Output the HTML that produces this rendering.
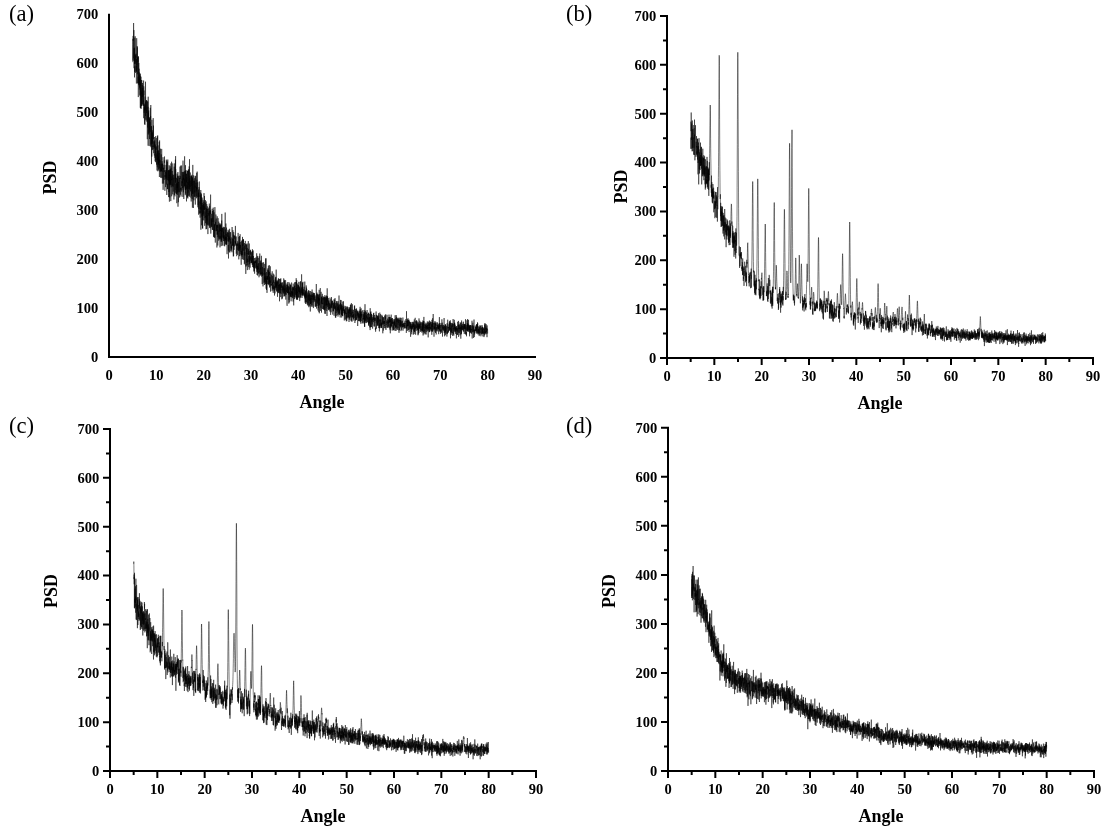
<!DOCTYPE html>
<html><head><meta charset="utf-8"><title>PSD</title>
<style>
html,body{margin:0;padding:0;background:#fff;width:1111px;height:833px;overflow:hidden}
svg{display:block;will-change:transform}
text{font-family:"Liberation Serif",serif;fill:#000}
.tl text{font-size:14.5px;font-weight:bold}
.at{font-size:18px;font-weight:bold}
.pl{font-size:22.6px}
</style></head><body>
<svg width="1111" height="833" viewBox="0 0 1111 833">
<path d="M108 357H536M109 358V13.8" stroke="#000" stroke-width="2" fill="none"/>
<g class="tl"><text x="98.2" y="361.5" text-anchor="end">0</text><text x="98.2" y="312.6" text-anchor="end">100</text><text x="98.2" y="263.7" text-anchor="end">200</text><text x="98.2" y="214.8" text-anchor="end">300</text><text x="98.2" y="166.0" text-anchor="end">400</text><text x="98.2" y="117.1" text-anchor="end">500</text><text x="98.2" y="68.2" text-anchor="end">600</text><text x="98.2" y="19.3" text-anchor="end">700</text><text x="109.0" y="380.0" text-anchor="middle">0</text><text x="156.3" y="380.0" text-anchor="middle">10</text><text x="203.7" y="380.0" text-anchor="middle">20</text><text x="251.0" y="380.0" text-anchor="middle">30</text><text x="298.3" y="380.0" text-anchor="middle">40</text><text x="345.7" y="380.0" text-anchor="middle">50</text><text x="393.0" y="380.0" text-anchor="middle">60</text><text x="440.3" y="380.0" text-anchor="middle">70</text><text x="487.7" y="380.0" text-anchor="middle">80</text><text x="535.0" y="380.0" text-anchor="middle">90</text></g>
<text class="at" x="322.0" y="408.0" text-anchor="middle">Angle</text>
<text class="at" transform="translate(56.0 177.4) rotate(-90)" text-anchor="middle">PSD</text>
<text class="pl" x="9" y="20.6">(a)</text>
<path d="M132.7 62.2L132.8 44.6L132.9 38.8L133.0 41.9L133.0 60.6L133.1 35.9L133.2 40.7L133.3 40.9L133.4 40.7L133.5 36.6L133.6 23.0L133.7 58.3L133.8 50.6L133.9 30.1L134.0 68.2L134.1 48.3L134.2 61.1L134.3 53.3L134.4 47.7L134.5 77.4L134.6 66.4L134.7 71.9L134.7 58.0L134.8 64.0L134.9 37.7L135.0 63.9L135.1 36.2L135.2 62.4L135.3 54.6L135.4 57.9L135.5 58.7L135.6 72.9L135.7 55.7L135.8 55.6L135.9 57.8L136.0 53.7L136.1 71.5L136.2 65.7L136.3 70.6L136.4 83.5L136.5 59.2L136.5 71.7L136.6 65.5L136.7 38.2L136.8 62.9L136.9 64.8L137.0 53.8L137.1 52.3L137.2 46.1L137.3 74.3L137.4 47.3L137.5 70.7L137.6 83.4L137.7 81.1L137.8 57.6L137.9 62.2L138.0 56.6L138.1 83.1L138.2 76.8L138.3 87.4L138.3 97.1L138.4 74.6L138.5 56.4L138.6 62.4L138.7 85.2L138.8 62.9L138.9 83.9L139.0 74.1L139.1 68.7L139.2 83.7L139.3 89.8L139.4 72.5L139.5 82.7L139.6 87.7L139.7 74.5L139.8 85.0L139.9 78.7L140.0 94.9L140.1 76.0L140.1 95.9L140.2 90.1L140.3 107.8L140.4 73.6L140.5 86.4L140.6 82.8L140.7 108.2L140.8 87.5L140.9 94.4L141.0 76.7L141.1 108.9L141.2 87.5L141.3 80.0L141.4 106.1L141.5 91.8L141.6 105.9L141.7 93.6L141.8 90.8L141.8 80.1L141.9 93.6L142.0 103.7L142.1 89.9L142.2 96.8L142.3 85.1L142.4 104.5L142.5 83.0L142.6 96.6L142.7 96.1L142.8 88.0L142.9 105.5L143.0 105.7L143.1 94.6L143.2 101.6L143.3 100.5L143.4 105.9L143.5 105.1L143.6 92.4L143.6 80.5L143.7 118.2L143.8 86.3L143.9 95.3L144.0 90.5L144.1 102.3L144.2 112.8L144.3 107.2L144.4 115.7L144.5 124.3L144.6 107.0L144.7 103.7L144.8 110.1L144.9 105.2L145.0 124.8L145.1 96.5L145.2 110.3L145.3 108.5L145.4 101.5L145.4 116.0L145.5 81.7L145.6 96.9L145.7 97.5L145.8 109.8L145.9 119.6L146.0 106.8L146.1 120.6L146.2 110.5L146.3 110.9L146.4 100.4L146.5 109.5L146.6 113.1L146.7 100.0L146.8 116.8L146.9 121.7L147.0 121.9L147.1 101.0L147.2 116.8L147.2 123.8L147.3 139.2L147.4 129.7L147.5 115.4L147.6 112.9L147.7 101.7L147.8 127.5L147.9 115.0L148.0 106.8L148.1 145.7L148.2 96.7L148.3 134.1L148.4 134.5L148.5 112.7L148.6 118.6L148.7 110.5L148.8 116.9L148.9 121.0L148.9 125.9L149.0 133.2L149.1 119.0L149.2 146.1L149.3 128.0L149.4 118.1L149.5 139.0L149.6 118.2L149.7 117.1L149.8 127.0L149.9 129.8L150.0 122.6L150.1 122.1L150.2 131.8L150.3 107.8L150.4 113.9L150.5 119.7L150.6 115.9L150.7 117.2L150.7 145.8L150.8 105.0L150.9 147.2L151.0 130.2L151.1 144.3L151.2 126.4L151.3 128.8L151.4 131.2L151.5 164.1L151.6 126.1L151.7 132.2L151.8 156.6L151.9 119.8L152.0 137.5L152.1 144.1L152.2 132.1L152.3 142.5L152.4 133.2L152.5 141.4L152.5 147.3L152.6 150.1L152.7 130.3L152.8 137.9L152.9 147.1L153.0 145.7L153.1 149.1L153.2 118.1L153.3 136.7L153.4 139.1L153.5 125.6L153.6 148.3L153.7 153.2L153.8 147.5L153.9 140.9L154.0 145.0L154.1 146.8L154.2 142.0L154.3 148.5L154.3 155.5L154.4 137.0L154.5 147.7L154.6 148.4L154.7 140.4L154.8 141.7L154.9 157.8L155.0 154.2L155.1 161.3L155.2 159.6L155.3 144.6L155.4 153.0L155.5 157.9L155.6 162.2L155.7 136.2L155.8 153.6L155.9 147.3L156.0 150.8L156.0 160.0L156.1 146.3L156.2 149.7L156.3 138.1L156.4 145.7L156.5 164.6L156.6 153.6L156.7 153.8L156.8 153.8L156.9 165.8L157.0 170.5L157.1 155.3L157.2 150.8L157.3 166.6L157.4 136.4L157.5 148.7L157.6 160.4L157.7 135.4L157.8 171.3L157.8 166.5L157.9 167.4L158.0 145.4L158.1 164.7L158.2 150.3L158.3 155.4L158.4 164.0L158.5 157.1L158.6 170.4L158.7 150.7L158.8 169.0L158.9 168.2L159.0 153.0L159.1 164.7L159.2 141.8L159.3 146.9L159.4 177.0L159.5 159.5L159.6 162.6L159.6 140.4L159.7 167.1L159.8 168.1L159.9 164.1L160.0 164.5L160.1 171.5L160.2 160.3L160.3 168.3L160.4 171.6L160.5 148.7L160.6 162.3L160.7 174.2L160.8 177.7L160.9 167.7L161.0 176.8L161.1 177.5L161.2 154.4L161.3 166.8L161.4 171.0L161.4 164.0L161.5 171.5L161.6 165.5L161.7 148.9L161.8 167.0L161.9 172.8L162.0 178.1L162.1 161.2L162.2 169.2L162.3 163.9L162.4 183.6L162.5 172.0L162.6 167.5L162.7 163.6L162.8 166.5L162.9 171.8L163.0 157.2L163.1 169.9L163.1 189.8L163.2 182.3L163.3 170.8L163.4 168.4L163.5 183.5L163.6 182.6L163.7 167.7L163.8 168.9L163.9 168.1L164.0 165.1L164.1 171.5L164.2 179.8L164.3 160.4L164.4 162.8L164.5 156.5L164.6 168.6L164.7 171.8L164.8 171.0L164.9 170.3L164.9 190.8L165.0 175.0L165.1 177.0L165.2 170.3L165.3 171.0L165.4 177.1L165.5 178.5L165.6 187.1L165.7 172.0L165.8 179.2L165.9 178.3L166.0 164.9L166.1 165.4L166.2 178.4L166.3 159.6L166.4 168.9L166.5 175.4L166.6 184.5L166.7 184.6L166.7 167.6L166.8 195.0L166.9 160.6L167.0 170.4L167.1 180.3L167.2 161.9L167.3 175.0L167.4 189.1L167.5 183.8L167.6 187.9L167.7 189.1L167.8 159.5L167.9 177.0L168.0 179.8L168.1 170.7L168.2 172.9L168.3 184.9L168.4 187.9L168.5 197.1L168.5 170.0L168.6 181.2L168.7 170.5L168.8 178.8L168.9 192.0L169.0 185.0L169.1 165.2L169.2 185.1L169.3 174.7L169.4 201.7L169.5 187.0L169.6 170.5L169.7 197.4L169.8 169.6L169.9 184.3L170.0 185.4L170.1 166.2L170.2 184.5L170.2 169.4L170.3 183.3L170.4 176.1L170.5 169.8L170.6 169.4L170.7 181.9L170.8 201.1L170.9 163.4L171.0 185.0L171.1 167.8L171.2 187.3L171.3 183.9L171.4 178.9L171.5 180.2L171.6 161.7L171.7 196.3L171.8 185.3L171.9 177.7L172.0 176.2L172.0 180.0L172.1 178.6L172.2 171.0L172.3 185.8L172.4 185.9L172.5 181.8L172.6 174.4L172.7 194.4L172.8 163.4L172.9 184.5L173.0 187.1L173.1 184.5L173.2 191.6L173.3 190.1L173.4 184.5L173.5 177.2L173.6 174.8L173.7 185.4L173.8 184.5L173.8 177.6L173.9 199.5L174.0 183.6L174.1 172.2L174.2 166.7L174.3 184.0L174.4 195.0L174.5 187.9L174.6 170.7L174.7 163.4L174.8 183.9L174.9 196.4L175.0 181.0L175.1 175.2L175.2 174.1L175.3 179.1L175.4 159.7L175.5 182.6L175.6 156.1L175.6 192.7L175.7 169.1L175.8 172.3L175.9 175.1L176.0 190.0L176.1 184.1L176.2 194.0L176.3 182.5L176.4 180.4L176.5 177.8L176.6 194.3L176.7 189.9L176.8 203.2L176.9 182.7L177.0 193.0L177.1 173.6L177.2 188.5L177.3 178.8L177.3 187.1L177.4 183.9L177.5 185.6L177.6 194.8L177.7 175.8L177.8 191.9L177.9 172.0L178.0 206.7L178.1 188.6L178.2 176.4L178.3 176.2L178.4 202.2L178.5 182.4L178.6 182.7L178.7 181.9L178.8 187.9L178.9 191.8L179.0 182.8L179.1 179.4L179.1 175.5L179.2 185.5L179.3 192.3L179.4 178.0L179.5 197.5L179.6 191.4L179.7 190.8L179.8 185.0L179.9 183.3L180.0 166.6L180.1 179.0L180.2 176.0L180.3 188.5L180.4 194.7L180.5 188.2L180.6 189.5L180.7 165.6L180.8 171.1L180.9 176.7L180.9 185.4L181.0 196.6L181.1 187.5L181.2 190.3L181.3 191.6L181.4 180.6L181.5 168.3L181.6 165.5L181.7 186.1L181.8 183.4L181.9 181.3L182.0 190.3L182.1 171.9L182.2 179.2L182.3 183.1L182.4 178.8L182.5 188.2L182.6 185.9L182.7 172.1L182.7 174.6L182.8 182.2L182.9 196.9L183.0 160.6L183.1 179.2L183.2 174.6L183.3 192.3L183.4 177.9L183.5 177.7L183.6 180.1L183.7 172.1L183.8 199.0L183.9 171.7L184.0 186.4L184.1 187.4L184.2 183.0L184.3 178.8L184.4 180.9L184.4 186.2L184.5 177.2L184.6 156.3L184.7 176.4L184.8 186.0L184.9 171.3L185.0 174.3L185.1 189.7L185.2 170.9L185.3 195.2L185.4 177.9L185.5 165.2L185.6 193.6L185.7 186.7L185.8 190.0L185.9 170.1L186.0 189.1L186.1 183.4L186.2 178.8L186.2 173.5L186.3 176.1L186.4 191.5L186.5 201.4L186.6 174.0L186.7 182.5L186.8 177.2L186.9 188.7L187.0 183.3L187.1 170.4L187.2 196.9L187.3 185.1L187.4 197.6L187.5 171.0L187.6 181.7L187.7 192.1L187.8 198.5L187.9 182.5L188.0 182.0L188.0 184.9L188.1 171.0L188.2 192.6L188.3 176.3L188.4 169.5L188.5 188.9L188.6 175.5L188.7 169.5L188.8 196.1L188.9 189.4L189.0 195.3L189.1 179.0L189.2 166.4L189.3 196.8L189.4 183.7L189.5 159.2L189.6 189.7L189.7 178.2L189.8 178.6L189.8 188.7L189.9 175.8L190.0 180.8L190.1 185.2L190.2 186.8L190.3 172.5L190.4 183.0L190.5 191.4L190.6 189.2L190.7 181.8L190.8 180.6L190.9 197.6L191.0 176.5L191.1 195.9L191.2 201.5L191.3 188.0L191.4 181.9L191.5 176.2L191.5 195.7L191.6 188.5L191.7 175.7L191.8 185.7L191.9 174.8L192.0 179.3L192.1 199.1L192.2 192.8L192.3 177.3L192.4 207.7L192.5 177.8L192.6 187.1L192.7 193.7L192.8 164.9L192.9 193.9L193.0 191.7L193.1 188.7L193.2 188.8L193.3 181.0L193.3 182.3L193.4 208.0L193.5 175.4L193.6 176.2L193.7 177.7L193.8 181.8L193.9 200.4L194.0 179.5L194.1 190.7L194.2 196.5L194.3 186.4L194.4 180.8L194.5 196.1L194.6 196.9L194.7 181.8L194.8 177.9L194.9 192.5L195.0 185.7L195.1 187.7L195.1 175.7L195.2 185.4L195.3 204.6L195.4 195.9L195.5 177.2L195.6 176.2L195.7 176.8L195.8 190.9L195.9 197.1L196.0 182.8L196.1 190.6L196.2 191.9L196.3 196.1L196.4 186.9L196.5 198.3L196.6 194.1L196.7 172.8L196.8 191.5L196.9 179.7L196.9 189.2L197.0 187.6L197.1 189.9L197.2 171.6L197.3 188.7L197.4 189.8L197.5 191.0L197.6 197.2L197.7 182.3L197.8 200.6L197.9 207.3L198.0 191.6L198.1 190.1L198.2 205.1L198.3 192.3L198.4 195.2L198.5 209.8L198.6 214.7L198.6 193.0L198.7 196.4L198.8 189.4L198.9 209.1L199.0 187.1L199.1 196.9L199.2 194.3L199.3 181.5L199.4 199.3L199.5 201.0L199.6 203.6L199.7 213.0L199.8 201.5L199.9 214.0L200.0 210.9L200.1 217.7L200.2 195.5L200.3 203.7L200.4 192.5L200.4 208.5L200.5 207.3L200.6 210.5L200.7 212.9L200.8 190.0L200.9 229.7L201.0 194.7L201.1 195.9L201.2 210.3L201.3 205.5L201.4 193.5L201.5 207.2L201.6 225.3L201.7 213.9L201.8 197.1L201.9 216.7L202.0 198.2L202.1 212.6L202.2 202.9L202.2 213.8L202.3 215.4L202.4 212.5L202.5 228.1L202.6 205.2L202.7 228.7L202.8 211.0L202.9 220.1L203.0 207.8L203.1 200.1L203.2 210.9L203.3 213.8L203.4 208.9L203.5 207.4L203.6 204.0L203.7 215.7L203.8 201.7L203.9 220.5L204.0 213.3L204.0 193.1L204.1 210.4L204.2 205.9L204.3 208.8L204.4 209.9L204.5 196.0L204.6 212.2L204.7 225.8L204.8 214.6L204.9 211.3L205.0 217.9L205.1 218.2L205.2 202.8L205.3 208.7L205.4 200.1L205.5 211.5L205.6 223.1L205.7 215.9L205.7 216.5L205.8 217.0L205.9 207.9L206.0 229.3L206.1 215.8L206.2 201.4L206.3 224.3L206.4 208.7L206.5 214.8L206.6 229.0L206.7 223.0L206.8 204.1L206.9 221.2L207.0 215.0L207.1 216.4L207.2 225.3L207.3 206.3L207.4 208.3L207.5 212.7L207.5 217.6L207.6 223.3L207.7 224.5L207.8 208.9L207.9 234.1L208.0 208.7L208.1 214.2L208.2 213.2L208.3 217.3L208.4 225.6L208.5 224.6L208.6 218.9L208.7 214.1L208.8 207.6L208.9 215.7L209.0 213.6L209.1 224.7L209.2 211.1L209.3 214.2L209.3 203.6L209.4 210.5L209.5 218.3L209.6 227.9L209.7 205.9L209.8 226.5L209.9 216.4L210.0 210.8L210.1 212.6L210.2 228.2L210.3 227.6L210.4 210.2L210.5 214.1L210.6 194.6L210.7 226.5L210.8 233.6L210.9 230.0L211.0 227.6L211.1 223.9L211.1 218.2L211.2 218.3L211.3 223.2L211.4 227.2L211.5 218.7L211.6 225.4L211.7 213.8L211.8 224.3L211.9 226.6L212.0 211.9L212.1 212.1L212.2 208.8L212.3 229.7L212.4 214.1L212.5 211.0L212.6 220.5L212.7 230.0L212.8 223.7L212.8 217.7L212.9 221.9L213.0 222.1L213.1 215.2L213.2 207.6L213.3 210.9L213.4 230.7L213.5 236.7L213.6 210.2L213.7 212.5L213.8 224.6L213.9 237.2L214.0 212.3L214.1 228.3L214.2 230.9L214.3 226.3L214.4 223.9L214.5 237.6L214.6 235.1L214.6 225.4L214.7 224.9L214.8 237.6L214.9 207.1L215.0 216.3L215.1 221.4L215.2 220.8L215.3 242.6L215.4 225.5L215.5 222.0L215.6 225.5L215.7 223.8L215.8 221.9L215.9 214.5L216.0 218.2L216.1 231.2L216.2 218.5L216.3 230.8L216.4 225.7L216.4 224.8L216.5 227.7L216.6 229.2L216.7 225.7L216.8 225.3L216.9 247.5L217.0 229.0L217.1 234.7L217.2 216.3L217.3 227.2L217.4 234.6L217.5 225.1L217.6 227.8L217.7 224.7L217.8 245.5L217.9 232.1L218.0 237.2L218.1 218.2L218.2 223.7L218.2 231.7L218.3 230.7L218.4 230.9L218.5 234.2L218.6 237.9L218.7 240.7L218.8 221.6L218.9 238.7L219.0 227.5L219.1 224.4L219.2 226.7L219.3 231.7L219.4 226.8L219.5 236.1L219.6 239.4L219.7 224.6L219.8 226.9L219.9 223.0L219.9 232.0L220.0 247.4L220.1 236.0L220.2 237.8L220.3 224.6L220.4 239.2L220.5 225.4L220.6 231.0L220.7 230.7L220.8 231.0L220.9 228.3L221.0 241.6L221.1 224.0L221.2 246.1L221.3 239.2L221.4 239.5L221.5 228.1L221.6 240.4L221.7 220.5L221.7 241.7L221.8 213.9L221.9 229.3L222.0 227.7L222.1 231.7L222.2 227.7L222.3 240.4L222.4 245.6L222.5 228.2L222.6 230.0L222.7 236.6L222.8 237.4L222.9 236.7L223.0 234.3L223.1 228.8L223.2 238.4L223.3 233.5L223.4 226.8L223.5 237.6L223.5 231.6L223.6 241.0L223.7 236.1L223.8 238.6L223.9 227.7L224.0 239.6L224.1 245.8L224.2 235.3L224.3 241.3L224.4 227.1L224.5 234.4L224.6 241.0L224.7 246.3L224.8 237.7L224.9 239.7L225.0 239.2L225.1 237.5L225.2 212.5L225.3 244.4L225.3 236.9L225.4 232.3L225.5 229.5L225.6 239.8L225.7 236.7L225.8 240.9L225.9 223.5L226.0 243.8L226.1 237.0L226.2 244.9L226.3 233.8L226.4 244.7L226.5 227.6L226.6 243.8L226.7 240.5L226.8 240.3L226.9 237.5L227.0 244.7L227.0 253.5L227.1 254.2L227.2 242.0L227.3 232.0L227.4 232.0L227.5 236.8L227.6 232.8L227.7 240.3L227.8 241.4L227.9 236.4L228.0 230.0L228.1 229.7L228.2 237.1L228.3 250.6L228.4 245.0L228.5 258.5L228.6 232.6L228.7 241.0L228.8 230.6L228.8 230.6L228.9 242.0L229.0 235.8L229.1 241.2L229.2 251.9L229.3 237.6L229.4 239.5L229.5 239.4L229.6 228.8L229.7 248.1L229.8 252.6L229.9 234.1L230.0 232.1L230.1 236.5L230.2 240.4L230.3 239.0L230.4 239.4L230.5 240.3L230.6 243.6L230.6 232.2L230.7 245.5L230.8 251.3L230.9 241.4L231.0 246.9L231.1 248.4L231.2 237.4L231.3 250.5L231.4 249.2L231.5 246.5L231.6 248.6L231.7 245.2L231.8 244.7L231.9 251.6L232.0 252.3L232.1 227.0L232.2 240.8L232.3 245.4L232.4 238.5L232.4 240.9L232.5 241.5L232.6 245.3L232.7 244.6L232.8 245.9L232.9 230.2L233.0 244.9L233.1 239.4L233.2 239.0L233.3 256.5L233.4 234.6L233.5 241.2L233.6 256.1L233.7 232.1L233.8 235.9L233.9 240.9L234.0 247.9L234.1 249.8L234.1 244.4L234.2 246.6L234.3 236.0L234.4 238.7L234.5 235.4L234.6 242.0L234.7 244.6L234.8 245.3L234.9 245.7L235.0 244.8L235.1 241.1L235.2 242.1L235.3 243.8L235.4 225.9L235.5 242.9L235.6 241.4L235.7 245.4L235.8 236.6L235.9 237.6L235.9 243.3L236.0 236.4L236.1 239.4L236.2 253.7L236.3 253.4L236.4 251.3L236.5 243.4L236.6 249.9L236.7 256.2L236.8 249.1L236.9 244.9L237.0 245.3L237.1 243.7L237.2 246.0L237.3 243.5L237.4 246.4L237.5 250.8L237.6 254.9L237.7 245.6L237.7 241.3L237.8 249.8L237.9 249.5L238.0 239.5L238.1 232.9L238.2 235.0L238.3 249.6L238.4 251.0L238.5 247.8L238.6 244.6L238.7 243.6L238.8 259.4L238.9 236.9L239.0 239.9L239.1 249.5L239.2 242.5L239.3 251.2L239.4 247.0L239.5 236.0L239.5 256.2L239.6 250.7L239.7 250.4L239.8 249.4L239.9 245.0L240.0 248.0L240.1 234.2L240.2 253.9L240.3 241.9L240.4 250.3L240.5 244.8L240.6 248.8L240.7 250.2L240.8 252.3L240.9 250.1L241.0 255.7L241.1 252.7L241.2 264.8L241.2 250.7L241.3 255.1L241.4 250.9L241.5 255.0L241.6 241.3L241.7 250.4L241.8 250.1L241.9 240.3L242.0 256.6L242.1 248.3L242.2 259.1L242.3 255.6L242.4 255.2L242.5 236.9L242.6 254.9L242.7 244.5L242.8 246.0L242.9 239.7L243.0 251.6L243.0 259.5L243.1 258.5L243.2 239.7L243.3 245.7L243.4 239.6L243.5 239.0L243.6 248.0L243.7 250.7L243.8 246.4L243.9 260.0L244.0 253.2L244.1 251.1L244.2 245.6L244.3 263.5L244.4 264.3L244.5 243.1L244.6 247.4L244.7 254.8L244.8 255.5L244.8 252.1L244.9 263.5L245.0 258.1L245.1 245.3L245.2 245.3L245.3 240.9L245.4 249.2L245.5 244.1L245.6 263.0L245.7 262.9L245.8 273.9L245.9 263.5L246.0 266.7L246.1 248.9L246.2 248.5L246.3 263.7L246.4 265.5L246.5 247.1L246.6 244.8L246.6 262.8L246.7 252.4L246.8 244.2L246.9 252.3L247.0 243.4L247.1 254.0L247.2 253.0L247.3 257.4L247.4 270.1L247.5 258.8L247.6 262.2L247.7 247.8L247.8 265.3L247.9 256.4L248.0 255.2L248.1 251.5L248.2 255.2L248.3 241.1L248.3 252.2L248.4 254.3L248.5 254.6L248.6 249.2L248.7 267.1L248.8 261.7L248.9 256.2L249.0 262.0L249.1 255.8L249.2 269.7L249.3 243.5L249.4 254.9L249.5 256.4L249.6 264.3L249.7 251.6L249.8 250.9L249.9 261.0L250.0 258.1L250.1 267.7L250.1 256.2L250.2 257.4L250.3 250.7L250.4 254.6L250.5 249.8L250.6 259.3L250.7 257.0L250.8 259.7L250.9 258.6L251.0 263.2L251.1 259.6L251.2 263.0L251.3 251.6L251.4 256.5L251.5 258.2L251.6 262.2L251.7 252.4L251.8 258.9L251.9 256.1L251.9 263.1L252.0 257.9L252.1 264.8L252.2 264.7L252.3 264.2L252.4 249.2L252.5 259.8L252.6 250.9L252.7 267.1L252.8 258.6L252.9 264.8L253.0 259.0L253.1 250.4L253.2 251.3L253.3 267.1L253.4 256.6L253.5 256.0L253.6 263.0L253.7 264.7L253.7 268.1L253.8 261.1L253.9 271.6L254.0 264.2L254.1 262.0L254.2 267.7L254.3 270.9L254.4 258.0L254.5 264.4L254.6 273.7L254.7 265.0L254.8 261.4L254.9 267.8L255.0 261.1L255.1 262.7L255.2 261.7L255.3 266.6L255.4 267.7L255.4 257.6L255.5 262.8L255.6 261.8L255.7 260.6L255.8 262.4L255.9 262.3L256.0 262.8L256.1 264.7L256.2 269.0L256.3 260.1L256.4 263.5L256.5 267.5L256.6 260.0L256.7 253.3L256.8 271.8L256.9 264.4L257.0 257.4L257.1 275.0L257.2 266.0L257.2 266.6L257.3 270.1L257.4 255.9L257.5 261.1L257.6 267.1L257.7 275.6L257.8 265.9L257.9 272.5L258.0 263.8L258.1 269.2L258.2 265.4L258.3 257.9L258.4 262.5L258.5 269.2L258.6 268.4L258.7 273.3L258.8 263.0L258.9 273.7L259.0 271.7L259.0 277.3L259.1 267.8L259.2 256.2L259.3 271.4L259.4 271.4L259.5 272.1L259.6 268.2L259.7 266.5L259.8 253.5L259.9 261.3L260.0 267.8L260.1 275.9L260.2 261.0L260.3 266.5L260.4 274.2L260.5 267.8L260.6 269.4L260.7 262.6L260.8 267.2L260.8 274.9L260.9 268.0L261.0 260.2L261.1 267.9L261.2 273.0L261.3 274.1L261.4 255.8L261.5 262.9L261.6 276.6L261.7 267.5L261.8 263.1L261.9 266.0L262.0 274.4L262.1 272.3L262.2 284.1L262.3 273.4L262.4 273.1L262.5 266.9L262.5 273.9L262.6 275.9L262.7 262.5L262.8 266.5L262.9 276.5L263.0 286.4L263.1 284.2L263.2 274.2L263.3 273.5L263.4 274.3L263.5 268.2L263.6 262.3L263.7 268.8L263.8 272.1L263.9 272.4L264.0 283.1L264.1 268.1L264.2 275.5L264.3 268.2L264.3 281.8L264.4 276.3L264.5 285.0L264.6 276.7L264.7 263.9L264.8 279.6L264.9 277.9L265.0 278.2L265.1 273.2L265.2 281.8L265.3 278.7L265.4 284.2L265.5 258.5L265.6 279.8L265.7 277.3L265.8 283.8L265.9 275.9L266.0 278.2L266.1 288.7L266.1 258.3L266.2 279.3L266.3 279.3L266.4 272.0L266.5 290.0L266.6 278.2L266.7 285.2L266.8 281.7L266.9 280.4L267.0 292.9L267.1 281.0L267.2 276.1L267.3 284.0L267.4 276.8L267.5 279.7L267.6 269.6L267.7 279.1L267.8 276.3L267.9 277.8L267.9 280.0L268.0 268.2L268.1 275.8L268.2 276.4L268.3 274.0L268.4 265.6L268.5 284.0L268.6 270.3L268.7 285.2L268.8 279.7L268.9 274.6L269.0 271.6L269.1 284.3L269.2 272.0L269.3 275.3L269.4 265.2L269.5 287.5L269.6 276.4L269.6 282.5L269.7 282.1L269.8 280.0L269.9 283.3L270.0 277.2L270.1 279.6L270.2 286.5L270.3 266.3L270.4 280.3L270.5 291.6L270.6 282.3L270.7 280.6L270.8 282.7L270.9 282.8L271.0 273.5L271.1 284.7L271.2 284.2L271.3 284.7L271.4 284.0L271.4 285.8L271.5 281.1L271.6 275.2L271.7 281.1L271.8 281.1L271.9 285.0L272.0 285.4L272.1 291.2L272.2 271.3L272.3 284.1L272.4 288.4L272.5 282.5L272.6 284.2L272.7 276.1L272.8 280.8L272.9 289.8L273.0 286.5L273.1 288.8L273.2 284.6L273.2 292.9L273.3 273.6L273.4 281.5L273.5 282.8L273.6 282.3L273.7 280.3L273.8 289.1L273.9 283.4L274.0 274.6L274.1 275.7L274.2 290.9L274.3 287.3L274.4 286.3L274.5 295.5L274.6 288.3L274.7 284.9L274.8 281.8L274.9 285.9L275.0 293.4L275.0 286.4L275.1 289.7L275.2 279.5L275.3 280.0L275.4 288.1L275.5 277.5L275.6 287.2L275.7 283.4L275.8 276.8L275.9 281.3L276.0 286.6L276.1 284.4L276.2 269.6L276.3 286.6L276.4 283.1L276.5 291.5L276.6 282.2L276.7 288.1L276.7 280.5L276.8 290.5L276.9 281.7L277.0 285.3L277.1 283.7L277.2 282.7L277.3 281.1L277.4 290.8L277.5 296.8L277.6 286.6L277.7 281.8L277.8 292.6L277.9 279.8L278.0 291.3L278.1 285.3L278.2 286.0L278.3 285.8L278.4 278.2L278.5 293.1L278.5 291.9L278.6 289.3L278.7 285.1L278.8 291.6L278.9 279.0L279.0 286.5L279.1 287.1L279.2 289.4L279.3 281.5L279.4 278.9L279.5 301.3L279.6 284.0L279.7 293.4L279.8 284.8L279.9 286.2L280.0 285.6L280.1 288.0L280.2 290.0L280.3 282.8L280.3 292.9L280.4 279.2L280.5 283.3L280.6 295.1L280.7 297.1L280.8 278.3L280.9 288.5L281.0 293.9L281.1 282.5L281.2 287.3L281.3 285.2L281.4 287.9L281.5 287.5L281.6 284.6L281.7 283.3L281.8 299.3L281.9 288.8L282.0 284.3L282.1 282.4L282.1 290.4L282.2 289.0L282.3 293.1L282.4 298.5L282.5 291.9L282.6 285.7L282.7 289.3L282.8 282.4L282.9 292.3L283.0 286.4L283.1 290.1L283.2 286.8L283.3 293.5L283.4 290.0L283.5 289.7L283.6 288.0L283.7 278.4L283.8 296.5L283.8 284.6L283.9 293.4L284.0 288.9L284.1 291.1L284.2 289.7L284.3 281.0L284.4 291.4L284.5 279.8L284.6 296.0L284.7 289.4L284.8 292.1L284.9 296.4L285.0 288.0L285.1 293.7L285.2 285.5L285.3 294.6L285.4 288.8L285.5 288.8L285.6 280.1L285.6 287.8L285.7 293.7L285.8 299.6L285.9 291.1L286.0 283.5L286.1 287.2L286.2 294.8L286.3 289.7L286.4 287.3L286.5 292.0L286.6 290.2L286.7 291.1L286.8 290.0L286.9 284.9L287.0 304.5L287.1 305.8L287.2 284.6L287.3 293.1L287.4 284.2L287.4 282.2L287.5 293.1L287.6 291.7L287.7 284.6L287.8 284.5L287.9 288.6L288.0 286.1L288.1 292.5L288.2 288.3L288.3 293.1L288.4 286.4L288.5 294.7L288.6 290.8L288.7 289.4L288.8 303.6L288.9 282.0L289.0 299.9L289.1 292.6L289.2 293.1L289.2 291.7L289.3 302.4L289.4 287.2L289.5 288.7L289.6 289.5L289.7 288.3L289.8 283.4L289.9 292.4L290.0 294.4L290.1 285.6L290.2 297.2L290.3 293.1L290.4 296.1L290.5 284.5L290.6 291.2L290.7 285.2L290.8 287.6L290.9 296.8L290.9 291.4L291.0 296.7L291.1 301.3L291.2 290.9L291.3 296.9L291.4 291.7L291.5 292.3L291.6 282.5L291.7 293.2L291.8 294.4L291.9 291.9L292.0 297.3L292.1 290.4L292.2 288.3L292.3 294.2L292.4 298.2L292.5 295.7L292.6 286.7L292.7 295.4L292.7 291.6L292.8 295.7L292.9 296.0L293.0 287.4L293.1 301.5L293.2 283.6L293.3 290.0L293.4 287.1L293.5 294.7L293.6 298.0L293.7 305.4L293.8 295.0L293.9 287.9L294.0 290.2L294.1 289.5L294.2 297.0L294.3 295.1L294.4 285.6L294.5 299.1L294.5 298.2L294.6 282.4L294.7 287.8L294.8 286.2L294.9 293.4L295.0 297.3L295.1 292.4L295.2 289.8L295.3 284.4L295.4 282.0L295.5 293.6L295.6 288.0L295.7 295.2L295.8 294.1L295.9 293.5L296.0 298.3L296.1 297.6L296.2 278.2L296.3 296.9L296.3 282.0L296.4 294.7L296.5 289.0L296.6 299.8L296.7 280.1L296.8 288.2L296.9 299.2L297.0 291.3L297.1 287.1L297.2 299.1L297.3 283.5L297.4 292.9L297.5 291.6L297.6 299.9L297.7 293.2L297.8 284.8L297.9 291.3L298.0 294.7L298.0 297.4L298.1 295.4L298.2 285.6L298.3 292.6L298.4 297.5L298.5 285.2L298.6 291.6L298.7 282.2L298.8 281.8L298.9 290.0L299.0 297.4L299.1 295.0L299.2 286.4L299.3 287.2L299.4 292.2L299.5 287.3L299.6 291.2L299.7 301.1L299.8 288.5L299.8 292.5L299.9 291.5L300.0 294.3L300.1 281.9L300.2 290.8L300.3 298.1L300.4 292.6L300.5 281.2L300.6 293.8L300.7 296.9L300.8 290.9L300.9 289.5L301.0 289.6L301.1 295.0L301.2 293.1L301.3 293.5L301.4 287.7L301.5 292.9L301.6 288.9L301.6 274.3L301.7 290.6L301.8 290.9L301.9 291.3L302.0 298.0L302.1 286.8L302.2 295.9L302.3 282.3L302.4 295.2L302.5 283.2L302.6 294.8L302.7 287.6L302.8 293.6L302.9 284.1L303.0 281.8L303.1 292.6L303.2 293.2L303.3 294.2L303.4 293.2L303.4 292.2L303.5 290.5L303.6 289.3L303.7 295.0L303.8 292.5L303.9 294.2L304.0 296.2L304.1 286.7L304.2 295.9L304.3 294.3L304.4 294.4L304.5 294.7L304.6 297.3L304.7 294.3L304.8 281.6L304.9 298.1L305.0 298.6L305.1 290.0L305.1 302.7L305.2 292.5L305.3 299.3L305.4 300.6L305.5 303.9L305.6 291.3L305.7 301.8L305.8 294.4L305.9 297.5L306.0 290.9L306.1 297.9L306.2 285.4L306.3 290.8L306.4 287.5L306.5 302.3L306.6 293.2L306.7 288.8L306.8 291.7L306.9 303.0L306.9 303.8L307.0 300.3L307.1 300.2L307.2 291.5L307.3 294.3L307.4 305.2L307.5 294.3L307.6 294.0L307.7 293.3L307.8 298.5L307.9 302.0L308.0 303.3L308.1 295.2L308.2 305.7L308.3 302.5L308.4 291.4L308.5 291.2L308.6 293.6L308.7 300.3L308.7 290.0L308.8 307.2L308.9 303.5L309.0 298.9L309.1 294.6L309.2 305.4L309.3 293.3L309.4 299.1L309.5 298.9L309.6 300.9L309.7 291.1L309.8 302.4L309.9 306.4L310.0 296.0L310.1 294.5L310.2 296.9L310.3 311.5L310.4 295.4L310.5 300.8L310.5 304.0L310.6 294.7L310.7 291.0L310.8 304.1L310.9 298.7L311.0 303.0L311.1 297.9L311.2 299.2L311.3 294.9L311.4 301.1L311.5 306.6L311.6 296.3L311.7 297.2L311.8 292.1L311.9 305.1L312.0 298.5L312.1 289.5L312.2 299.9L312.2 294.2L312.3 296.8L312.4 295.7L312.5 302.7L312.6 305.0L312.7 306.7L312.8 303.5L312.9 296.5L313.0 292.6L313.1 302.5L313.2 297.9L313.3 294.9L313.4 308.1L313.5 300.8L313.6 292.9L313.7 297.2L313.8 299.2L313.9 298.0L314.0 300.0L314.0 293.0L314.1 297.1L314.2 300.6L314.3 293.7L314.4 293.2L314.5 297.8L314.6 296.6L314.7 301.6L314.8 301.9L314.9 296.5L315.0 294.9L315.1 306.6L315.2 298.9L315.3 302.4L315.4 303.8L315.5 306.2L315.6 306.7L315.7 305.8L315.8 299.5L315.8 298.4L315.9 296.3L316.0 303.6L316.1 306.3L316.2 301.8L316.3 284.0L316.4 302.7L316.5 306.4L316.6 308.6L316.7 299.7L316.8 293.7L316.9 302.6L317.0 292.6L317.1 304.2L317.2 305.8L317.3 302.6L317.4 294.6L317.5 303.0L317.6 303.7L317.6 301.3L317.7 294.2L317.8 298.7L317.9 299.5L318.0 310.5L318.1 302.7L318.2 299.3L318.3 297.5L318.4 297.2L318.5 308.2L318.6 295.3L318.7 305.5L318.8 294.3L318.9 312.1L319.0 297.7L319.1 300.8L319.2 289.8L319.3 301.8L319.3 313.3L319.4 298.7L319.5 303.8L319.6 305.3L319.7 294.2L319.8 297.4L319.9 300.3L320.0 301.0L320.1 299.2L320.2 291.7L320.3 288.1L320.4 303.6L320.5 307.6L320.6 310.9L320.7 307.4L320.8 301.2L320.9 308.1L321.0 302.7L321.1 303.5L321.1 291.8L321.2 302.3L321.3 299.6L321.4 297.2L321.5 312.6L321.6 297.2L321.7 301.3L321.8 299.2L321.9 303.8L322.0 295.9L322.1 303.7L322.2 300.9L322.3 293.8L322.4 295.2L322.5 309.1L322.6 305.7L322.7 302.8L322.8 304.3L322.9 302.7L322.9 298.0L323.0 299.2L323.1 299.6L323.2 297.9L323.3 308.9L323.4 305.5L323.5 296.5L323.6 308.1L323.7 309.7L323.8 305.6L323.9 309.3L324.0 305.4L324.1 297.1L324.2 302.8L324.3 303.3L324.4 308.6L324.5 310.4L324.6 297.4L324.7 313.7L324.7 309.3L324.8 295.2L324.9 303.8L325.0 309.9L325.1 297.1L325.2 305.7L325.3 303.5L325.4 298.1L325.5 306.7L325.6 313.8L325.7 303.7L325.8 296.5L325.9 301.9L326.0 301.7L326.1 308.3L326.2 302.6L326.3 295.4L326.4 297.5L326.4 304.7L326.5 298.2L326.6 305.5L326.7 296.5L326.8 311.0L326.9 303.5L327.0 316.0L327.1 306.0L327.2 288.3L327.3 305.5L327.4 296.6L327.5 301.7L327.6 296.5L327.7 307.0L327.8 307.0L327.9 305.0L328.0 304.2L328.1 304.5L328.2 302.1L328.2 308.9L328.3 301.6L328.4 298.1L328.5 309.2L328.6 310.0L328.7 300.7L328.8 304.0L328.9 300.4L329.0 310.3L329.1 307.1L329.2 302.7L329.3 308.3L329.4 303.7L329.5 304.8L329.6 309.3L329.7 306.8L329.8 310.1L329.9 311.6L330.0 308.8L330.0 297.6L330.1 305.8L330.2 303.8L330.3 308.4L330.4 307.7L330.5 305.5L330.6 314.9L330.7 313.3L330.8 311.3L330.9 299.3L331.0 302.4L331.1 312.3L331.2 309.5L331.3 302.7L331.4 307.6L331.5 297.1L331.6 303.8L331.7 307.5L331.8 304.3L331.8 301.3L331.9 304.3L332.0 308.3L332.1 300.8L332.2 300.7L332.3 304.9L332.4 300.9L332.5 300.8L332.6 302.4L332.7 312.8L332.8 314.6L332.9 305.5L333.0 302.7L333.1 306.6L333.2 311.0L333.3 304.7L333.4 311.4L333.5 310.4L333.5 306.6L333.6 303.2L333.7 303.2L333.8 308.1L333.9 306.9L334.0 299.3L334.1 315.8L334.2 305.6L334.3 303.8L334.4 302.0L334.5 306.5L334.6 308.9L334.7 299.7L334.8 308.4L334.9 306.9L335.0 298.1L335.1 305.3L335.2 308.3L335.3 309.8L335.3 303.1L335.4 317.6L335.5 310.0L335.6 307.4L335.7 306.4L335.8 317.6L335.9 309.8L336.0 305.5L336.1 312.8L336.2 311.9L336.3 315.8L336.4 301.7L336.5 301.2L336.6 301.2L336.7 311.3L336.8 307.6L336.9 305.2L337.0 301.3L337.1 312.3L337.1 303.3L337.2 306.0L337.3 303.4L337.4 303.9L337.5 310.5L337.6 306.3L337.7 310.5L337.8 315.1L337.9 307.2L338.0 316.6L338.1 301.2L338.2 304.8L338.3 310.4L338.4 305.6L338.5 310.2L338.6 307.6L338.7 313.6L338.8 303.7L338.9 314.4L338.9 312.7L339.0 295.5L339.1 305.2L339.2 312.6L339.3 305.0L339.4 315.1L339.5 309.5L339.6 313.3L339.7 312.3L339.8 309.1L339.9 306.3L340.0 304.1L340.1 310.2L340.2 317.5L340.3 307.9L340.4 308.6L340.5 302.9L340.6 307.6L340.6 299.9L340.7 304.1L340.8 310.4L340.9 307.0L341.0 309.4L341.1 300.2L341.2 314.3L341.3 310.4L341.4 306.4L341.5 314.9L341.6 305.1L341.7 317.5L341.8 304.1L341.9 308.0L342.0 310.7L342.1 310.0L342.2 315.7L342.3 305.7L342.4 306.2L342.4 315.6L342.5 308.3L342.6 310.5L342.7 310.2L342.8 316.2L342.9 301.7L343.0 305.2L343.1 312.8L343.2 310.0L343.3 301.2L343.4 310.3L343.5 310.9L343.6 308.1L343.7 307.0L343.8 310.9L343.9 310.1L344.0 305.7L344.1 313.0L344.2 313.7L344.2 310.7L344.3 320.5L344.4 316.2L344.5 309.3L344.6 315.2L344.7 309.9L344.8 312.8L344.9 311.5L345.0 318.8L345.1 319.1L345.2 319.4L345.3 305.9L345.4 313.5L345.5 310.8L345.6 308.1L345.7 307.6L345.8 314.7L345.9 319.6L346.0 315.3L346.0 313.0L346.1 314.1L346.2 312.7L346.3 321.3L346.4 315.4L346.5 317.9L346.6 307.3L346.7 317.0L346.8 321.1L346.9 310.6L347.0 306.1L347.1 308.2L347.2 308.6L347.3 309.6L347.4 312.1L347.5 313.0L347.6 317.4L347.7 311.0L347.7 307.2L347.8 308.0L347.9 318.4L348.0 307.3L348.1 313.5L348.2 310.5L348.3 309.1L348.4 317.0L348.5 313.7L348.6 309.8L348.7 317.5L348.8 315.3L348.9 311.4L349.0 322.0L349.1 320.5L349.2 315.7L349.3 319.7L349.4 316.6L349.5 307.3L349.5 311.4L349.6 309.1L349.7 318.1L349.8 309.6L349.9 313.9L350.0 307.6L350.1 315.9L350.2 311.9L350.3 311.1L350.4 304.8L350.5 311.0L350.6 317.3L350.7 312.3L350.8 304.6L350.9 316.8L351.0 320.5L351.1 316.3L351.2 309.5L351.3 321.4L351.3 318.5L351.4 303.1L351.5 315.1L351.6 314.8L351.7 312.7L351.8 313.0L351.9 316.9L352.0 315.2L352.1 321.6L352.2 311.7L352.3 313.2L352.4 304.3L352.5 317.3L352.6 316.4L352.7 317.3L352.8 315.6L352.9 311.3L353.0 309.5L353.1 316.1L353.1 314.8L353.2 317.5L353.3 310.0L353.4 319.2L353.5 318.0L353.6 314.9L353.7 314.1L353.8 320.6L353.9 317.2L354.0 315.9L354.1 312.2L354.2 317.9L354.3 317.7L354.4 306.2L354.5 310.4L354.6 305.4L354.7 307.0L354.8 311.9L354.8 310.4L354.9 323.0L355.0 320.6L355.1 316.5L355.2 311.1L355.3 314.5L355.4 317.9L355.5 320.7L355.6 309.1L355.7 320.2L355.8 314.5L355.9 314.9L356.0 316.7L356.1 314.7L356.2 314.4L356.3 308.3L356.4 319.6L356.5 316.8L356.6 320.1L356.6 309.4L356.7 312.1L356.8 314.3L356.9 314.9L357.0 316.5L357.1 313.7L357.2 311.5L357.3 312.2L357.4 315.4L357.5 311.5L357.6 315.8L357.7 326.0L357.8 310.5L357.9 317.6L358.0 318.2L358.1 313.3L358.2 315.9L358.3 317.2L358.4 316.3L358.4 312.8L358.5 315.5L358.6 316.4L358.7 321.0L358.8 311.5L358.9 321.1L359.0 319.2L359.1 314.0L359.2 317.8L359.3 314.4L359.4 321.3L359.5 316.8L359.6 313.0L359.7 310.7L359.8 317.6L359.9 315.2L360.0 314.3L360.1 306.8L360.2 320.7L360.2 309.2L360.3 320.3L360.4 315.0L360.5 311.5L360.6 322.0L360.7 313.9L360.8 323.7L360.9 313.7L361.0 315.8L361.1 308.3L361.2 315.1L361.3 314.2L361.4 317.6L361.5 311.5L361.6 319.3L361.7 320.9L361.8 316.9L361.9 314.1L361.9 314.2L362.0 317.1L362.1 318.6L362.2 323.5L362.3 323.1L362.4 317.4L362.5 314.1L362.6 310.3L362.7 312.2L362.8 313.7L362.9 318.4L363.0 322.8L363.1 318.0L363.2 319.7L363.3 319.4L363.4 314.2L363.5 319.2L363.6 318.9L363.7 316.6L363.7 315.8L363.8 316.3L363.9 312.2L364.0 323.6L364.1 309.9L364.2 319.0L364.3 321.8L364.4 312.5L364.5 326.7L364.6 316.5L364.7 326.9L364.8 312.8L364.9 320.4L365.0 304.2L365.1 322.7L365.2 310.6L365.3 318.7L365.4 318.3L365.5 320.5L365.5 320.8L365.6 319.5L365.7 311.6L365.8 314.7L365.9 315.1L366.0 322.6L366.1 317.5L366.2 314.9L366.3 323.1L366.4 314.7L366.5 312.5L366.6 316.9L366.7 317.8L366.8 315.9L366.9 321.5L367.0 313.6L367.1 310.0L367.2 318.8L367.3 317.2L367.3 320.1L367.4 320.2L367.5 320.6L367.6 322.0L367.7 313.9L367.8 319.8L367.9 319.1L368.0 318.1L368.1 322.9L368.2 314.2L368.3 314.8L368.4 312.7L368.5 324.9L368.6 317.7L368.7 312.9L368.8 326.0L368.9 321.1L369.0 323.9L369.0 318.5L369.1 317.3L369.2 318.0L369.3 320.7L369.4 316.9L369.5 323.0L369.6 314.1L369.7 319.2L369.8 327.4L369.9 319.7L370.0 317.3L370.1 330.1L370.2 308.2L370.3 321.9L370.4 327.3L370.5 314.4L370.6 312.3L370.7 314.6L370.8 318.0L370.8 320.0L370.9 311.4L371.0 316.0L371.1 327.0L371.2 314.6L371.3 314.1L371.4 327.1L371.5 326.5L371.6 313.9L371.7 319.8L371.8 322.1L371.9 321.8L372.0 314.9L372.1 320.9L372.2 324.5L372.3 317.2L372.4 320.4L372.5 319.3L372.6 319.3L372.6 328.6L372.7 319.8L372.8 320.2L372.9 318.6L373.0 318.6L373.1 318.9L373.2 319.7L373.3 316.7L373.4 319.6L373.5 313.3L373.6 322.0L373.7 322.2L373.8 312.8L373.9 318.8L374.0 320.7L374.1 326.2L374.2 318.6L374.3 326.6L374.4 323.3L374.4 321.4L374.5 315.0L374.6 316.4L374.7 319.2L374.8 317.9L374.9 321.1L375.0 317.4L375.1 320.6L375.2 318.2L375.3 318.2L375.4 329.8L375.5 327.8L375.6 331.7L375.7 331.0L375.8 322.8L375.9 321.6L376.0 316.1L376.1 311.5L376.1 322.8L376.2 315.4L376.3 314.8L376.4 318.1L376.5 328.7L376.6 325.8L376.7 325.3L376.8 319.3L376.9 315.0L377.0 326.0L377.1 323.7L377.2 321.4L377.3 319.3L377.4 324.4L377.5 316.0L377.6 319.1L377.7 315.8L377.8 325.1L377.9 317.4L377.9 325.8L378.0 317.8L378.1 318.8L378.2 317.7L378.3 317.6L378.4 318.2L378.5 322.7L378.6 313.2L378.7 328.1L378.8 315.5L378.9 320.4L379.0 322.6L379.1 325.8L379.2 323.4L379.3 323.5L379.4 331.4L379.5 319.7L379.6 328.2L379.7 325.0L379.7 328.2L379.8 312.6L379.9 321.3L380.0 319.2L380.1 320.8L380.2 320.7L380.3 321.7L380.4 325.2L380.5 314.2L380.6 318.6L380.7 326.4L380.8 319.8L380.9 324.4L381.0 327.0L381.1 328.1L381.2 323.4L381.3 328.0L381.4 325.3L381.5 322.2L381.5 327.5L381.6 323.4L381.7 325.5L381.8 314.8L381.9 322.3L382.0 315.8L382.1 317.1L382.2 317.8L382.3 324.2L382.4 322.8L382.5 316.6L382.6 317.6L382.7 325.7L382.8 333.3L382.9 321.4L383.0 324.7L383.1 320.5L383.2 317.7L383.2 318.8L383.3 323.5L383.4 330.6L383.5 317.1L383.6 319.4L383.7 323.8L383.8 321.4L383.9 321.7L384.0 322.4L384.1 322.5L384.2 320.8L384.3 324.0L384.4 322.4L384.5 321.2L384.6 325.8L384.7 324.7L384.8 328.0L384.9 316.0L385.0 323.8L385.0 314.9L385.1 328.4L385.2 318.1L385.3 317.1L385.4 319.3L385.5 319.0L385.6 315.0L385.7 314.3L385.8 326.6L385.9 329.9L386.0 330.0L386.1 324.2L386.2 324.8L386.3 324.3L386.4 324.5L386.5 322.1L386.6 322.5L386.7 320.3L386.8 327.5L386.8 323.0L386.9 320.4L387.0 314.8L387.1 320.0L387.2 323.6L387.3 320.3L387.4 318.6L387.5 321.6L387.6 323.0L387.7 324.5L387.8 327.8L387.9 320.7L388.0 327.7L388.1 321.6L388.2 326.3L388.3 325.3L388.4 321.3L388.5 319.7L388.6 321.8L388.6 323.3L388.7 321.9L388.8 317.0L388.9 327.2L389.0 314.6L389.1 317.7L389.2 322.9L389.3 317.5L389.4 322.0L389.5 322.1L389.6 317.0L389.7 319.0L389.8 328.4L389.9 323.1L390.0 319.1L390.1 330.2L390.2 323.7L390.3 333.3L390.3 316.9L390.4 322.2L390.5 320.7L390.6 320.5L390.7 319.8L390.8 327.9L390.9 318.7L391.0 326.1L391.1 324.0L391.2 314.6L391.3 326.4L391.4 320.7L391.5 318.6L391.6 326.5L391.7 322.4L391.8 323.0L391.9 321.3L392.0 318.3L392.1 320.3L392.1 320.6L392.2 330.6L392.3 323.3L392.4 318.0L392.5 323.9L392.6 323.6L392.7 320.3L392.8 323.6L392.9 323.5L393.0 322.1L393.1 328.4L393.2 322.2L393.3 330.0L393.4 325.4L393.5 330.3L393.6 327.4L393.7 326.8L393.8 319.0L393.9 319.4L393.9 324.2L394.0 324.8L394.1 320.5L394.2 329.5L394.3 321.3L394.4 325.8L394.5 319.3L394.6 320.4L394.7 324.8L394.8 322.4L394.9 325.7L395.0 330.9L395.1 315.3L395.2 320.1L395.3 320.9L395.4 325.4L395.5 325.1L395.6 327.3L395.7 318.3L395.7 327.8L395.8 325.2L395.9 326.0L396.0 331.0L396.1 328.9L396.2 315.0L396.3 320.6L396.4 327.4L396.5 326.3L396.6 316.8L396.7 323.4L396.8 329.2L396.9 329.4L397.0 318.5L397.1 321.8L397.2 317.8L397.3 324.8L397.4 329.8L397.4 325.3L397.5 320.9L397.6 318.9L397.7 319.1L397.8 320.0L397.9 328.0L398.0 319.7L398.1 323.8L398.2 324.8L398.3 324.7L398.4 318.2L398.5 317.8L398.6 323.4L398.7 319.5L398.8 330.3L398.9 324.3L399.0 332.8L399.1 322.3L399.2 319.6L399.2 319.6L399.3 320.4L399.4 320.1L399.5 330.2L399.6 325.8L399.7 317.7L399.8 325.5L399.9 326.2L400.0 320.0L400.1 320.1L400.2 324.6L400.3 325.7L400.4 322.7L400.5 320.5L400.6 327.4L400.7 317.7L400.8 325.1L400.9 326.6L401.0 321.9L401.0 331.1L401.1 320.4L401.2 317.9L401.3 321.9L401.4 325.6L401.5 324.8L401.6 329.8L401.7 325.7L401.8 322.3L401.9 320.6L402.0 325.1L402.1 321.7L402.2 320.9L402.3 321.0L402.4 327.5L402.5 323.9L402.6 326.9L402.7 325.1L402.8 325.1L402.8 323.5L402.9 317.5L403.0 330.7L403.1 323.9L403.2 324.0L403.3 327.1L403.4 326.4L403.5 325.6L403.6 323.2L403.7 325.5L403.8 326.1L403.9 322.9L404.0 327.3L404.1 328.8L404.2 325.2L404.3 327.1L404.4 326.1L404.5 325.1L404.5 328.1L404.6 322.7L404.7 325.9L404.8 322.2L404.9 320.6L405.0 322.6L405.1 323.8L405.2 323.4L405.3 322.9L405.4 323.0L405.5 325.9L405.6 328.1L405.7 324.8L405.8 319.9L405.9 319.0L406.0 321.7L406.1 321.2L406.2 328.8L406.3 324.6L406.3 332.9L406.4 331.1L406.5 311.2L406.6 323.0L406.7 324.3L406.8 328.3L406.9 321.0L407.0 323.0L407.1 323.6L407.2 331.0L407.3 327.5L407.4 320.6L407.5 326.1L407.6 319.2L407.7 326.4L407.8 324.7L407.9 325.9L408.0 318.2L408.1 330.2L408.1 320.3L408.2 320.4L408.3 325.7L408.4 320.2L408.5 323.7L408.6 329.1L408.7 329.0L408.8 329.9L408.9 328.2L409.0 319.7L409.1 332.1L409.2 330.4L409.3 330.0L409.4 325.3L409.5 321.4L409.6 323.8L409.7 321.9L409.8 328.7L409.9 326.2L409.9 324.1L410.0 327.2L410.1 327.1L410.2 322.1L410.3 328.7L410.4 325.7L410.5 331.4L410.6 336.8L410.7 323.2L410.8 327.6L410.9 321.9L411.0 325.0L411.1 324.5L411.2 324.5L411.3 329.0L411.4 324.5L411.5 331.9L411.6 326.4L411.6 333.6L411.7 334.3L411.8 327.6L411.9 325.8L412.0 329.6L412.1 328.2L412.2 322.1L412.3 328.0L412.4 324.5L412.5 325.0L412.6 329.2L412.7 329.1L412.8 321.8L412.9 327.1L413.0 325.8L413.1 324.1L413.2 326.0L413.3 334.7L413.4 322.6L413.4 324.4L413.5 327.0L413.6 325.1L413.7 323.5L413.8 321.7L413.9 326.9L414.0 330.9L414.1 324.1L414.2 334.1L414.3 319.4L414.4 327.7L414.5 332.1L414.6 327.3L414.7 331.6L414.8 325.2L414.9 329.3L415.0 326.6L415.1 319.9L415.2 317.8L415.2 325.1L415.3 328.7L415.4 324.8L415.5 324.4L415.6 334.7L415.7 330.4L415.8 327.4L415.9 321.1L416.0 323.6L416.1 321.5L416.2 330.9L416.3 326.4L416.4 327.9L416.5 325.2L416.6 320.1L416.7 323.0L416.8 328.4L416.9 324.8L417.0 321.1L417.0 323.2L417.1 326.7L417.2 322.1L417.3 329.8L417.4 329.1L417.5 323.5L417.6 325.4L417.7 330.4L417.8 326.1L417.9 325.5L418.0 335.3L418.1 323.8L418.2 329.2L418.3 334.4L418.4 329.0L418.5 327.1L418.6 322.4L418.7 331.1L418.7 331.4L418.8 325.4L418.9 333.1L419.0 318.4L419.1 329.1L419.2 324.4L419.3 327.5L419.4 323.9L419.5 327.9L419.6 328.7L419.7 328.7L419.8 320.7L419.9 324.9L420.0 327.9L420.1 326.7L420.2 322.8L420.3 322.7L420.4 329.1L420.5 331.8L420.5 324.0L420.6 324.3L420.7 324.5L420.8 321.8L420.9 330.1L421.0 326.6L421.1 325.8L421.2 326.4L421.3 330.7L421.4 322.4L421.5 323.1L421.6 325.1L421.7 325.3L421.8 326.7L421.9 332.6L422.0 328.8L422.1 331.5L422.2 323.7L422.3 330.9L422.3 330.6L422.4 322.1L422.5 329.4L422.6 323.4L422.7 330.8L422.8 320.5L422.9 323.3L423.0 330.2L423.1 335.5L423.2 323.1L423.3 326.5L423.4 332.1L423.5 321.0L423.6 327.5L423.7 325.4L423.8 321.4L423.9 316.9L424.0 334.4L424.1 321.3L424.1 329.7L424.2 323.8L424.3 333.1L424.4 333.2L424.5 329.6L424.6 329.8L424.7 331.4L424.8 327.2L424.9 328.0L425.0 327.7L425.1 324.8L425.2 325.5L425.3 329.3L425.4 328.8L425.5 325.9L425.6 324.3L425.7 331.8L425.8 333.9L425.8 322.7L425.9 331.5L426.0 334.7L426.1 325.1L426.2 326.7L426.3 331.9L426.4 328.5L426.5 323.6L426.6 328.2L426.7 326.0L426.8 329.5L426.9 326.1L427.0 328.8L427.1 326.5L427.2 329.6L427.3 321.4L427.4 326.0L427.5 325.1L427.6 331.3L427.6 326.9L427.7 328.5L427.8 322.7L427.9 326.6L428.0 325.4L428.1 326.9L428.2 337.4L428.3 326.7L428.4 321.7L428.5 330.3L428.6 327.2L428.7 326.7L428.8 328.9L428.9 323.8L429.0 325.9L429.1 322.8L429.2 331.9L429.3 327.3L429.4 320.5L429.4 332.2L429.5 327.5L429.6 327.0L429.7 327.8L429.8 323.0L429.9 330.3L430.0 331.5L430.1 321.2L430.2 325.7L430.3 330.4L430.4 327.1L430.5 329.1L430.6 327.3L430.7 327.3L430.8 322.0L430.9 324.6L431.0 322.2L431.1 325.2L431.2 328.6L431.2 325.0L431.3 327.6L431.4 323.8L431.5 326.7L431.6 331.2L431.7 328.0L431.8 334.8L431.9 319.8L432.0 321.5L432.1 330.0L432.2 331.9L432.3 321.8L432.4 331.3L432.5 325.1L432.6 318.2L432.7 326.9L432.8 325.1L432.9 322.8L432.9 325.7L433.0 330.7L433.1 327.0L433.2 314.0L433.3 325.8L433.4 325.9L433.5 326.8L433.6 326.6L433.7 329.5L433.8 326.7L433.9 323.0L434.0 336.7L434.1 327.1L434.2 326.8L434.3 328.1L434.4 329.0L434.5 328.6L434.6 321.4L434.7 328.6L434.7 326.5L434.8 327.2L434.9 330.3L435.0 323.0L435.1 331.8L435.2 323.4L435.3 323.2L435.4 326.4L435.5 333.0L435.6 321.5L435.7 325.4L435.8 324.0L435.9 323.8L436.0 329.0L436.1 328.3L436.2 334.5L436.3 329.9L436.4 327.0L436.5 328.1L436.5 330.6L436.6 330.2L436.7 326.3L436.8 325.2L436.9 325.6L437.0 322.5L437.1 331.5L437.2 322.4L437.3 328.6L437.4 325.2L437.5 325.0L437.6 325.7L437.7 330.5L437.8 329.6L437.9 328.1L438.0 325.4L438.1 329.1L438.2 328.3L438.3 323.6L438.3 327.8L438.4 327.0L438.5 329.1L438.6 326.4L438.7 334.2L438.8 324.5L438.9 328.6L439.0 328.6L439.1 325.6L439.2 331.7L439.3 322.3L439.4 317.1L439.5 330.4L439.6 323.0L439.7 327.2L439.8 324.7L439.9 327.5L440.0 326.8L440.0 329.2L440.1 331.2L440.2 328.2L440.3 328.0L440.4 325.0L440.5 331.1L440.6 333.8L440.7 330.2L440.8 331.7L440.9 326.6L441.0 322.9L441.1 331.4L441.2 329.3L441.3 329.0L441.4 332.8L441.5 330.2L441.6 328.7L441.7 327.8L441.8 324.9L441.8 328.9L441.9 319.3L442.0 323.5L442.1 326.5L442.2 323.6L442.3 323.4L442.4 322.7L442.5 336.6L442.6 325.6L442.7 329.6L442.8 329.1L442.9 327.0L443.0 327.6L443.1 326.8L443.2 330.4L443.3 326.5L443.4 325.0L443.5 325.0L443.6 329.6L443.6 327.6L443.7 326.6L443.8 330.2L443.9 331.2L444.0 325.0L444.1 318.0L444.2 333.1L444.3 325.8L444.4 327.2L444.5 326.5L444.6 336.3L444.7 328.7L444.8 327.2L444.9 327.6L445.0 332.5L445.1 326.2L445.2 325.1L445.3 332.4L445.4 324.1L445.4 335.2L445.5 327.5L445.6 328.5L445.7 324.7L445.8 328.1L445.9 331.2L446.0 327.4L446.1 331.1L446.2 333.8L446.3 331.2L446.4 330.4L446.5 328.6L446.6 326.0L446.7 325.9L446.8 331.4L446.9 336.6L447.0 328.0L447.1 327.1L447.1 323.2L447.2 328.3L447.3 333.0L447.4 331.4L447.5 334.1L447.6 331.0L447.7 319.7L447.8 323.8L447.9 328.6L448.0 326.9L448.1 328.1L448.2 331.3L448.3 331.8L448.4 329.3L448.5 332.6L448.6 326.8L448.7 327.9L448.8 327.5L448.9 328.8L448.9 324.4L449.0 325.7L449.1 326.2L449.2 330.3L449.3 322.5L449.4 330.7L449.5 325.2L449.6 321.1L449.7 327.4L449.8 328.6L449.9 330.3L450.0 322.5L450.1 326.3L450.2 328.9L450.3 320.3L450.4 331.4L450.5 338.3L450.6 328.0L450.7 332.1L450.7 330.7L450.8 329.7L450.9 322.8L451.0 325.8L451.1 334.9L451.2 334.0L451.3 323.2L451.4 333.2L451.5 329.2L451.6 325.4L451.7 330.9L451.8 331.9L451.9 329.3L452.0 331.1L452.1 327.5L452.2 323.4L452.3 327.4L452.4 330.0L452.5 332.8L452.5 331.7L452.6 335.9L452.7 323.4L452.8 327.0L452.9 323.9L453.0 329.4L453.1 319.0L453.2 323.6L453.3 329.6L453.4 331.3L453.5 334.4L453.6 332.0L453.7 327.6L453.8 335.7L453.9 325.3L454.0 323.9L454.1 327.2L454.2 328.6L454.2 331.3L454.3 319.8L454.4 329.5L454.5 322.9L454.6 326.4L454.7 322.7L454.8 323.9L454.9 331.7L455.0 326.6L455.1 329.0L455.2 324.7L455.3 332.3L455.4 328.8L455.5 330.4L455.6 327.4L455.7 334.0L455.8 327.4L455.9 330.6L456.0 326.3L456.0 330.3L456.1 330.0L456.2 328.7L456.3 329.1L456.4 338.4L456.5 326.1L456.6 328.6L456.7 329.6L456.8 328.0L456.9 331.3L457.0 327.8L457.1 334.9L457.2 332.7L457.3 328.5L457.4 334.9L457.5 328.3L457.6 321.8L457.7 323.4L457.8 325.1L457.8 331.0L457.9 331.7L458.0 328.4L458.1 325.1L458.2 327.2L458.3 329.0L458.4 329.0L458.5 320.9L458.6 336.9L458.7 333.8L458.8 325.1L458.9 327.1L459.0 333.2L459.1 324.0L459.2 332.7L459.3 328.8L459.4 328.9L459.5 327.7L459.6 329.2L459.6 325.4L459.7 329.5L459.8 331.1L459.9 331.4L460.0 335.3L460.1 330.0L460.2 322.2L460.3 329.0L460.4 323.2L460.5 331.4L460.6 327.3L460.7 327.4L460.8 338.7L460.9 332.9L461.0 333.7L461.1 327.2L461.2 334.4L461.3 325.1L461.3 328.6L461.4 332.0L461.5 333.4L461.6 320.5L461.7 325.9L461.8 328.8L461.9 322.4L462.0 329.6L462.1 326.2L462.2 329.8L462.3 326.1L462.4 326.6L462.5 324.1L462.6 324.3L462.7 328.3L462.8 330.1L462.9 327.9L463.0 325.7L463.1 326.2L463.1 331.3L463.2 327.8L463.3 328.6L463.4 323.1L463.5 321.7L463.6 331.6L463.7 330.8L463.8 323.9L463.9 328.3L464.0 327.3L464.1 326.6L464.2 333.9L464.3 333.2L464.4 324.4L464.5 327.3L464.6 324.3L464.7 328.8L464.8 325.8L464.9 326.6L464.9 329.4L465.0 323.9L465.1 328.9L465.2 324.5L465.3 334.1L465.4 327.7L465.5 319.2L465.6 324.1L465.7 334.4L465.8 333.6L465.9 329.1L466.0 327.1L466.1 331.3L466.2 332.3L466.3 334.7L466.4 332.1L466.5 336.3L466.6 330.9L466.7 325.2L466.7 327.4L466.8 330.5L466.9 320.3L467.0 329.3L467.1 330.8L467.2 328.1L467.3 323.2L467.4 331.4L467.5 319.1L467.6 330.9L467.7 330.1L467.8 324.3L467.9 329.5L468.0 323.6L468.1 326.1L468.2 331.7L468.3 328.6L468.4 327.5L468.4 325.2L468.5 319.8L468.6 326.0L468.7 330.4L468.8 325.5L468.9 324.7L469.0 331.9L469.1 325.1L469.2 328.8L469.3 330.2L469.4 326.1L469.5 336.3L469.6 335.5L469.7 326.9L469.8 326.4L469.9 332.9L470.0 333.3L470.1 325.0L470.2 332.4L470.2 325.3L470.3 329.6L470.4 328.6L470.5 332.3L470.6 325.5L470.7 325.1L470.8 326.5L470.9 330.8L471.0 328.8L471.1 332.8L471.2 328.2L471.3 325.5L471.4 331.0L471.5 331.8L471.6 333.8L471.7 328.9L471.8 329.8L471.9 329.9L472.0 320.7L472.0 322.0L472.1 333.8L472.2 338.5L472.3 331.6L472.4 331.9L472.5 325.4L472.6 326.5L472.7 332.3L472.8 323.7L472.9 322.7L473.0 330.0L473.1 331.4L473.2 330.2L473.3 329.9L473.4 326.6L473.5 333.3L473.6 338.0L473.7 332.5L473.8 325.6L473.8 331.2L473.9 329.8L474.0 319.5L474.1 332.3L474.2 330.1L474.3 337.0L474.4 331.5L474.5 329.5L474.6 331.7L474.7 334.4L474.8 331.6L474.9 332.7L475.0 330.2L475.1 329.5L475.2 330.8L475.3 330.1L475.4 328.0L475.5 326.9L475.5 331.0L475.6 331.0L475.7 328.6L475.8 325.6L475.9 331.2L476.0 330.4L476.1 327.4L476.2 332.3L476.3 327.1L476.4 325.1L476.5 330.6L476.6 324.0L476.7 331.0L476.8 333.4L476.9 324.8L477.0 329.8L477.1 333.8L477.2 328.5L477.3 325.6L477.3 324.5L477.4 331.6L477.5 322.3L477.6 327.6L477.7 323.3L477.8 333.0L477.9 330.8L478.0 329.8L478.1 334.6L478.2 332.8L478.3 326.3L478.4 332.7L478.5 332.7L478.6 333.7L478.7 329.0L478.8 332.6L478.9 328.9L479.0 330.5L479.1 327.6L479.1 330.6L479.2 336.1L479.3 326.9L479.4 332.9L479.5 330.2L479.6 332.4L479.7 334.6L479.8 325.5L479.9 326.2L480.0 329.7L480.1 329.4L480.2 325.5L480.3 325.8L480.4 329.3L480.5 329.3L480.6 330.6L480.7 333.1L480.8 330.8L480.9 325.8L480.9 336.3L481.0 328.9L481.1 327.9L481.2 334.5L481.3 330.8L481.4 330.1L481.5 327.6L481.6 328.6L481.7 330.6L481.8 334.1L481.9 332.9L482.0 325.0L482.1 326.6L482.2 331.4L482.3 333.2L482.4 329.6L482.5 326.7L482.6 332.6L482.6 328.5L482.7 333.7L482.8 327.0L482.9 336.4L483.0 332.4L483.1 333.2L483.2 330.8L483.3 331.9L483.4 333.8L483.5 327.9L483.6 330.3L483.7 329.1L483.8 332.0L483.9 334.3L484.0 337.1L484.1 333.0L484.2 330.8L484.3 328.9L484.4 333.6L484.4 327.2L484.5 335.4L484.6 331.6L484.7 324.7L484.8 327.3L484.9 323.1L485.0 328.9L485.1 329.4L485.2 323.8L485.3 333.1L485.4 330.7L485.5 333.4L485.6 327.9L485.7 328.7L485.8 334.4L485.9 326.6L486.0 328.4L486.1 328.6L486.2 330.1L486.2 324.2L486.3 332.1L486.4 329.4L486.5 328.3L486.6 330.4L486.7 333.0L486.8 333.7L486.9 329.7L487.0 337.2L487.1 325.4L487.2 330.3L487.3 328.6L487.4 328.8L487.5 329.2L487.6 329.7L487.7 333.5" stroke="#000" stroke-width="0.5" fill="none" stroke-linejoin="round"/>
<path d="M667 358H1093M667 358V16" stroke="#000" stroke-width="2" fill="none" stroke-linecap="square"/>
<path d="M667.00 359v6M690.67 359v3M714.33 359v6M738.00 359v3M761.67 359v6M785.33 359v3M809.00 359v6M832.67 359v3M856.33 359v6M880.00 359v3M903.67 359v6M927.33 359v3M951.00 359v6M974.67 359v3M998.33 359v6M1022.00 359v3M1045.67 359v6M1069.33 359v3M1093.00 359v6M666 358.00h-6M666 333.57h-3M666 309.14h-6M666 284.71h-3M666 260.29h-6M666 235.86h-3M666 211.43h-6M666 187.00h-3M666 162.57h-6M666 138.14h-3M666 113.71h-6M666 89.29h-3M666 64.86h-6M666 40.43h-3M666 16.00h-6" stroke="#000" stroke-width="2" fill="none"/>
<g class="tl"><text x="656.2" y="362.8" text-anchor="end">0</text><text x="656.2" y="313.9" text-anchor="end">100</text><text x="656.2" y="265.1" text-anchor="end">200</text><text x="656.2" y="216.2" text-anchor="end">300</text><text x="656.2" y="167.4" text-anchor="end">400</text><text x="656.2" y="118.5" text-anchor="end">500</text><text x="656.2" y="69.7" text-anchor="end">600</text><text x="656.2" y="20.8" text-anchor="end">700</text><text x="667.0" y="381.0" text-anchor="middle">0</text><text x="714.3" y="381.0" text-anchor="middle">10</text><text x="761.7" y="381.0" text-anchor="middle">20</text><text x="809.0" y="381.0" text-anchor="middle">30</text><text x="856.3" y="381.0" text-anchor="middle">40</text><text x="903.7" y="381.0" text-anchor="middle">50</text><text x="951.0" y="381.0" text-anchor="middle">60</text><text x="998.3" y="381.0" text-anchor="middle">70</text><text x="1045.7" y="381.0" text-anchor="middle">80</text><text x="1093.0" y="381.0" text-anchor="middle">90</text></g>
<text class="at" x="880.0" y="409.0" text-anchor="middle">Angle</text>
<text class="at" transform="translate(626.5 186.4) rotate(-90)" text-anchor="middle">PSD</text>
<text class="pl" x="566" y="20.6">(b)</text>
<path d="M690.7 137.6L690.8 148.8L690.9 123.3L691.0 121.6L691.0 131.2L691.1 124.8L691.2 112.5L691.3 119.2L691.4 123.3L691.5 124.4L691.6 139.9L691.7 123.5L691.8 148.8L691.9 137.1L692.0 138.7L692.1 151.3L692.2 136.5L692.3 120.5L692.4 139.4L692.5 147.8L692.6 137.7L692.7 129.1L692.7 135.6L692.8 137.7L692.9 151.1L693.0 133.5L693.1 133.9L693.2 126.2L693.3 125.1L693.4 132.8L693.5 154.7L693.6 153.0L693.7 150.2L693.8 137.5L693.9 147.8L694.0 128.6L694.1 138.7L694.2 137.8L694.3 134.5L694.4 138.6L694.5 155.0L694.5 119.6L694.6 129.0L694.7 128.7L694.8 149.9L694.9 160.3L695.0 157.4L695.1 153.5L695.2 135.9L695.3 136.0L695.4 131.2L695.5 125.2L695.6 140.3L695.7 142.1L695.8 149.0L695.9 149.0L696.0 156.8L696.1 141.8L696.2 143.9L696.3 150.8L696.3 154.8L696.4 143.5L696.5 136.1L696.6 147.5L696.7 146.0L696.8 153.8L696.9 151.4L697.0 152.3L697.1 152.4L697.2 155.5L697.3 146.8L697.4 138.9L697.5 159.6L697.6 138.7L697.7 155.3L697.8 155.3L697.9 171.7L698.0 174.4L698.1 146.3L698.1 163.0L698.2 146.3L698.3 153.4L698.4 151.9L698.5 142.5L698.6 155.4L698.7 184.4L698.8 171.0L698.9 147.0L699.0 138.2L699.1 157.2L699.2 162.9L699.3 169.3L699.4 152.3L699.5 173.5L699.6 168.8L699.7 156.8L699.8 157.4L699.8 160.8L699.9 149.4L700.0 170.1L700.1 169.8L700.2 163.2L700.3 159.2L700.4 163.0L700.5 142.6L700.6 165.8L700.7 155.0L700.8 166.0L700.9 158.2L701.0 165.1L701.1 164.9L701.2 147.3L701.3 164.8L701.4 146.8L701.5 168.6L701.6 166.4L701.6 152.7L701.7 184.4L701.8 177.5L701.9 162.8L702.0 158.9L702.1 158.3L702.2 166.4L702.3 176.3L702.4 156.6L702.5 160.1L702.6 174.2L702.7 163.7L702.8 148.7L702.9 163.8L703.0 175.6L703.1 169.1L703.2 168.8L703.3 162.7L703.4 158.0L703.4 174.4L703.5 172.2L703.6 157.7L703.7 160.4L703.8 155.2L703.9 180.2L704.0 176.1L704.1 159.0L704.2 176.5L704.3 165.5L704.4 169.1L704.5 175.5L704.6 156.3L704.7 169.6L704.8 174.1L704.9 171.4L705.0 168.0L705.1 184.3L705.2 178.3L705.2 182.2L705.3 189.6L705.4 163.0L705.5 159.3L705.6 161.7L705.7 187.7L705.8 169.1L705.9 166.9L706.0 178.0L706.1 166.2L706.2 183.2L706.3 183.1L706.4 181.3L706.5 180.6L706.6 183.3L706.7 166.5L706.8 184.3L706.9 179.3L706.9 181.1L707.0 156.9L707.1 183.8L707.2 172.2L707.3 160.9L707.4 186.9L707.5 184.1L707.6 180.0L707.7 188.7L707.8 167.2L707.9 181.8L708.0 169.0L708.1 173.6L708.2 178.1L708.3 170.3L708.4 181.1L708.5 169.7L708.6 189.8L708.7 184.9L708.7 168.4L708.8 195.9L708.9 173.9L709.0 180.5L709.1 180.4L709.2 179.4L709.3 162.2L709.4 174.8L709.5 158.4L709.6 153.7L709.7 145.7L709.8 136.0L709.9 125.8L710.0 116.7L710.1 109.5L710.2 105.0L710.3 105.6L710.4 110.2L710.5 118.1L710.5 127.9L710.6 138.2L710.7 148.8L710.8 157.9L710.9 163.1L711.0 170.4L711.1 187.7L711.2 184.7L711.3 192.8L711.4 178.9L711.5 175.6L711.6 184.2L711.7 196.3L711.8 182.1L711.9 197.0L712.0 187.7L712.1 200.0L712.2 202.0L712.3 202.6L712.3 191.5L712.4 197.4L712.5 189.0L712.6 203.3L712.7 189.3L712.8 198.6L712.9 184.0L713.0 186.2L713.1 196.5L713.2 194.2L713.3 193.5L713.4 192.0L713.5 198.2L713.6 187.7L713.7 200.7L713.8 212.3L713.9 195.4L714.0 198.5L714.0 191.3L714.1 193.5L714.2 197.5L714.3 197.9L714.4 198.0L714.5 204.5L714.6 209.2L714.7 206.3L714.8 200.8L714.9 218.2L715.0 204.1L715.1 208.6L715.2 201.8L715.3 207.7L715.4 201.1L715.5 203.6L715.6 191.9L715.7 204.9L715.8 204.4L715.8 202.5L715.9 217.0L716.0 211.4L716.1 192.1L716.2 199.4L716.3 202.9L716.4 195.4L716.5 205.3L716.6 205.9L716.7 206.5L716.8 218.0L716.9 197.1L717.0 205.8L717.1 205.1L717.2 207.0L717.3 209.2L717.4 221.6L717.5 202.9L717.6 187.1L717.6 195.9L717.7 205.2L717.8 209.3L717.9 200.8L718.0 196.8L718.1 197.0L718.2 188.9L718.3 188.0L718.4 177.6L718.5 166.7L718.6 152.8L718.7 135.9L718.8 116.9L718.9 97.1L719.0 78.7L719.1 63.9L719.2 55.3L719.3 56.5L719.4 65.3L719.4 80.0L719.5 99.3L719.6 119.3L719.7 139.1L719.8 156.1L719.9 170.4L720.0 182.1L720.1 193.1L720.2 198.9L720.3 197.8L720.4 194.3L720.5 214.7L720.6 216.2L720.7 202.8L720.8 214.9L720.9 220.7L721.0 206.0L721.1 227.0L721.1 220.2L721.2 208.5L721.3 220.9L721.4 211.1L721.5 226.3L721.6 211.9L721.7 214.6L721.8 206.6L721.9 220.7L722.0 221.9L722.1 220.4L722.2 212.3L722.3 225.8L722.4 221.7L722.5 206.7L722.6 215.6L722.7 216.3L722.8 225.7L722.9 215.9L722.9 231.0L723.0 233.6L723.1 229.8L723.2 212.9L723.3 222.3L723.4 230.5L723.5 226.6L723.6 220.9L723.7 215.8L723.8 236.4L723.9 215.1L724.0 218.3L724.1 230.3L724.2 228.3L724.3 222.1L724.4 227.8L724.5 225.0L724.6 233.8L724.7 239.4L724.7 209.0L724.8 225.4L724.9 225.1L725.0 223.3L725.1 217.5L725.2 220.5L725.3 234.7L725.4 228.3L725.5 227.2L725.6 222.4L725.7 232.3L725.8 225.4L725.9 226.6L726.0 218.5L726.1 247.2L726.2 228.1L726.3 226.4L726.4 224.2L726.5 229.2L726.5 235.2L726.6 224.6L726.7 226.9L726.8 235.7L726.9 239.5L727.0 226.0L727.1 236.3L727.2 225.6L727.3 219.6L727.4 229.1L727.5 229.0L727.6 229.9L727.7 221.1L727.8 221.2L727.9 230.6L728.0 226.1L728.1 231.2L728.2 235.1L728.2 226.4L728.3 232.6L728.4 238.1L728.5 242.8L728.6 225.4L728.7 239.3L728.8 240.5L728.9 234.7L729.0 227.8L729.1 245.2L729.2 228.8L729.3 230.7L729.4 242.0L729.5 241.6L729.6 235.0L729.7 220.4L729.8 235.7L729.9 226.5L730.0 227.5L730.0 245.0L730.1 233.8L730.2 226.6L730.3 236.3L730.4 223.4L730.5 237.9L730.6 237.5L730.7 228.1L730.8 219.9L730.9 219.7L731.0 213.4L731.1 210.6L731.2 206.8L731.3 203.9L731.4 204.0L731.5 204.6L731.6 207.7L731.7 211.8L731.8 216.5L731.8 224.5L731.9 221.5L732.0 225.9L732.1 224.7L732.2 233.2L732.3 242.6L732.4 233.2L732.5 247.7L732.6 245.6L732.7 225.8L732.8 233.2L732.9 237.8L733.0 231.2L733.1 243.4L733.2 237.8L733.3 247.5L733.4 244.6L733.5 242.0L733.6 232.8L733.6 247.7L733.7 236.2L733.8 243.5L733.9 255.4L734.0 256.8L734.1 248.7L734.2 237.1L734.3 242.7L734.4 232.5L734.5 243.6L734.6 235.5L734.7 243.4L734.8 251.2L734.9 240.6L735.0 250.3L735.1 254.8L735.2 250.5L735.3 248.2L735.3 244.1L735.4 240.1L735.5 241.7L735.6 232.0L735.7 258.5L735.8 246.7L735.9 228.4L736.0 247.2L736.1 253.0L736.2 249.2L736.3 249.6L736.4 245.7L736.5 232.7L736.6 245.7L736.7 238.9L736.8 229.9L736.9 225.7L737.0 216.5L737.1 204.1L737.1 187.7L737.2 168.1L737.3 144.5L737.4 119.6L737.5 94.7L737.6 72.9L737.7 57.5L737.8 52.3L737.9 58.3L738.0 74.0L738.1 96.7L738.2 121.8L738.3 147.5L738.4 171.4L738.5 192.1L738.6 208.8L738.7 222.3L738.8 231.9L738.9 239.2L738.9 244.3L739.0 244.8L739.1 252.0L739.2 255.6L739.3 246.4L739.4 256.0L739.5 258.9L739.6 267.9L739.7 264.4L739.8 257.6L739.9 254.6L740.0 266.2L740.1 255.7L740.2 253.3L740.3 256.7L740.4 253.3L740.5 247.1L740.6 255.3L740.7 258.4L740.7 253.7L740.8 256.1L740.9 254.0L741.0 252.1L741.1 252.5L741.2 256.5L741.3 252.2L741.4 259.2L741.5 256.6L741.6 262.0L741.7 263.6L741.8 269.2L741.9 267.0L742.0 271.1L742.1 270.0L742.2 268.3L742.3 262.2L742.4 270.5L742.4 265.0L742.5 275.1L742.6 268.4L742.7 258.4L742.8 263.0L742.9 274.6L743.0 266.2L743.1 269.0L743.2 276.2L743.3 280.9L743.4 277.3L743.5 278.6L743.6 268.7L743.7 269.8L743.8 269.6L743.9 267.2L744.0 285.9L744.1 274.8L744.2 271.0L744.2 276.2L744.3 275.2L744.4 275.2L744.5 268.6L744.6 268.7L744.7 261.7L744.8 265.1L744.9 265.7L745.0 267.0L745.1 271.2L745.2 268.2L745.3 265.8L745.4 268.8L745.5 278.8L745.6 282.3L745.7 270.7L745.8 274.2L745.9 274.1L746.0 280.8L746.0 271.9L746.1 272.1L746.2 277.6L746.3 272.9L746.4 281.0L746.5 276.0L746.6 286.2L746.7 275.7L746.8 259.8L746.9 267.6L747.0 262.0L747.1 263.7L747.2 261.1L747.3 257.0L747.4 252.6L747.5 248.2L747.6 245.0L747.7 243.1L747.8 242.7L747.8 245.2L747.9 249.0L748.0 253.3L748.1 258.2L748.2 263.1L748.3 269.5L748.4 270.8L748.5 274.8L748.6 274.7L748.7 274.3L748.8 275.8L748.9 283.2L749.0 275.6L749.1 276.3L749.2 286.4L749.3 276.3L749.4 278.1L749.5 275.1L749.5 281.9L749.6 277.4L749.7 276.4L749.8 280.2L749.9 272.5L750.0 275.9L750.1 273.3L750.2 279.7L750.3 282.3L750.4 282.2L750.5 288.2L750.6 282.3L750.7 277.0L750.8 271.8L750.9 273.7L751.0 273.2L751.1 273.3L751.2 268.6L751.3 278.8L751.3 274.4L751.4 275.2L751.5 287.7L751.6 274.0L751.7 271.1L751.8 266.3L751.9 260.2L752.0 251.9L752.1 241.6L752.2 229.4L752.3 216.5L752.4 203.5L752.5 192.7L752.6 184.4L752.7 181.5L752.8 184.9L752.9 192.8L753.0 204.5L753.1 217.7L753.1 230.6L753.2 242.5L753.3 252.9L753.4 261.6L753.5 267.9L753.6 272.3L753.7 270.4L753.8 284.9L753.9 285.0L754.0 285.1L754.1 286.4L754.2 286.2L754.3 271.3L754.4 286.5L754.5 281.4L754.6 292.9L754.7 289.2L754.8 281.1L754.9 280.5L754.9 294.7L755.0 274.8L755.1 284.0L755.2 290.5L755.3 283.9L755.4 289.9L755.5 294.3L755.6 285.5L755.7 282.0L755.8 280.6L755.9 295.3L756.0 291.3L756.1 286.9L756.2 279.9L756.3 278.3L756.4 286.6L756.5 289.3L756.6 279.9L756.6 281.8L756.7 276.2L756.8 272.0L756.9 266.6L757.0 258.8L757.1 248.7L757.2 236.7L757.3 222.7L757.4 208.4L757.5 195.4L757.6 184.7L757.7 178.9L757.8 178.9L757.9 185.1L758.0 195.9L758.1 209.2L758.2 223.6L758.3 237.6L758.4 249.7L758.4 260.4L758.5 268.4L758.6 275.5L758.7 281.2L758.8 279.5L758.9 290.1L759.0 288.7L759.1 293.8L759.2 295.4L759.3 289.4L759.4 289.7L759.5 298.5L759.6 279.5L759.7 283.2L759.8 296.4L759.9 289.7L760.0 291.3L760.1 295.7L760.2 299.3L760.2 292.6L760.3 293.7L760.4 286.6L760.5 292.0L760.6 298.0L760.7 296.0L760.8 292.1L760.9 286.1L761.0 295.9L761.1 287.2L761.2 281.3L761.3 288.3L761.4 278.3L761.5 279.3L761.6 276.3L761.7 274.4L761.8 273.1L761.9 272.7L762.0 273.3L762.0 274.3L762.1 278.0L762.2 279.9L762.3 284.9L762.4 285.2L762.5 289.7L762.6 290.1L762.7 290.7L762.8 294.8L762.9 287.7L763.0 300.7L763.1 296.0L763.2 293.3L763.3 286.4L763.4 300.4L763.5 299.7L763.6 290.4L763.7 292.5L763.7 300.0L763.8 286.2L763.9 290.2L764.0 292.2L764.1 290.6L764.2 286.8L764.3 285.3L764.4 279.9L764.5 275.1L764.6 268.8L764.7 261.1L764.8 251.9L764.9 243.2L765.0 234.3L765.1 227.8L765.2 224.4L765.3 224.0L765.4 228.0L765.5 235.1L765.5 243.3L765.6 252.6L765.7 261.3L765.8 268.9L765.9 275.5L766.0 280.8L766.1 284.7L766.2 287.5L766.3 292.7L766.4 296.0L766.5 294.2L766.6 291.6L766.7 296.2L766.8 292.9L766.9 290.7L767.0 293.5L767.1 284.7L767.2 283.4L767.3 286.9L767.3 291.1L767.4 296.1L767.5 300.6L767.6 286.2L767.7 291.8L767.8 296.8L767.9 301.9L768.0 295.6L768.1 290.0L768.2 292.8L768.3 299.0L768.4 278.0L768.5 289.1L768.6 294.5L768.7 286.3L768.8 284.0L768.9 281.2L769.0 279.2L769.1 277.2L769.1 275.3L769.2 274.9L769.3 275.4L769.4 277.2L769.5 279.3L769.6 282.1L769.7 286.0L769.8 279.7L769.9 291.4L770.0 293.6L770.1 291.2L770.2 292.0L770.3 290.3L770.4 302.9L770.5 298.9L770.6 290.8L770.7 295.2L770.8 295.2L770.8 303.8L770.9 304.0L771.0 301.0L771.1 295.9L771.2 293.1L771.3 292.6L771.4 306.4L771.5 297.4L771.6 296.7L771.7 299.1L771.8 299.0L771.9 302.3L772.0 298.7L772.1 308.6L772.2 290.4L772.3 295.6L772.4 289.2L772.5 300.3L772.6 304.5L772.6 286.8L772.7 306.0L772.8 300.5L772.9 290.4L773.0 286.8L773.1 292.9L773.2 288.4L773.3 284.2L773.4 278.5L773.5 271.8L773.6 262.8L773.7 252.3L773.8 240.7L773.9 228.5L774.0 216.7L774.1 207.8L774.2 202.7L774.3 202.5L774.4 207.6L774.4 217.1L774.5 228.6L774.6 240.5L774.7 252.2L774.8 262.6L774.9 271.1L775.0 278.3L775.1 283.9L775.2 284.9L775.3 286.4L775.4 288.9L775.5 287.4L775.6 289.4L775.7 287.1L775.8 283.0L775.9 279.4L776.0 275.5L776.1 271.7L776.2 268.2L776.2 265.8L776.3 265.2L776.4 266.4L776.5 268.9L776.6 273.1L776.7 277.3L776.8 281.4L776.9 283.4L777.0 285.9L777.1 293.5L777.2 301.1L777.3 298.2L777.4 297.5L777.5 297.6L777.6 303.6L777.7 301.7L777.8 298.5L777.9 299.5L777.9 293.9L778.0 297.5L778.1 297.6L778.2 303.1L778.3 300.3L778.4 310.0L778.5 302.8L778.6 308.5L778.7 300.3L778.8 298.3L778.9 300.1L779.0 293.1L779.1 302.6L779.2 298.7L779.3 298.9L779.4 295.8L779.5 289.1L779.6 294.1L779.7 287.0L779.7 287.4L779.8 289.3L779.9 292.8L780.0 293.2L780.1 297.5L780.2 291.4L780.3 304.5L780.4 304.8L780.5 300.6L780.6 312.7L780.7 294.2L780.8 302.3L780.9 296.9L781.0 299.1L781.1 307.6L781.2 298.6L781.3 296.3L781.4 302.5L781.5 301.0L781.5 300.7L781.6 293.6L781.7 300.9L781.8 299.8L781.9 297.0L782.0 296.6L782.1 299.9L782.2 291.5L782.3 291.6L782.4 304.5L782.5 291.1L782.6 297.3L782.7 296.5L782.8 296.0L782.9 305.6L783.0 304.6L783.1 296.4L783.2 300.3L783.3 286.8L783.3 295.1L783.4 289.3L783.5 286.5L783.6 280.2L783.7 272.7L783.8 263.8L783.9 252.7L784.0 241.0L784.1 229.2L784.2 219.5L784.3 212.1L784.4 209.3L784.5 212.0L784.6 219.2L784.7 229.5L784.8 240.8L784.9 252.6L785.0 263.5L785.0 272.6L785.1 280.2L785.2 285.9L785.3 289.5L785.4 291.1L785.5 294.4L785.6 300.0L785.7 298.2L785.8 299.1L785.9 294.2L786.0 299.5L786.1 291.7L786.2 294.8L786.3 291.5L786.4 290.3L786.5 286.5L786.6 283.1L786.7 278.9L786.8 275.5L786.8 272.5L786.9 270.9L787.0 271.0L787.1 272.3L787.2 275.5L787.3 278.8L787.4 282.4L787.5 285.9L787.6 289.4L787.7 292.3L787.8 294.0L787.9 297.2L788.0 296.2L788.1 298.0L788.2 294.2L788.3 295.0L788.4 294.3L788.5 291.2L788.6 286.9L788.6 281.8L788.7 274.5L788.8 264.5L788.9 251.4L789.0 235.8L789.1 217.2L789.2 197.1L789.3 177.4L789.4 159.9L789.5 147.9L789.6 143.3L789.7 147.5L789.8 159.3L789.9 176.5L790.0 196.2L790.1 215.7L790.2 233.8L790.3 248.8L790.4 261.5L790.4 270.5L790.5 277.4L790.6 281.4L790.7 282.8L790.8 282.9L790.9 280.3L791.0 276.0L791.1 268.7L791.2 258.9L791.3 245.2L791.4 228.4L791.5 208.5L791.6 187.4L791.7 166.1L791.8 147.6L791.9 134.7L792.0 129.8L792.1 135.0L792.1 148.3L792.2 167.5L792.3 189.2L792.4 211.1L792.5 231.3L792.6 248.6L792.7 262.9L792.8 273.7L792.9 282.2L793.0 287.9L793.1 291.1L793.2 296.0L793.3 300.5L793.4 294.6L793.5 298.3L793.6 300.2L793.7 299.6L793.8 295.3L793.9 298.3L793.9 299.9L794.0 296.1L794.1 298.3L794.2 298.4L794.3 303.2L794.4 300.4L794.5 305.5L794.6 302.8L794.7 300.0L794.8 298.4L794.9 294.6L795.0 293.0L795.1 290.1L795.2 285.3L795.3 279.7L795.4 273.7L795.5 268.0L795.6 262.9L795.7 259.3L795.7 257.9L795.8 259.2L795.9 263.2L796.0 268.5L796.1 274.3L796.2 280.4L796.3 285.7L796.4 290.4L796.5 293.5L796.6 295.3L796.7 294.2L796.8 294.7L796.9 296.4L797.0 296.5L797.1 292.2L797.2 290.2L797.3 287.7L797.4 285.4L797.5 284.3L797.5 283.7L797.6 284.8L797.7 286.7L797.8 289.5L797.9 292.3L798.0 294.5L798.1 297.6L798.2 298.0L798.3 297.2L798.4 298.7L798.5 295.2L798.6 291.4L798.7 287.3L798.8 282.1L798.9 275.8L799.0 269.2L799.1 263.1L799.2 258.1L799.2 255.4L799.3 255.1L799.4 258.0L799.5 262.8L799.6 269.0L799.7 275.6L799.8 281.4L799.9 286.8L800.0 291.2L800.1 295.0L800.2 296.9L800.3 300.7L800.4 303.3L800.5 298.5L800.6 296.4L800.7 294.5L800.8 291.7L800.9 287.7L801.0 283.0L801.0 277.8L801.1 272.6L801.2 268.1L801.3 265.2L801.4 263.8L801.5 264.9L801.6 268.4L801.7 273.0L801.8 278.6L801.9 284.4L802.0 289.0L802.1 294.1L802.2 297.0L802.3 300.6L802.4 301.5L802.5 296.3L802.6 298.6L802.7 310.4L802.8 302.9L802.8 308.2L802.9 299.8L803.0 298.5L803.1 307.2L803.2 301.2L803.3 300.8L803.4 302.1L803.5 300.4L803.6 305.7L803.7 303.3L803.8 304.8L803.9 303.7L804.0 303.5L804.1 311.5L804.2 302.5L804.3 297.1L804.4 303.6L804.5 300.0L804.6 304.3L804.6 296.4L804.7 296.4L804.8 295.0L804.9 294.1L805.0 299.2L805.1 300.0L805.2 298.0L805.3 302.0L805.4 299.4L805.5 308.7L805.6 304.3L805.7 308.1L805.8 310.3L805.9 303.3L806.0 307.8L806.1 304.9L806.2 303.0L806.3 306.9L806.3 295.8L806.4 293.3L806.5 289.2L806.6 284.4L806.7 278.8L806.8 273.6L806.9 269.0L807.0 265.4L807.1 263.8L807.2 264.6L807.3 267.2L807.4 270.8L807.5 274.8L807.6 278.5L807.7 281.0L807.8 281.7L807.9 280.4L808.0 276.5L808.1 269.6L808.1 260.4L808.2 248.4L808.3 234.4L808.4 219.9L808.5 205.7L808.6 194.7L808.7 188.4L808.8 188.7L808.9 195.4L809.0 207.1L809.1 221.2L809.2 236.1L809.3 251.0L809.4 263.8L809.5 274.7L809.6 283.8L809.7 290.2L809.8 295.1L809.9 295.5L809.9 296.4L810.0 304.8L810.1 301.1L810.2 303.0L810.3 309.4L810.4 300.5L810.5 298.0L810.6 309.4L810.7 301.9L810.8 306.2L810.9 298.8L811.0 297.5L811.1 298.8L811.2 295.7L811.3 292.7L811.4 290.4L811.5 288.3L811.6 287.4L811.7 287.1L811.7 287.5L811.8 289.3L811.9 291.7L812.0 295.1L812.1 297.0L812.2 303.4L812.3 303.1L812.4 301.9L812.5 307.0L812.6 313.5L812.7 314.1L812.8 308.5L812.9 314.9L813.0 301.3L813.1 304.5L813.2 301.7L813.3 298.4L813.4 296.3L813.4 293.4L813.5 292.6L813.6 292.2L813.7 292.2L813.8 293.7L813.9 294.3L814.0 296.6L814.1 301.1L814.2 302.1L814.3 308.2L814.4 310.9L814.5 302.6L814.6 309.8L814.7 309.6L814.8 311.3L814.9 308.8L815.0 310.6L815.1 308.9L815.2 308.7L815.2 302.8L815.3 310.3L815.4 308.2L815.5 306.8L815.6 310.9L815.7 304.3L815.8 306.5L815.9 308.0L816.0 308.5L816.1 305.7L816.2 304.5L816.3 303.8L816.4 302.7L816.5 307.0L816.6 300.6L816.7 305.8L816.8 301.9L816.9 308.0L817.0 301.9L817.0 306.3L817.1 309.2L817.2 307.3L817.3 303.9L817.4 308.1L817.5 300.3L817.6 299.7L817.7 292.9L817.8 287.1L817.9 279.9L818.0 271.3L818.1 262.0L818.2 252.8L818.3 245.1L818.4 239.3L818.5 237.5L818.6 239.3L818.7 245.1L818.8 253.1L818.8 262.4L818.9 271.4L819.0 279.9L819.1 287.2L819.2 293.1L819.3 298.3L819.4 300.2L819.5 309.4L819.6 308.5L819.7 311.2L819.8 303.5L819.9 304.8L820.0 305.7L820.1 306.6L820.2 298.4L820.3 303.0L820.4 308.1L820.5 299.0L820.5 298.7L820.6 301.1L820.7 309.5L820.8 304.8L820.9 300.8L821.0 302.4L821.1 305.4L821.2 301.6L821.3 304.3L821.4 302.3L821.5 303.1L821.6 299.8L821.7 309.3L821.8 302.4L821.9 311.8L822.0 304.0L822.1 307.0L822.2 307.9L822.3 309.5L822.3 313.4L822.4 309.0L822.5 308.6L822.6 305.8L822.7 309.5L822.8 309.2L822.9 315.9L823.0 318.6L823.1 310.4L823.2 300.8L823.3 310.9L823.4 313.4L823.5 319.5L823.6 304.4L823.7 307.3L823.8 303.0L823.9 298.5L824.0 295.8L824.1 293.1L824.1 291.5L824.2 290.8L824.3 291.3L824.4 292.9L824.5 295.1L824.6 297.2L824.7 304.7L824.8 303.9L824.9 300.9L825.0 304.4L825.1 310.8L825.2 312.1L825.3 308.5L825.4 312.5L825.5 309.1L825.6 303.8L825.7 311.6L825.8 312.1L825.9 303.9L825.9 305.6L826.0 307.7L826.1 308.5L826.2 298.6L826.3 297.9L826.4 300.7L826.5 299.9L826.6 300.9L826.7 301.5L826.8 299.5L826.9 304.0L827.0 307.3L827.1 306.7L827.2 308.2L827.3 306.3L827.4 310.6L827.5 311.9L827.6 300.6L827.6 304.4L827.7 302.9L827.8 298.2L827.9 301.1L828.0 298.6L828.1 295.8L828.2 293.6L828.3 292.0L828.4 291.4L828.5 291.8L828.6 293.8L828.7 296.0L828.8 298.8L828.9 299.0L829.0 304.8L829.1 303.0L829.2 304.6L829.3 305.9L829.4 303.9L829.4 318.4L829.5 309.5L829.6 313.1L829.7 313.3L829.8 306.2L829.9 314.1L830.0 314.3L830.1 305.8L830.2 318.7L830.3 303.8L830.4 312.6L830.5 300.7L830.6 308.5L830.7 303.4L830.8 303.2L830.9 303.0L831.0 301.8L831.1 303.0L831.2 301.1L831.2 302.8L831.3 310.5L831.4 315.5L831.5 299.4L831.6 318.7L831.7 310.0L831.8 313.8L831.9 314.7L832.0 316.3L832.1 303.9L832.2 309.0L832.3 317.9L832.4 310.4L832.5 312.6L832.6 305.0L832.7 313.1L832.8 320.8L832.9 306.2L833.0 305.8L833.0 305.5L833.1 310.3L833.2 321.8L833.3 318.5L833.4 315.3L833.5 313.3L833.6 315.9L833.7 311.7L833.8 318.9L833.9 316.3L834.0 316.8L834.1 313.5L834.2 318.3L834.3 302.2L834.4 313.6L834.5 312.1L834.6 308.4L834.7 314.8L834.7 308.4L834.8 309.5L834.9 309.6L835.0 317.6L835.1 318.1L835.2 316.1L835.3 316.6L835.4 314.6L835.5 313.4L835.6 314.6L835.7 316.4L835.8 309.3L835.9 308.8L836.0 310.3L836.1 311.3L836.2 311.6L836.3 306.2L836.4 315.1L836.5 317.2L836.5 311.7L836.6 309.8L836.7 308.9L836.8 306.4L836.9 303.6L837.0 300.3L837.1 298.0L837.2 295.7L837.3 294.0L837.4 293.3L837.5 294.0L837.6 295.7L837.7 297.9L837.8 300.8L837.9 302.4L838.0 306.6L838.1 307.8L838.2 306.0L838.3 310.1L838.3 311.9L838.4 313.3L838.5 316.1L838.6 310.6L838.7 319.0L838.8 315.9L838.9 317.5L839.0 311.3L839.1 303.7L839.2 318.4L839.3 310.1L839.4 313.0L839.5 303.9L839.6 322.5L839.7 315.1L839.8 308.1L839.9 308.9L840.0 306.0L840.1 308.3L840.1 302.2L840.2 298.7L840.3 294.6L840.4 291.2L840.5 288.0L840.6 285.7L840.7 284.6L840.8 285.5L840.9 287.5L841.0 290.7L841.1 293.8L841.2 297.1L841.3 300.4L841.4 303.1L841.5 303.3L841.6 304.5L841.7 304.8L841.8 301.6L841.8 298.5L841.9 294.1L842.0 288.4L842.1 281.5L842.2 274.1L842.3 266.6L842.4 260.0L842.5 255.3L842.6 253.7L842.7 255.6L842.8 260.4L842.9 267.1L843.0 274.8L843.1 282.4L843.2 289.7L843.3 295.8L843.4 300.8L843.5 306.1L843.6 307.6L843.6 308.6L843.7 308.1L843.8 310.8L843.9 314.9L844.0 317.9L844.1 316.3L844.2 318.6L844.3 317.2L844.4 314.7L844.5 312.7L844.6 307.8L844.7 308.1L844.8 305.7L844.9 302.9L845.0 300.7L845.1 298.4L845.2 296.4L845.3 294.9L845.4 293.8L845.4 293.7L845.5 294.5L845.6 295.8L845.7 297.5L845.8 299.7L845.9 301.8L846.0 303.6L846.1 304.3L846.2 310.4L846.3 314.5L846.4 312.0L846.5 308.6L846.6 312.3L846.7 310.4L846.8 308.6L846.9 308.0L847.0 309.3L847.1 307.0L847.2 304.8L847.2 305.2L847.3 306.3L847.4 307.1L847.5 304.5L847.6 304.5L847.7 311.4L847.8 311.5L847.9 312.0L848.0 309.3L848.1 311.8L848.2 313.1L848.3 306.5L848.4 310.2L848.5 313.5L848.6 309.7L848.7 307.9L848.8 303.3L848.9 300.4L848.9 294.2L849.0 286.5L849.1 276.9L849.2 266.0L849.3 253.9L849.4 242.1L849.5 232.0L849.6 224.6L849.7 222.0L849.8 224.5L849.9 232.0L850.0 242.3L850.1 254.3L850.2 266.2L850.3 277.6L850.4 286.9L850.5 294.7L850.6 300.9L850.7 305.5L850.7 307.6L850.8 305.4L850.9 314.6L851.0 313.5L851.1 317.5L851.2 312.7L851.3 320.4L851.4 317.2L851.5 313.9L851.6 313.5L851.7 313.4L851.8 311.7L851.9 310.0L852.0 305.6L852.1 304.7L852.2 303.3L852.3 302.0L852.4 301.7L852.5 302.1L852.5 303.2L852.6 305.2L852.7 305.5L852.8 309.0L852.9 310.0L853.0 315.0L853.1 315.0L853.2 317.3L853.3 324.5L853.4 318.1L853.5 322.9L853.6 315.5L853.7 325.7L853.8 315.1L853.9 321.6L854.0 318.0L854.1 315.5L854.2 313.3L854.3 318.8L854.3 315.9L854.4 312.2L854.5 317.2L854.6 315.2L854.7 317.9L854.8 313.4L854.9 315.0L855.0 313.4L855.1 318.6L855.2 319.0L855.3 329.5L855.4 322.4L855.5 321.8L855.6 313.7L855.7 318.4L855.8 319.5L855.9 315.2L856.0 314.3L856.0 311.6L856.1 307.0L856.2 302.1L856.3 297.3L856.4 292.3L856.5 287.2L856.6 282.7L856.7 279.7L856.8 278.5L856.9 279.9L857.0 283.1L857.1 287.5L857.2 292.5L857.3 297.8L857.4 302.8L857.5 306.6L857.6 308.3L857.7 315.3L857.8 313.1L857.8 308.5L857.9 318.5L858.0 317.0L858.1 320.4L858.2 322.9L858.3 321.8L858.4 312.6L858.5 313.2L858.6 313.5L858.7 307.5L858.8 309.5L858.9 307.0L859.0 305.0L859.1 303.6L859.2 302.5L859.3 301.8L859.4 302.0L859.5 302.6L859.6 304.0L859.6 305.8L859.7 309.2L859.8 310.9L859.9 315.0L860.0 315.5L860.1 315.0L860.2 311.9L860.3 313.3L860.4 324.4L860.5 319.3L860.6 322.4L860.7 319.7L860.8 313.8L860.9 318.0L861.0 319.0L861.1 322.2L861.2 323.0L861.3 321.4L861.4 317.6L861.4 313.5L861.5 316.6L861.6 318.6L861.7 317.0L861.8 313.1L861.9 309.6L862.0 308.3L862.1 309.5L862.2 306.7L862.3 304.4L862.4 302.9L862.5 302.4L862.6 302.9L862.7 304.6L862.8 306.7L862.9 309.8L863.0 309.8L863.1 314.1L863.1 316.2L863.2 321.2L863.3 313.4L863.4 316.0L863.5 317.8L863.6 325.9L863.7 324.0L863.8 317.3L863.9 322.1L864.0 321.1L864.1 320.6L864.2 323.6L864.3 318.0L864.4 329.7L864.5 316.1L864.6 316.4L864.7 320.6L864.8 319.5L864.9 322.7L864.9 315.2L865.0 323.9L865.1 324.4L865.2 317.9L865.3 319.5L865.4 316.7L865.5 310.9L865.6 315.6L865.7 311.3L865.8 314.4L865.9 314.0L866.0 315.0L866.1 317.3L866.2 325.9L866.3 321.2L866.4 320.0L866.5 315.4L866.6 321.8L866.7 327.7L866.7 326.2L866.8 326.8L866.9 318.5L867.0 320.2L867.1 329.4L867.2 325.4L867.3 318.3L867.4 326.7L867.5 321.4L867.6 324.6L867.7 322.6L867.8 325.2L867.9 328.6L868.0 327.1L868.1 321.8L868.2 318.2L868.3 324.2L868.4 321.9L868.5 321.5L868.5 327.6L868.6 327.1L868.7 320.9L868.8 321.4L868.9 325.8L869.0 329.3L869.1 324.3L869.2 323.5L869.3 319.1L869.4 321.6L869.5 320.2L869.6 316.6L869.7 318.3L869.8 322.1L869.9 317.1L870.0 319.9L870.1 315.8L870.2 324.9L870.2 322.1L870.3 324.2L870.4 326.7L870.5 325.8L870.6 320.8L870.7 318.2L870.8 320.7L870.9 318.2L871.0 313.3L871.1 314.2L871.2 312.5L871.3 310.3L871.4 309.4L871.5 308.9L871.6 309.4L871.7 310.5L871.8 312.5L871.9 314.9L872.0 315.8L872.0 313.1L872.1 317.2L872.2 320.7L872.3 316.9L872.4 329.0L872.5 322.3L872.6 325.9L872.7 327.8L872.8 325.7L872.9 324.4L873.0 327.8L873.1 323.5L873.2 329.9L873.3 322.2L873.4 322.2L873.5 316.8L873.6 321.8L873.7 325.6L873.8 326.3L873.8 322.7L873.9 322.6L874.0 329.1L874.1 330.1L874.2 320.9L874.3 321.6L874.4 326.5L874.5 316.3L874.6 319.0L874.7 319.0L874.8 316.6L874.9 313.4L875.0 312.0L875.1 310.1L875.2 308.5L875.3 307.8L875.4 307.4L875.5 307.9L875.6 308.9L875.6 310.6L875.7 312.0L875.8 313.3L875.9 314.2L876.0 320.2L876.1 320.6L876.2 321.5L876.3 314.8L876.4 318.4L876.5 320.9L876.6 320.7L876.7 322.6L876.8 317.7L876.9 322.7L877.0 318.8L877.1 319.4L877.2 321.8L877.3 314.7L877.3 314.0L877.4 311.6L877.5 307.6L877.6 302.6L877.7 297.6L877.8 292.5L877.9 287.8L878.0 284.7L878.1 283.6L878.2 284.6L878.3 287.7L878.4 292.5L878.5 297.7L878.6 302.6L878.7 307.5L878.8 311.5L878.9 313.7L879.0 314.0L879.1 321.3L879.1 321.9L879.2 328.1L879.3 320.1L879.4 320.8L879.5 319.8L879.6 313.8L879.7 319.0L879.8 316.7L879.9 312.9L880.0 310.3L880.1 309.0L880.2 308.3L880.3 308.4L880.4 309.7L880.5 311.7L880.6 315.0L880.7 315.2L880.8 320.4L880.9 318.0L880.9 324.0L881.0 321.8L881.1 326.2L881.2 320.5L881.3 332.3L881.4 315.1L881.5 321.1L881.6 326.3L881.7 324.1L881.8 321.3L881.9 320.3L882.0 323.0L882.1 316.8L882.2 321.6L882.3 324.2L882.4 322.0L882.5 319.2L882.6 328.2L882.7 326.4L882.7 319.6L882.8 322.5L882.9 323.7L883.0 316.9L883.1 318.1L883.2 328.4L883.3 329.0L883.4 322.1L883.5 320.0L883.6 324.0L883.7 320.9L883.8 324.4L883.9 318.0L884.0 323.2L884.1 317.1L884.2 314.5L884.3 313.3L884.4 310.4L884.4 307.7L884.5 305.3L884.6 303.8L884.7 303.0L884.8 303.9L884.9 305.2L885.0 307.7L885.1 310.3L885.2 312.1L885.3 314.8L885.4 314.4L885.5 317.4L885.6 320.5L885.7 318.0L885.8 317.5L885.9 329.3L886.0 322.2L886.1 330.4L886.2 321.9L886.2 320.7L886.3 319.0L886.4 313.8L886.5 311.9L886.6 309.6L886.7 307.6L886.8 306.2L886.9 307.3L887.0 309.8L887.1 312.5L887.2 316.4L887.3 320.0L887.4 315.7L887.5 323.6L887.6 326.9L887.7 320.6L887.8 327.9L887.9 320.6L888.0 328.0L888.0 321.8L888.1 317.4L888.2 320.8L888.3 326.9L888.4 330.4L888.5 326.1L888.6 330.2L888.7 319.2L888.8 320.7L888.9 332.6L889.0 326.0L889.1 322.6L889.2 320.9L889.3 328.7L889.4 324.3L889.5 328.6L889.6 325.8L889.7 321.5L889.8 331.8L889.8 324.4L889.9 321.3L890.0 330.4L890.1 327.0L890.2 317.8L890.3 322.6L890.4 318.3L890.5 318.5L890.6 315.5L890.7 316.4L890.8 319.4L890.9 322.5L891.0 318.5L891.1 325.6L891.2 325.3L891.3 325.3L891.4 325.2L891.5 328.5L891.5 324.8L891.6 321.6L891.7 330.7L891.8 332.2L891.9 326.9L892.0 324.4L892.1 323.1L892.2 323.5L892.3 324.7L892.4 316.7L892.5 320.9L892.6 322.0L892.7 318.6L892.8 318.0L892.9 317.0L893.0 314.1L893.1 313.3L893.2 312.7L893.3 312.0L893.3 317.0L893.4 318.0L893.5 320.9L893.6 318.8L893.7 326.3L893.8 322.3L893.9 322.2L894.0 320.9L894.1 319.9L894.2 322.3L894.3 324.1L894.4 321.3L894.5 325.9L894.6 317.0L894.7 322.5L894.8 320.3L894.9 320.6L895.0 314.1L895.1 321.6L895.1 321.1L895.2 316.7L895.3 320.4L895.4 324.6L895.5 319.4L895.6 324.3L895.7 321.1L895.8 319.6L895.9 327.0L896.0 328.4L896.1 326.8L896.2 322.6L896.3 317.5L896.4 322.1L896.5 321.3L896.6 324.8L896.7 322.4L896.8 320.5L896.9 325.2L896.9 319.3L897.0 317.2L897.1 314.3L897.2 312.1L897.3 310.3L897.4 308.9L897.5 308.5L897.6 309.0L897.7 310.5L897.8 312.3L897.9 314.4L898.0 317.1L898.1 317.7L898.2 322.2L898.3 318.5L898.4 321.5L898.5 325.4L898.6 317.1L898.6 315.7L898.7 314.7L898.8 314.0L898.9 311.0L899.0 308.6L899.1 307.1L899.2 306.7L899.3 307.8L899.4 309.8L899.5 312.4L899.6 315.6L899.7 320.3L899.8 320.1L899.9 324.4L900.0 323.1L900.1 324.3L900.2 325.1L900.3 329.1L900.4 328.1L900.4 325.1L900.5 330.4L900.6 320.7L900.7 324.8L900.8 324.1L900.9 327.4L901.0 324.3L901.1 323.1L901.2 323.9L901.3 320.1L901.4 314.9L901.5 314.5L901.6 312.0L901.7 310.0L901.8 308.6L901.9 307.4L902.0 306.9L902.1 307.0L902.2 307.6L902.2 308.9L902.3 310.8L902.4 312.6L902.5 314.8L902.6 316.0L902.7 320.2L902.8 317.7L902.9 327.6L903.0 325.8L903.1 324.8L903.2 326.8L903.3 328.4L903.4 323.9L903.5 330.9L903.6 329.2L903.7 328.1L903.8 332.9L903.9 327.4L904.0 326.6L904.0 326.3L904.1 323.5L904.2 329.3L904.3 324.3L904.4 326.4L904.5 328.9L904.6 330.6L904.7 323.2L904.8 332.1L904.9 322.3L905.0 322.6L905.1 317.7L905.2 317.9L905.3 314.3L905.4 311.8L905.5 311.3L905.6 312.5L905.7 315.1L905.7 318.8L905.8 322.1L905.9 322.3L906.0 329.3L906.1 326.4L906.2 325.7L906.3 321.3L906.4 327.9L906.5 330.2L906.6 321.1L906.7 325.7L906.8 323.4L906.9 328.8L907.0 331.1L907.1 326.2L907.2 321.9L907.3 319.5L907.4 317.1L907.5 317.2L907.5 314.5L907.6 314.7L907.7 315.5L907.8 317.2L907.9 319.1L908.0 318.0L908.1 320.8L908.2 319.1L908.3 329.2L908.4 322.1L908.5 324.5L908.6 317.5L908.7 317.0L908.8 313.2L908.9 309.5L909.0 305.6L909.1 301.8L909.2 298.3L909.3 295.9L909.3 295.0L909.4 295.8L909.5 298.1L909.6 301.8L909.7 305.2L909.8 309.5L909.9 313.1L910.0 317.2L910.1 320.0L910.2 322.2L910.3 325.3L910.4 319.8L910.5 325.3L910.6 324.9L910.7 326.7L910.8 314.8L910.9 326.3L911.0 321.2L911.1 317.7L911.1 320.4L911.2 316.7L911.3 314.6L911.4 313.6L911.5 314.7L911.6 315.9L911.7 322.7L911.8 322.4L911.9 325.8L912.0 323.6L912.1 335.1L912.2 319.4L912.3 328.2L912.4 323.1L912.5 329.2L912.6 325.1L912.7 328.0L912.8 327.9L912.8 320.8L912.9 319.9L913.0 329.5L913.1 327.1L913.2 330.6L913.3 321.1L913.4 322.4L913.5 322.7L913.6 328.9L913.7 323.9L913.8 325.4L913.9 325.4L914.0 323.2L914.1 320.2L914.2 318.8L914.3 320.8L914.4 318.4L914.5 321.5L914.6 322.4L914.6 320.9L914.7 322.2L914.8 322.7L914.9 318.5L915.0 320.5L915.1 323.8L915.2 325.5L915.3 323.2L915.4 322.8L915.5 326.4L915.6 328.8L915.7 332.4L915.8 320.0L915.9 325.7L916.0 326.3L916.1 322.6L916.2 319.8L916.3 328.4L916.4 319.2L916.4 319.5L916.5 319.4L916.6 321.7L916.7 318.9L916.8 315.8L916.9 313.1L917.0 309.8L917.1 306.3L917.2 303.4L917.3 301.5L917.4 300.9L917.5 301.6L917.6 303.7L917.7 306.8L917.8 310.2L917.9 313.7L918.0 316.9L918.1 322.1L918.2 319.8L918.2 324.2L918.3 324.2L918.4 318.7L918.5 325.8L918.6 331.7L918.7 323.3L918.8 327.4L918.9 331.8L919.0 331.5L919.1 327.3L919.2 327.6L919.3 321.1L919.4 327.5L919.5 322.8L919.6 322.3L919.7 324.3L919.8 320.6L919.9 320.9L919.9 320.4L920.0 319.8L920.1 318.6L920.2 319.6L920.3 317.6L920.4 321.9L920.5 324.3L920.6 322.0L920.7 330.4L920.8 320.2L920.9 319.2L921.0 322.4L921.1 325.9L921.2 328.9L921.3 326.5L921.4 331.2L921.5 327.4L921.6 328.2L921.7 326.5L921.7 331.8L921.8 326.6L921.9 328.5L922.0 329.9L922.1 328.7L922.2 325.8L922.3 324.9L922.4 335.5L922.5 328.2L922.6 322.0L922.7 321.4L922.8 326.5L922.9 329.1L923.0 331.2L923.1 323.8L923.2 330.1L923.3 327.6L923.4 335.0L923.5 332.7L923.5 325.4L923.6 327.7L923.7 328.9L923.8 333.1L923.9 324.5L924.0 321.5L924.1 318.3L924.2 315.5L924.3 314.0L924.4 314.8L924.5 317.6L924.6 321.7L924.7 326.2L924.8 330.9L924.9 329.6L925.0 334.1L925.1 332.1L925.2 329.1L925.3 333.7L925.3 331.6L925.4 323.9L925.5 334.1L925.6 331.4L925.7 328.6L925.8 324.2L925.9 325.4L926.0 323.5L926.1 324.5L926.2 328.5L926.3 328.2L926.4 327.2L926.5 326.9L926.6 324.5L926.7 330.1L926.8 328.3L926.9 327.3L927.0 335.6L927.0 329.8L927.1 330.8L927.2 332.5L927.3 333.0L927.4 338.5L927.5 336.2L927.6 331.7L927.7 333.8L927.8 328.3L927.9 334.5L928.0 334.3L928.1 328.7L928.2 331.8L928.3 328.9L928.4 333.9L928.5 334.8L928.6 327.8L928.7 329.2L928.8 335.4L928.8 334.3L928.9 324.4L929.0 330.6L929.1 323.3L929.2 330.1L929.3 329.9L929.4 327.6L929.5 324.0L929.6 327.7L929.7 328.1L929.8 328.4L929.9 329.2L930.0 327.7L930.1 325.1L930.2 328.7L930.3 332.8L930.4 332.1L930.5 333.8L930.6 331.8L930.6 336.2L930.7 329.2L930.8 331.1L930.9 332.9L931.0 331.6L931.1 331.2L931.2 330.0L931.3 329.6L931.4 326.0L931.5 325.8L931.6 332.7L931.7 325.9L931.8 321.1L931.9 327.1L932.0 325.1L932.1 327.5L932.2 331.5L932.3 324.6L932.4 326.8L932.4 336.8L932.5 331.4L932.6 329.5L932.7 329.6L932.8 336.3L932.9 329.8L933.0 331.6L933.1 336.5L933.2 333.0L933.3 330.1L933.4 329.1L933.5 332.7L933.6 327.8L933.7 332.2L933.8 331.0L933.9 329.6L934.0 335.2L934.1 331.9L934.1 335.8L934.2 337.0L934.3 334.3L934.4 334.6L934.5 332.5L934.6 330.6L934.7 332.5L934.8 334.4L934.9 331.6L935.0 335.3L935.1 332.4L935.2 328.6L935.3 332.7L935.4 338.9L935.5 340.1L935.6 329.7L935.7 330.3L935.8 332.5L935.9 329.0L935.9 331.1L936.0 330.6L936.1 335.2L936.2 328.7L936.3 326.5L936.4 327.5L936.5 331.8L936.6 331.2L936.7 328.6L936.8 333.4L936.9 329.5L937.0 334.6L937.1 328.0L937.2 328.3L937.3 327.8L937.4 330.7L937.5 335.9L937.6 331.4L937.7 331.5L937.7 332.9L937.8 332.5L937.9 325.9L938.0 331.1L938.1 329.0L938.2 330.5L938.3 334.3L938.4 331.2L938.5 333.2L938.6 329.6L938.7 334.9L938.8 336.0L938.9 332.5L939.0 331.8L939.1 334.0L939.2 333.9L939.3 332.2L939.4 332.7L939.5 333.6L939.5 329.9L939.6 332.1L939.7 329.8L939.8 331.0L939.9 335.0L940.0 333.2L940.1 329.7L940.2 332.0L940.3 327.4L940.4 332.7L940.5 333.4L940.6 335.9L940.7 338.7L940.8 335.9L940.9 327.8L941.0 338.1L941.1 328.2L941.2 330.3L941.2 339.6L941.3 335.1L941.4 329.3L941.5 329.1L941.6 330.6L941.7 331.9L941.8 329.6L941.9 331.6L942.0 338.8L942.1 335.3L942.2 338.1L942.3 334.0L942.4 328.0L942.5 336.5L942.6 338.9L942.7 331.9L942.8 340.8L942.9 333.9L943.0 332.7L943.0 328.5L943.1 332.0L943.2 327.3L943.3 334.9L943.4 331.4L943.5 336.1L943.6 331.6L943.7 330.2L943.8 335.3L943.9 333.2L944.0 333.1L944.1 328.2L944.2 333.1L944.3 334.1L944.4 334.2L944.5 341.5L944.6 334.6L944.7 331.9L944.8 334.8L944.8 334.3L944.9 333.0L945.0 330.6L945.1 332.8L945.2 332.9L945.3 332.7L945.4 336.5L945.5 337.0L945.6 337.0L945.7 332.8L945.8 337.0L945.9 331.8L946.0 336.4L946.1 334.1L946.2 330.5L946.3 326.4L946.4 332.5L946.5 340.3L946.6 334.7L946.6 332.2L946.7 331.6L946.8 336.3L946.9 340.1L947.0 334.2L947.1 336.1L947.2 336.5L947.3 339.3L947.4 333.8L947.5 340.0L947.6 336.1L947.7 335.0L947.8 335.4L947.9 334.3L948.0 329.8L948.1 329.3L948.2 334.7L948.3 336.8L948.3 337.9L948.4 337.7L948.5 337.0L948.6 332.1L948.7 333.0L948.8 337.5L948.9 336.5L949.0 330.6L949.1 339.9L949.2 333.0L949.3 331.0L949.4 336.0L949.5 332.5L949.6 332.9L949.7 334.0L949.8 337.9L949.9 334.7L950.0 338.3L950.1 337.6L950.1 330.5L950.2 335.7L950.3 339.4L950.4 332.1L950.5 330.8L950.6 330.5L950.7 332.3L950.8 333.3L950.9 341.8L951.0 332.0L951.1 336.8L951.2 334.9L951.3 332.0L951.4 332.8L951.5 333.8L951.6 330.4L951.7 329.0L951.8 335.7L951.9 336.2L951.9 327.3L952.0 331.1L952.1 334.0L952.2 336.2L952.3 332.3L952.4 328.2L952.5 335.6L952.6 331.7L952.7 337.0L952.8 330.6L952.9 333.1L953.0 328.7L953.1 332.0L953.2 333.1L953.3 335.8L953.4 336.3L953.5 334.7L953.6 331.7L953.7 333.4L953.7 332.8L953.8 333.0L953.9 331.0L954.0 328.5L954.1 332.9L954.2 331.2L954.3 338.3L954.4 339.6L954.5 336.7L954.6 332.3L954.7 337.3L954.8 337.5L954.9 331.9L955.0 334.1L955.1 334.4L955.2 336.1L955.3 332.0L955.4 333.3L955.4 334.1L955.5 337.2L955.6 338.0L955.7 329.3L955.8 336.0L955.9 335.5L956.0 336.1L956.1 338.1L956.2 337.9L956.3 333.4L956.4 340.4L956.5 331.2L956.6 338.8L956.7 340.0L956.8 340.9L956.9 334.5L957.0 327.9L957.1 331.5L957.2 332.7L957.2 335.2L957.3 332.2L957.4 333.6L957.5 333.8L957.6 333.3L957.7 329.2L957.8 330.8L957.9 329.2L958.0 334.3L958.1 330.7L958.2 332.0L958.3 338.2L958.4 336.8L958.5 331.7L958.6 334.2L958.7 331.3L958.8 333.9L958.9 334.4L959.0 336.7L959.0 340.3L959.1 331.6L959.2 336.0L959.3 334.9L959.4 336.4L959.5 333.0L959.6 335.5L959.7 336.4L959.8 336.4L959.9 336.3L960.0 334.8L960.1 333.5L960.2 342.7L960.3 337.5L960.4 335.6L960.5 331.6L960.6 332.5L960.7 336.5L960.8 337.7L960.8 334.9L960.9 337.6L961.0 333.0L961.1 329.8L961.2 331.4L961.3 331.9L961.4 337.1L961.5 340.8L961.6 338.1L961.7 333.4L961.8 329.1L961.9 331.4L962.0 333.6L962.1 337.1L962.2 333.4L962.3 336.9L962.4 338.8L962.5 337.2L962.5 337.7L962.6 330.0L962.7 336.8L962.8 331.7L962.9 334.2L963.0 334.7L963.1 333.6L963.2 333.7L963.3 328.5L963.4 337.8L963.5 336.0L963.6 333.6L963.7 332.4L963.8 338.4L963.9 335.8L964.0 330.9L964.1 335.1L964.2 335.4L964.3 335.7L964.3 336.8L964.4 332.1L964.5 338.1L964.6 333.4L964.7 333.8L964.8 338.9L964.9 333.4L965.0 332.5L965.1 329.6L965.2 333.3L965.3 335.0L965.4 334.0L965.5 338.6L965.6 332.7L965.7 332.6L965.8 338.4L965.9 340.6L966.0 339.2L966.1 336.1L966.1 336.8L966.2 331.4L966.3 334.3L966.4 336.4L966.5 333.2L966.6 334.8L966.7 337.2L966.8 337.9L966.9 336.3L967.0 331.3L967.1 332.7L967.2 329.2L967.3 336.4L967.4 333.7L967.5 337.2L967.6 337.0L967.7 338.0L967.8 339.6L967.9 332.1L967.9 336.1L968.0 339.3L968.1 339.5L968.2 335.8L968.3 335.0L968.4 334.7L968.5 338.8L968.6 339.3L968.7 340.8L968.8 334.2L968.9 335.7L969.0 331.2L969.1 336.5L969.2 334.6L969.3 337.1L969.4 340.1L969.5 332.2L969.6 340.1L969.6 333.2L969.7 331.9L969.8 338.5L969.9 336.8L970.0 335.8L970.1 336.9L970.2 333.0L970.3 340.3L970.4 339.5L970.5 335.0L970.6 338.2L970.7 333.5L970.8 338.3L970.9 337.6L971.0 331.4L971.1 337.5L971.2 338.5L971.3 336.0L971.4 335.2L971.4 335.4L971.5 336.0L971.6 330.4L971.7 338.2L971.8 335.6L971.9 333.5L972.0 338.9L972.1 332.8L972.2 333.7L972.3 338.6L972.4 331.7L972.5 331.6L972.6 339.0L972.7 333.1L972.8 337.2L972.9 335.7L973.0 333.9L973.1 333.8L973.2 336.0L973.2 337.7L973.3 332.2L973.4 337.2L973.5 335.8L973.6 337.1L973.7 335.1L973.8 337.8L973.9 334.9L974.0 335.0L974.1 334.0L974.2 333.4L974.3 329.4L974.4 335.3L974.5 335.3L974.6 336.5L974.7 337.6L974.8 330.9L974.9 336.7L975.0 339.7L975.0 337.2L975.1 332.6L975.2 338.5L975.3 330.7L975.4 332.7L975.5 334.7L975.6 337.1L975.7 337.0L975.8 332.8L975.9 334.1L976.0 336.3L976.1 339.9L976.2 333.6L976.3 339.2L976.4 333.7L976.5 336.0L976.6 336.0L976.7 335.9L976.7 337.5L976.8 335.6L976.9 333.3L977.0 334.6L977.1 333.4L977.2 335.4L977.3 335.1L977.4 337.6L977.5 338.7L977.6 329.3L977.7 333.8L977.8 331.4L977.9 336.3L978.0 329.7L978.1 329.0L978.2 336.4L978.3 332.2L978.4 340.2L978.5 336.0L978.5 334.8L978.6 333.2L978.7 332.1L978.8 335.3L978.9 332.9L979.0 334.5L979.1 327.8L979.2 338.7L979.3 334.7L979.4 332.4L979.5 331.5L979.6 336.6L979.7 331.0L979.8 326.6L979.9 325.0L980.0 323.0L980.1 320.5L980.2 318.4L980.3 317.0L980.3 316.5L980.4 317.2L980.5 318.6L980.6 320.7L980.7 322.9L980.8 325.8L980.9 327.7L981.0 331.4L981.1 331.2L981.2 328.9L981.3 334.1L981.4 334.6L981.5 331.3L981.6 337.7L981.7 335.1L981.8 337.6L981.9 332.7L982.0 336.4L982.1 332.4L982.1 330.4L982.2 338.2L982.3 332.0L982.4 331.9L982.5 336.5L982.6 338.3L982.7 332.8L982.8 336.0L982.9 337.2L983.0 335.3L983.1 336.7L983.2 335.5L983.3 333.3L983.4 334.9L983.5 338.4L983.6 335.7L983.7 339.2L983.8 340.2L983.8 335.9L983.9 334.1L984.0 341.9L984.1 333.0L984.2 329.7L984.3 331.4L984.4 346.1L984.5 334.8L984.6 336.1L984.7 334.2L984.8 332.7L984.9 335.9L985.0 341.5L985.1 338.8L985.2 336.4L985.3 336.3L985.4 334.7L985.5 336.6L985.6 332.6L985.6 339.7L985.7 338.7L985.8 334.4L985.9 335.9L986.0 331.0L986.1 339.9L986.2 342.7L986.3 338.1L986.4 333.7L986.5 339.4L986.6 340.1L986.7 335.3L986.8 336.8L986.9 336.6L987.0 337.9L987.1 341.3L987.2 330.4L987.3 339.3L987.4 334.0L987.4 342.3L987.5 339.1L987.6 342.1L987.7 341.5L987.8 341.9L987.9 335.8L988.0 337.9L988.1 336.2L988.2 336.3L988.3 341.6L988.4 338.4L988.5 342.3L988.6 332.7L988.7 335.4L988.8 338.0L988.9 342.8L989.0 334.2L989.1 339.6L989.2 341.2L989.2 342.9L989.3 332.7L989.4 334.4L989.5 338.9L989.6 335.0L989.7 342.9L989.8 333.4L989.9 336.8L990.0 332.2L990.1 335.8L990.2 339.5L990.3 342.2L990.4 334.1L990.5 340.8L990.6 334.8L990.7 334.2L990.8 340.2L990.9 335.4L990.9 334.0L991.0 336.7L991.1 339.4L991.2 343.0L991.3 335.7L991.4 338.3L991.5 340.0L991.6 339.2L991.7 338.1L991.8 330.5L991.9 337.6L992.0 334.2L992.1 339.9L992.2 332.7L992.3 337.3L992.4 336.1L992.5 339.1L992.6 338.9L992.7 340.6L992.7 334.9L992.8 334.0L992.9 335.0L993.0 337.2L993.1 336.6L993.2 333.5L993.3 337.3L993.4 338.5L993.5 336.6L993.6 338.3L993.7 334.9L993.8 337.7L993.9 340.8L994.0 341.4L994.1 341.8L994.2 332.9L994.3 337.2L994.4 333.4L994.5 333.0L994.5 338.1L994.6 330.1L994.7 337.6L994.8 335.9L994.9 339.4L995.0 336.0L995.1 338.4L995.2 335.4L995.3 331.8L995.4 335.2L995.5 340.9L995.6 341.5L995.7 340.2L995.8 331.6L995.9 338.7L996.0 343.8L996.1 339.3L996.2 336.2L996.3 339.1L996.3 334.2L996.4 333.4L996.5 339.2L996.6 333.3L996.7 339.5L996.8 331.9L996.9 338.6L997.0 332.8L997.1 337.3L997.2 339.4L997.3 337.3L997.4 336.7L997.5 340.1L997.6 335.6L997.7 340.5L997.8 340.5L997.9 337.0L998.0 335.3L998.0 340.2L998.1 336.2L998.2 333.2L998.3 336.9L998.4 338.7L998.5 333.7L998.6 332.3L998.7 337.8L998.8 336.3L998.9 338.1L999.0 335.4L999.1 333.8L999.2 339.2L999.3 331.6L999.4 336.9L999.5 337.8L999.6 335.6L999.7 336.6L999.8 336.6L999.8 344.1L999.9 331.1L1000.0 335.6L1000.1 336.8L1000.2 333.7L1000.3 337.6L1000.4 337.8L1000.5 333.1L1000.6 339.2L1000.7 337.1L1000.8 334.2L1000.9 336.4L1001.0 335.4L1001.1 340.5L1001.2 342.6L1001.3 334.7L1001.4 334.7L1001.5 333.0L1001.6 331.6L1001.6 336.7L1001.7 335.7L1001.8 333.6L1001.9 341.5L1002.0 337.1L1002.1 338.1L1002.2 336.0L1002.3 332.4L1002.4 337.1L1002.5 339.0L1002.6 339.7L1002.7 340.0L1002.8 337.0L1002.9 344.1L1003.0 334.2L1003.1 336.9L1003.2 337.9L1003.3 337.1L1003.4 338.0L1003.4 333.0L1003.5 341.4L1003.6 342.5L1003.7 335.8L1003.8 341.1L1003.9 336.2L1004.0 335.6L1004.1 342.5L1004.2 337.2L1004.3 334.9L1004.4 338.7L1004.5 340.0L1004.6 333.2L1004.7 340.2L1004.8 336.7L1004.9 334.8L1005.0 340.1L1005.1 335.3L1005.1 339.5L1005.2 335.9L1005.3 337.1L1005.4 333.5L1005.5 334.1L1005.6 334.0L1005.7 339.8L1005.8 336.5L1005.9 339.1L1006.0 330.3L1006.1 337.7L1006.2 337.4L1006.3 339.6L1006.4 337.5L1006.5 340.2L1006.6 336.0L1006.7 335.4L1006.8 340.3L1006.9 339.6L1006.9 335.3L1007.0 338.7L1007.1 336.0L1007.2 340.4L1007.3 329.2L1007.4 345.1L1007.5 337.0L1007.6 336.5L1007.7 335.1L1007.8 340.6L1007.9 338.2L1008.0 337.4L1008.1 338.7L1008.2 335.6L1008.3 338.4L1008.4 333.7L1008.5 339.2L1008.6 341.8L1008.7 334.9L1008.7 338.0L1008.8 339.7L1008.9 335.7L1009.0 337.1L1009.1 335.8L1009.2 341.7L1009.3 336.4L1009.4 334.9L1009.5 336.8L1009.6 340.3L1009.7 334.6L1009.8 334.8L1009.9 341.1L1010.0 341.4L1010.1 339.7L1010.2 336.9L1010.3 339.2L1010.4 339.5L1010.5 341.9L1010.5 336.7L1010.6 333.6L1010.7 338.1L1010.8 333.4L1010.9 339.0L1011.0 330.6L1011.1 342.2L1011.2 335.9L1011.3 339.2L1011.4 336.0L1011.5 343.8L1011.6 338.6L1011.7 334.5L1011.8 335.3L1011.9 335.4L1012.0 335.4L1012.1 340.0L1012.2 337.8L1012.2 334.2L1012.3 343.5L1012.4 333.9L1012.5 334.1L1012.6 338.8L1012.7 337.5L1012.8 336.9L1012.9 339.8L1013.0 340.8L1013.1 338.5L1013.2 333.4L1013.3 343.8L1013.4 336.2L1013.5 331.2L1013.6 337.6L1013.7 338.0L1013.8 340.7L1013.9 341.6L1014.0 340.2L1014.0 336.5L1014.1 340.9L1014.2 335.8L1014.3 340.4L1014.4 337.6L1014.5 335.6L1014.6 339.4L1014.7 336.5L1014.8 340.8L1014.9 340.1L1015.0 337.0L1015.1 333.7L1015.2 342.8L1015.3 336.4L1015.4 345.1L1015.5 339.9L1015.6 341.8L1015.7 339.9L1015.8 339.9L1015.8 343.2L1015.9 334.9L1016.0 336.9L1016.1 339.9L1016.2 333.5L1016.3 335.7L1016.4 337.2L1016.5 337.0L1016.6 339.8L1016.7 337.4L1016.8 343.4L1016.9 337.9L1017.0 337.9L1017.1 337.3L1017.2 339.3L1017.3 340.0L1017.4 340.0L1017.5 330.0L1017.6 334.8L1017.6 335.8L1017.7 340.2L1017.8 336.6L1017.9 338.8L1018.0 342.7L1018.1 335.4L1018.2 341.7L1018.3 340.2L1018.4 336.7L1018.5 338.4L1018.6 346.8L1018.7 343.1L1018.8 343.9L1018.9 332.9L1019.0 339.1L1019.1 339.9L1019.2 336.7L1019.3 338.1L1019.3 340.8L1019.4 333.4L1019.5 332.5L1019.6 337.1L1019.7 341.3L1019.8 336.3L1019.9 337.2L1020.0 336.1L1020.1 334.1L1020.2 337.1L1020.3 335.8L1020.4 336.9L1020.5 340.7L1020.6 340.6L1020.7 341.0L1020.8 339.6L1020.9 342.2L1021.0 338.5L1021.1 334.3L1021.1 339.6L1021.2 337.2L1021.3 339.9L1021.4 340.5L1021.5 338.5L1021.6 338.8L1021.7 343.4L1021.8 340.0L1021.9 339.9L1022.0 337.8L1022.1 339.8L1022.2 343.5L1022.3 340.9L1022.4 342.1L1022.5 340.3L1022.6 338.5L1022.7 342.1L1022.8 338.1L1022.9 334.1L1022.9 339.1L1023.0 339.3L1023.1 340.7L1023.2 337.8L1023.3 336.1L1023.4 337.5L1023.5 339.6L1023.6 332.6L1023.7 336.2L1023.8 338.5L1023.9 343.3L1024.0 336.8L1024.1 338.3L1024.2 341.7L1024.3 337.8L1024.4 336.3L1024.5 332.5L1024.6 333.9L1024.7 341.6L1024.7 338.4L1024.8 335.1L1024.9 336.2L1025.0 339.6L1025.1 345.9L1025.2 339.4L1025.3 340.0L1025.4 341.6L1025.5 336.7L1025.6 335.7L1025.7 340.5L1025.8 338.8L1025.9 340.0L1026.0 335.9L1026.1 333.6L1026.2 339.4L1026.3 335.7L1026.4 337.0L1026.4 341.7L1026.5 341.3L1026.6 337.1L1026.7 344.3L1026.8 339.7L1026.9 336.4L1027.0 342.9L1027.1 338.9L1027.2 342.6L1027.3 337.8L1027.4 340.4L1027.5 336.4L1027.6 340.4L1027.7 337.7L1027.8 340.6L1027.9 338.6L1028.0 340.3L1028.1 335.8L1028.2 336.2L1028.2 337.9L1028.3 341.1L1028.4 334.1L1028.5 335.0L1028.6 337.7L1028.7 338.6L1028.8 343.4L1028.9 337.2L1029.0 337.1L1029.1 340.3L1029.2 339.6L1029.3 338.1L1029.4 337.2L1029.5 341.2L1029.6 341.7L1029.7 336.1L1029.8 333.7L1029.9 332.8L1030.0 342.0L1030.0 337.2L1030.1 340.8L1030.2 337.0L1030.3 335.1L1030.4 337.6L1030.5 345.2L1030.6 340.0L1030.7 339.7L1030.8 336.9L1030.9 343.0L1031.0 335.7L1031.1 340.5L1031.2 336.5L1031.3 343.7L1031.4 330.3L1031.5 337.9L1031.6 339.2L1031.7 339.6L1031.8 336.6L1031.8 340.4L1031.9 339.3L1032.0 338.3L1032.1 335.0L1032.2 340.5L1032.3 340.6L1032.4 341.5L1032.5 341.4L1032.6 341.6L1032.7 338.2L1032.8 337.5L1032.9 342.3L1033.0 334.3L1033.1 336.1L1033.2 338.9L1033.3 340.0L1033.4 339.2L1033.5 339.8L1033.5 343.8L1033.6 337.3L1033.7 340.1L1033.8 336.9L1033.9 335.5L1034.0 339.3L1034.1 338.3L1034.2 336.9L1034.3 338.6L1034.4 338.7L1034.5 338.7L1034.6 334.9L1034.7 337.9L1034.8 339.4L1034.9 334.7L1035.0 339.6L1035.1 337.9L1035.2 337.6L1035.3 337.1L1035.3 336.3L1035.4 340.1L1035.5 336.8L1035.6 344.0L1035.7 337.0L1035.8 339.5L1035.9 339.2L1036.0 335.9L1036.1 335.8L1036.2 343.1L1036.3 339.3L1036.4 336.9L1036.5 342.4L1036.6 341.3L1036.7 341.0L1036.8 337.4L1036.9 337.6L1037.0 339.7L1037.1 338.3L1037.1 337.4L1037.2 337.7L1037.3 340.3L1037.4 334.4L1037.5 335.5L1037.6 336.2L1037.7 342.2L1037.8 338.4L1037.9 341.1L1038.0 340.5L1038.1 340.8L1038.2 336.0L1038.3 334.7L1038.4 334.5L1038.5 335.6L1038.6 336.6L1038.7 336.4L1038.8 338.9L1038.9 338.8L1038.9 343.4L1039.0 335.4L1039.1 340.1L1039.2 339.2L1039.3 340.1L1039.4 340.1L1039.5 336.2L1039.6 336.6L1039.7 341.3L1039.8 334.0L1039.9 338.6L1040.0 339.9L1040.1 341.7L1040.2 336.2L1040.3 336.2L1040.4 335.2L1040.5 343.4L1040.6 338.5L1040.6 341.4L1040.7 335.5L1040.8 334.4L1040.9 340.5L1041.0 343.2L1041.1 338.4L1041.2 335.9L1041.3 339.1L1041.4 343.6L1041.5 336.1L1041.6 339.7L1041.7 333.9L1041.8 333.0L1041.9 342.5L1042.0 335.1L1042.1 339.7L1042.2 338.3L1042.3 335.2L1042.4 338.5L1042.4 337.6L1042.5 341.3L1042.6 334.1L1042.7 333.0L1042.8 332.2L1042.9 335.3L1043.0 339.4L1043.1 336.7L1043.2 341.5L1043.3 341.1L1043.4 338.8L1043.5 337.5L1043.6 338.1L1043.7 335.3L1043.8 339.3L1043.9 337.0L1044.0 342.3L1044.1 336.3L1044.2 339.8L1044.2 338.9L1044.3 336.8L1044.4 338.1L1044.5 342.0L1044.6 335.9L1044.7 342.3L1044.8 339.1L1044.9 338.0L1045.0 336.9L1045.1 338.1L1045.2 337.1L1045.3 333.5L1045.4 340.3L1045.5 335.2L1045.6 341.2L1045.7 339.6" stroke="#000" stroke-width="0.5" fill="none" stroke-linejoin="round"/>
<path d="M110 771H536M110 771V429" stroke="#000" stroke-width="2" fill="none" stroke-linecap="square"/>
<path d="M110.00 772v6M133.67 772v3M157.33 772v6M181.00 772v3M204.67 772v6M228.33 772v3M252.00 772v6M275.67 772v3M299.33 772v6M323.00 772v3M346.67 772v6M370.33 772v3M394.00 772v6M417.67 772v3M441.33 772v6M465.00 772v3M488.67 772v6M512.33 772v3M536.00 772v6M109 771.00h-6M109 746.57h-3M109 722.14h-6M109 697.71h-3M109 673.29h-6M109 648.86h-3M109 624.43h-6M109 600.00h-3M109 575.57h-6M109 551.14h-3M109 526.71h-6M109 502.29h-3M109 477.86h-6M109 453.43h-3M109 429.00h-6" stroke="#000" stroke-width="2" fill="none"/>
<g class="tl"><text x="99.2" y="775.8" text-anchor="end">0</text><text x="99.2" y="726.9" text-anchor="end">100</text><text x="99.2" y="678.1" text-anchor="end">200</text><text x="99.2" y="629.2" text-anchor="end">300</text><text x="99.2" y="580.4" text-anchor="end">400</text><text x="99.2" y="531.5" text-anchor="end">500</text><text x="99.2" y="482.7" text-anchor="end">600</text><text x="99.2" y="433.8" text-anchor="end">700</text><text x="110.0" y="794.0" text-anchor="middle">0</text><text x="157.3" y="794.0" text-anchor="middle">10</text><text x="204.7" y="794.0" text-anchor="middle">20</text><text x="252.0" y="794.0" text-anchor="middle">30</text><text x="299.3" y="794.0" text-anchor="middle">40</text><text x="346.7" y="794.0" text-anchor="middle">50</text><text x="394.0" y="794.0" text-anchor="middle">60</text><text x="441.3" y="794.0" text-anchor="middle">70</text><text x="488.7" y="794.0" text-anchor="middle">80</text><text x="536.0" y="794.0" text-anchor="middle">90</text></g>
<text class="at" x="323.0" y="822.0" text-anchor="middle">Angle</text>
<text class="at" transform="translate(57.1 591.1) rotate(-90)" text-anchor="middle">PSD</text>
<text class="pl" x="9" y="432.6">(c)</text>
<path d="M133.7 563.8L133.8 561.6L133.9 565.7L134.0 576.1L134.0 579.1L134.1 574.5L134.2 584.3L134.3 576.8L134.4 607.9L134.5 572.8L134.6 576.6L134.7 608.4L134.8 598.8L134.9 602.3L135.0 600.7L135.1 588.6L135.2 602.6L135.3 606.7L135.4 591.9L135.5 586.3L135.6 603.0L135.7 596.4L135.7 612.7L135.8 590.4L135.9 578.7L136.0 594.5L136.1 600.8L136.2 619.4L136.3 603.7L136.4 620.1L136.5 594.0L136.6 584.9L136.7 588.7L136.8 600.4L136.9 597.6L137.0 608.7L137.1 600.5L137.2 600.7L137.3 603.2L137.4 628.2L137.5 601.2L137.5 599.7L137.6 611.2L137.7 600.5L137.8 597.3L137.9 625.0L138.0 597.0L138.1 610.4L138.2 616.8L138.3 605.0L138.4 614.1L138.5 611.5L138.6 616.7L138.7 613.9L138.8 619.1L138.9 613.5L139.0 618.4L139.1 620.9L139.2 598.8L139.3 608.5L139.3 605.1L139.4 593.2L139.5 603.2L139.6 609.4L139.7 619.8L139.8 602.6L139.9 605.7L140.0 600.8L140.1 611.6L140.2 614.1L140.3 630.0L140.4 606.1L140.5 625.5L140.6 616.2L140.7 607.4L140.8 611.6L140.9 613.3L141.0 608.6L141.1 629.0L141.1 612.6L141.2 601.8L141.3 603.0L141.4 627.3L141.5 605.4L141.6 610.2L141.7 623.3L141.8 626.9L141.9 616.1L142.0 602.5L142.1 610.9L142.2 624.0L142.3 614.7L142.4 606.4L142.5 616.9L142.6 620.4L142.7 612.3L142.8 635.5L142.8 613.0L142.9 629.4L143.0 618.1L143.1 614.3L143.2 619.0L143.3 624.7L143.4 621.6L143.5 611.1L143.6 630.7L143.7 626.8L143.8 616.2L143.9 612.1L144.0 619.5L144.1 624.3L144.2 613.6L144.3 623.5L144.4 602.0L144.5 608.6L144.6 603.8L144.6 629.3L144.7 625.3L144.8 623.6L144.9 632.4L145.0 626.3L145.1 613.4L145.2 631.0L145.3 624.8L145.4 609.2L145.5 619.9L145.6 618.3L145.7 622.8L145.8 628.7L145.9 626.6L146.0 621.3L146.1 628.9L146.2 623.6L146.3 628.1L146.4 625.1L146.4 610.9L146.5 619.4L146.6 636.4L146.7 626.8L146.8 609.3L146.9 609.6L147.0 635.9L147.1 622.1L147.2 626.0L147.3 648.2L147.4 623.9L147.5 609.3L147.6 633.1L147.7 629.7L147.8 618.9L147.9 631.3L148.0 631.5L148.1 625.4L148.2 640.5L148.2 623.9L148.3 639.8L148.4 628.1L148.5 621.7L148.6 614.6L148.7 635.8L148.8 627.3L148.9 627.3L149.0 645.2L149.1 630.7L149.2 628.0L149.3 625.5L149.4 613.4L149.5 629.6L149.6 631.2L149.7 631.6L149.8 631.2L149.9 627.2L149.9 618.0L150.0 640.6L150.1 631.7L150.2 652.4L150.3 646.5L150.4 631.2L150.5 650.6L150.6 630.1L150.7 622.2L150.8 640.6L150.9 639.6L151.0 633.7L151.1 638.3L151.2 634.6L151.3 640.2L151.4 627.2L151.5 632.1L151.6 635.4L151.7 654.0L151.7 641.2L151.8 635.1L151.9 629.8L152.0 641.3L152.1 631.0L152.2 629.1L152.3 641.4L152.4 630.5L152.5 638.3L152.6 646.2L152.7 637.5L152.8 626.5L152.9 634.3L153.0 637.5L153.1 631.0L153.2 632.2L153.3 636.6L153.4 653.6L153.5 659.5L153.5 652.3L153.6 625.6L153.7 633.7L153.8 652.4L153.9 633.5L154.0 651.7L154.1 638.9L154.2 633.1L154.3 641.9L154.4 634.6L154.5 634.3L154.6 655.3L154.7 642.5L154.8 638.2L154.9 646.5L155.0 653.6L155.1 631.1L155.2 641.0L155.3 648.0L155.3 650.7L155.4 644.2L155.5 634.5L155.6 648.1L155.7 640.3L155.8 642.1L155.9 646.4L156.0 644.7L156.1 644.4L156.2 652.6L156.3 656.7L156.4 640.0L156.5 634.3L156.6 641.3L156.7 652.7L156.8 645.9L156.9 650.5L157.0 657.4L157.0 654.6L157.1 651.3L157.2 642.8L157.3 656.1L157.4 638.5L157.5 647.3L157.6 638.4L157.7 640.2L157.8 646.6L157.9 647.3L158.0 646.0L158.1 646.2L158.2 643.2L158.3 634.7L158.4 644.1L158.5 637.0L158.6 642.0L158.7 652.2L158.8 645.8L158.8 644.9L158.9 643.3L159.0 653.1L159.1 642.1L159.2 655.1L159.3 652.1L159.4 646.0L159.5 649.9L159.6 657.9L159.7 661.3L159.8 655.7L159.9 657.2L160.0 635.8L160.1 660.2L160.2 663.2L160.3 635.9L160.4 665.4L160.5 657.3L160.6 649.2L160.6 653.0L160.7 650.9L160.8 641.6L160.9 635.8L161.0 651.8L161.1 650.8L161.2 656.0L161.3 657.7L161.4 657.0L161.5 652.1L161.6 657.4L161.7 651.5L161.8 657.0L161.9 661.3L162.0 655.2L162.1 653.7L162.2 654.2L162.3 651.1L162.4 641.9L162.4 646.2L162.5 632.5L162.6 627.8L162.7 619.9L162.8 611.1L162.9 602.8L163.0 596.0L163.1 590.4L163.2 588.5L163.3 591.0L163.4 596.3L163.5 603.6L163.6 612.9L163.7 621.0L163.8 629.8L163.9 638.6L164.0 645.2L164.1 650.1L164.1 646.0L164.2 650.6L164.3 654.2L164.4 655.1L164.5 669.5L164.6 663.0L164.7 650.9L164.8 668.1L164.9 649.4L165.0 661.4L165.1 668.0L165.2 655.0L165.3 655.5L165.4 666.1L165.5 665.7L165.6 668.0L165.7 666.5L165.8 679.1L165.9 667.4L165.9 653.3L166.0 666.5L166.1 660.1L166.2 657.1L166.3 662.1L166.4 667.0L166.5 667.6L166.6 667.8L166.7 661.6L166.8 666.9L166.9 658.8L167.0 651.5L167.1 660.9L167.2 675.0L167.3 662.4L167.4 666.4L167.5 668.0L167.6 670.6L167.7 667.3L167.7 642.3L167.8 643.1L167.9 653.1L168.0 672.4L168.1 664.7L168.2 658.3L168.3 668.6L168.4 661.8L168.5 658.4L168.6 655.3L168.7 663.4L168.8 664.2L168.9 668.5L169.0 669.3L169.1 666.0L169.2 668.0L169.3 661.6L169.4 665.0L169.5 669.0L169.5 656.9L169.6 669.9L169.7 663.3L169.8 664.2L169.9 672.0L170.0 668.0L170.1 666.3L170.2 672.1L170.3 677.5L170.4 649.5L170.5 672.9L170.6 670.7L170.7 670.3L170.8 668.7L170.9 662.5L171.0 663.0L171.1 673.0L171.2 666.3L171.2 664.2L171.3 670.3L171.4 661.1L171.5 667.2L171.6 662.6L171.7 676.4L171.8 656.6L171.9 670.3L172.0 676.2L172.1 675.4L172.2 674.6L172.3 666.9L172.4 685.1L172.5 676.0L172.6 661.5L172.7 660.5L172.8 676.7L172.9 668.2L173.0 667.6L173.0 670.8L173.1 673.2L173.2 663.5L173.3 671.1L173.4 667.8L173.5 663.7L173.6 675.9L173.7 675.8L173.8 653.8L173.9 676.5L174.0 661.6L174.1 661.3L174.2 668.9L174.3 671.9L174.4 670.3L174.5 675.0L174.6 669.8L174.7 671.5L174.8 673.8L174.8 672.7L174.9 664.4L175.0 670.2L175.1 671.8L175.2 657.1L175.3 670.6L175.4 666.2L175.5 676.6L175.6 677.8L175.7 667.1L175.8 663.7L175.9 690.8L176.0 665.2L176.1 664.1L176.2 668.8L176.3 663.9L176.4 674.8L176.5 664.0L176.6 673.3L176.6 666.3L176.7 666.1L176.8 661.9L176.9 669.8L177.0 660.1L177.1 659.4L177.2 655.2L177.3 665.0L177.4 659.6L177.5 667.2L177.6 661.2L177.7 669.8L177.8 674.1L177.9 672.0L178.0 658.3L178.1 659.9L178.2 670.2L178.3 670.6L178.3 669.3L178.4 682.5L178.5 659.1L178.6 679.3L178.7 681.3L178.8 674.4L178.9 679.9L179.0 671.2L179.1 669.0L179.2 675.7L179.3 672.4L179.4 677.7L179.5 685.0L179.6 682.1L179.7 660.1L179.8 674.3L179.9 686.0L180.0 681.1L180.1 679.2L180.1 668.3L180.2 672.4L180.3 663.3L180.4 660.0L180.5 668.4L180.6 668.4L180.7 663.0L180.8 673.1L180.9 670.7L181.0 676.7L181.1 659.8L181.2 662.7L181.3 653.8L181.4 647.2L181.5 640.4L181.6 631.9L181.7 623.8L181.8 616.7L181.9 611.3L181.9 610.0L182.0 611.5L182.1 616.7L182.2 623.9L182.3 632.8L182.4 641.1L182.5 648.4L182.6 658.6L182.7 660.4L182.8 659.8L182.9 677.7L183.0 678.1L183.1 666.7L183.2 682.3L183.3 669.0L183.4 667.3L183.5 675.4L183.6 676.6L183.7 676.6L183.7 681.0L183.8 671.3L183.9 672.0L184.0 676.9L184.1 674.9L184.2 686.1L184.3 683.1L184.4 691.0L184.5 680.4L184.6 670.5L184.7 674.3L184.8 679.4L184.9 678.5L185.0 678.5L185.1 668.9L185.2 683.8L185.3 668.2L185.4 673.1L185.4 686.8L185.5 673.2L185.6 672.8L185.7 680.8L185.8 666.5L185.9 684.1L186.0 681.7L186.1 677.9L186.2 676.2L186.3 680.9L186.4 673.8L186.5 684.1L186.6 676.7L186.7 681.2L186.8 680.2L186.9 686.9L187.0 681.3L187.1 690.7L187.2 690.3L187.2 681.8L187.3 675.4L187.4 687.7L187.5 677.7L187.6 666.0L187.7 676.9L187.8 676.2L187.9 680.8L188.0 692.1L188.1 681.6L188.2 678.1L188.3 685.9L188.4 677.5L188.5 684.0L188.6 674.2L188.7 679.7L188.8 679.2L188.9 678.6L189.0 682.5L189.0 671.2L189.1 689.0L189.2 687.2L189.3 682.1L189.4 681.0L189.5 690.6L189.6 675.4L189.7 683.2L189.8 677.6L189.9 685.6L190.0 685.2L190.1 680.0L190.2 684.7L190.3 686.1L190.4 679.7L190.5 676.5L190.6 682.9L190.7 678.4L190.8 685.9L190.8 677.5L190.9 684.8L191.0 675.9L191.1 682.7L191.2 672.7L191.3 666.8L191.4 667.6L191.5 668.1L191.6 659.2L191.7 657.8L191.8 656.0L191.9 654.5L192.0 655.8L192.1 657.8L192.2 660.9L192.3 660.5L192.4 663.1L192.5 679.7L192.5 672.5L192.6 683.9L192.7 679.7L192.8 681.9L192.9 682.7L193.0 690.2L193.1 678.7L193.2 677.8L193.3 678.0L193.4 670.9L193.5 683.8L193.6 687.8L193.7 680.4L193.8 695.9L193.9 679.3L194.0 682.2L194.1 679.1L194.2 678.0L194.3 676.8L194.3 671.1L194.4 680.8L194.5 680.1L194.6 677.0L194.7 681.2L194.8 672.8L194.9 682.1L195.0 670.8L195.1 678.7L195.2 691.1L195.3 685.3L195.4 674.1L195.5 692.0L195.6 688.8L195.7 693.1L195.8 680.1L195.9 672.0L196.0 668.9L196.1 669.8L196.1 666.0L196.2 659.2L196.3 654.4L196.4 649.9L196.5 647.0L196.6 645.7L196.7 647.2L196.8 650.2L196.9 654.7L197.0 659.8L197.1 664.4L197.2 674.3L197.3 680.0L197.4 690.0L197.5 679.8L197.6 677.0L197.7 680.7L197.8 674.2L197.9 684.2L197.9 691.1L198.0 683.4L198.1 684.5L198.2 684.6L198.3 678.7L198.4 690.9L198.5 690.4L198.6 685.4L198.7 677.2L198.8 689.2L198.9 675.6L199.0 674.9L199.1 685.6L199.2 686.9L199.3 683.4L199.4 692.7L199.5 673.3L199.6 682.1L199.6 676.5L199.7 687.8L199.8 682.9L199.9 685.4L200.0 674.4L200.1 691.4L200.2 677.0L200.3 684.0L200.4 683.8L200.5 693.4L200.6 681.7L200.7 680.4L200.8 672.7L200.9 671.2L201.0 664.4L201.1 657.1L201.2 649.4L201.3 641.3L201.4 633.5L201.4 627.3L201.5 624.0L201.6 624.1L201.7 627.3L201.8 633.8L201.9 642.0L202.0 649.7L202.1 657.6L202.2 664.6L202.3 668.8L202.4 682.5L202.5 682.9L202.6 680.6L202.7 681.5L202.8 683.2L202.9 690.5L203.0 686.5L203.1 683.9L203.2 676.2L203.2 670.0L203.3 686.7L203.4 678.8L203.5 683.3L203.6 675.3L203.7 679.2L203.8 679.2L203.9 682.2L204.0 688.1L204.1 689.9L204.2 688.5L204.3 682.0L204.4 676.3L204.5 682.8L204.6 691.0L204.7 680.3L204.8 688.1L204.9 690.1L205.0 690.1L205.0 696.5L205.1 699.8L205.2 695.2L205.3 692.2L205.4 689.9L205.5 698.6L205.6 692.3L205.7 702.0L205.8 683.2L205.9 694.5L206.0 697.5L206.1 687.0L206.2 690.9L206.3 697.4L206.4 680.5L206.5 696.1L206.6 688.2L206.7 694.4L206.7 686.1L206.8 686.0L206.9 694.9L207.0 695.0L207.1 683.3L207.2 688.8L207.3 684.4L207.4 687.6L207.5 682.7L207.6 685.1L207.7 691.0L207.8 677.3L207.9 685.5L208.0 682.4L208.1 678.6L208.2 672.4L208.3 669.8L208.4 662.5L208.5 654.3L208.5 645.5L208.6 636.9L208.7 629.5L208.8 623.7L208.9 621.5L209.0 623.7L209.1 629.3L209.2 637.0L209.3 645.8L209.4 654.9L209.5 663.2L209.6 670.1L209.7 673.8L209.8 679.4L209.9 683.3L210.0 696.1L210.1 698.3L210.2 689.5L210.3 694.0L210.3 694.6L210.4 690.3L210.5 687.8L210.6 675.5L210.7 698.1L210.8 691.7L210.9 679.0L211.0 697.8L211.1 689.9L211.2 700.0L211.3 686.3L211.4 698.1L211.5 690.2L211.6 688.9L211.7 696.4L211.8 702.2L211.9 698.3L212.0 692.2L212.1 689.4L212.1 687.6L212.2 697.0L212.3 683.0L212.4 687.9L212.5 690.5L212.6 694.1L212.7 696.4L212.8 703.9L212.9 694.7L213.0 692.5L213.1 683.5L213.2 688.8L213.3 700.8L213.4 690.6L213.5 701.2L213.6 682.7L213.7 679.8L213.8 693.1L213.8 698.6L213.9 687.4L214.0 692.9L214.1 692.4L214.2 694.0L214.3 699.6L214.4 691.8L214.5 688.4L214.6 694.5L214.7 697.7L214.8 698.0L214.9 691.6L215.0 689.9L215.1 697.6L215.2 703.3L215.3 693.7L215.4 698.0L215.5 695.0L215.6 684.6L215.6 688.1L215.7 707.7L215.8 701.6L215.9 696.0L216.0 706.1L216.1 707.8L216.2 698.6L216.3 699.1L216.4 698.2L216.5 694.7L216.6 700.2L216.7 697.1L216.8 696.3L216.9 688.8L217.0 705.3L217.1 689.6L217.2 699.3L217.3 693.3L217.4 682.7L217.4 679.0L217.5 675.0L217.6 670.9L217.7 667.1L217.8 664.7L217.9 663.7L218.0 664.4L218.1 667.7L218.2 671.2L218.3 675.6L218.4 682.4L218.5 685.0L218.6 688.1L218.7 703.6L218.8 704.4L218.9 693.5L219.0 694.9L219.1 685.4L219.2 694.7L219.2 685.2L219.3 691.9L219.4 693.7L219.5 687.0L219.6 689.0L219.7 688.3L219.8 699.2L219.9 688.2L220.0 692.2L220.1 691.9L220.2 692.3L220.3 686.3L220.4 697.5L220.5 698.7L220.6 692.9L220.7 692.2L220.8 697.1L220.9 700.9L220.9 702.1L221.0 703.1L221.1 703.6L221.2 694.6L221.3 702.5L221.4 696.1L221.5 704.4L221.6 694.2L221.7 700.2L221.8 691.9L221.9 696.4L222.0 697.7L222.1 703.5L222.2 702.9L222.3 702.0L222.4 701.2L222.5 704.2L222.6 696.8L222.7 696.5L222.7 701.6L222.8 690.8L222.9 700.2L223.0 708.6L223.1 701.6L223.2 699.8L223.3 702.2L223.4 698.8L223.5 705.6L223.6 700.9L223.7 700.3L223.8 697.2L223.9 701.0L224.0 700.8L224.1 695.7L224.2 692.2L224.3 693.6L224.4 692.3L224.5 696.6L224.5 685.6L224.6 698.5L224.7 680.7L224.8 697.5L224.9 690.2L225.0 701.5L225.1 696.9L225.2 699.0L225.3 702.1L225.4 707.4L225.5 703.0L225.6 708.5L225.7 691.9L225.8 705.7L225.9 690.0L226.0 701.2L226.1 709.9L226.2 688.7L226.3 693.2L226.3 701.6L226.4 702.5L226.5 702.6L226.6 692.8L226.7 706.3L226.8 701.1L226.9 691.7L227.0 685.6L227.1 699.3L227.2 697.0L227.3 695.6L227.4 686.1L227.5 686.5L227.6 679.2L227.7 671.7L227.8 662.5L227.9 652.0L228.0 640.8L228.0 629.3L228.1 619.3L228.2 612.2L228.3 609.6L228.4 612.2L228.5 619.4L228.6 629.2L228.7 640.8L228.8 651.8L228.9 662.6L229.0 671.7L229.1 679.1L229.2 685.8L229.3 686.8L229.4 689.0L229.5 693.0L229.6 695.3L229.7 715.2L229.8 699.7L229.8 694.8L229.9 696.6L230.0 718.7L230.1 695.0L230.2 693.5L230.3 703.0L230.4 704.4L230.5 698.4L230.6 704.4L230.7 703.9L230.8 704.2L230.9 689.4L231.0 694.2L231.1 695.9L231.2 696.7L231.3 689.4L231.4 693.2L231.5 693.2L231.6 693.4L231.6 695.5L231.7 693.1L231.8 690.4L231.9 703.0L232.0 701.5L232.1 694.1L232.2 700.1L232.3 695.0L232.4 687.3L232.5 689.8L232.6 686.3L232.7 684.5L232.8 682.8L232.9 680.7L233.0 676.8L233.1 672.9L233.2 668.3L233.3 663.2L233.4 658.3L233.4 652.9L233.5 648.0L233.6 643.0L233.7 639.0L233.8 635.7L233.9 633.9L234.0 633.2L234.1 633.2L234.2 634.9L234.3 638.1L234.4 641.8L234.5 646.2L234.6 650.2L234.7 655.3L234.8 659.5L234.9 663.6L235.0 667.3L235.1 670.0L235.1 671.8L235.2 672.1L235.3 670.7L235.4 667.2L235.5 661.5L235.6 652.0L235.7 638.8L235.8 622.1L235.9 602.5L236.0 581.6L236.1 559.8L236.2 540.8L236.3 527.9L236.4 523.3L236.5 528.7L236.6 541.8L236.7 561.5L236.8 583.8L236.9 606.1L236.9 626.4L237.0 644.0L237.1 658.7L237.2 670.1L237.3 678.2L237.4 684.9L237.5 688.8L237.6 692.3L237.7 697.7L237.8 689.3L237.9 701.6L238.0 689.8L238.1 701.6L238.2 698.8L238.3 697.9L238.4 695.8L238.5 703.4L238.6 688.2L238.7 698.1L238.7 688.4L238.8 691.2L238.9 693.3L239.0 693.0L239.1 686.9L239.2 683.9L239.3 680.5L239.4 676.5L239.5 673.0L239.6 670.6L239.7 670.0L239.8 671.0L239.9 673.7L240.0 677.5L240.1 681.2L240.2 685.3L240.3 690.0L240.4 688.4L240.5 691.5L240.5 705.8L240.6 711.8L240.7 699.8L240.8 704.3L240.9 696.6L241.0 709.0L241.1 699.0L241.2 699.6L241.3 709.3L241.4 691.2L241.5 707.6L241.6 702.9L241.7 706.2L241.8 706.0L241.9 709.0L242.0 708.0L242.1 701.6L242.2 713.3L242.2 704.9L242.3 704.1L242.4 703.8L242.5 704.2L242.6 693.3L242.7 704.1L242.8 704.9L242.9 708.3L243.0 696.7L243.1 697.0L243.2 709.6L243.3 709.9L243.4 709.9L243.5 698.6L243.6 702.7L243.7 699.8L243.8 709.1L243.9 703.8L244.0 703.2L244.0 696.8L244.1 706.8L244.2 716.2L244.3 701.5L244.4 693.2L244.5 688.9L244.6 697.1L244.7 686.7L244.8 681.3L244.9 674.7L245.0 667.6L245.1 660.3L245.2 654.0L245.3 649.4L245.4 648.2L245.5 649.4L245.6 654.2L245.7 660.7L245.8 667.6L245.8 675.1L245.9 681.7L246.0 687.2L246.1 693.4L246.2 696.9L246.3 689.7L246.4 706.4L246.5 699.7L246.6 696.4L246.7 699.9L246.8 697.2L246.9 709.2L247.0 700.3L247.1 698.8L247.2 714.3L247.3 702.8L247.4 707.9L247.5 709.0L247.6 701.1L247.6 703.5L247.7 697.7L247.8 702.2L247.9 713.5L248.0 705.7L248.1 699.0L248.2 695.7L248.3 699.3L248.4 693.8L248.5 696.2L248.6 690.7L248.7 693.6L248.8 694.1L248.9 706.3L249.0 698.6L249.1 699.8L249.2 706.3L249.3 706.7L249.3 700.5L249.4 708.4L249.5 704.0L249.6 716.1L249.7 701.0L249.8 713.9L249.9 711.7L250.0 700.1L250.1 700.3L250.2 697.3L250.3 690.0L250.4 686.0L250.5 681.2L250.6 677.1L250.7 673.5L250.8 671.8L250.9 671.3L251.0 672.5L251.1 675.7L251.1 679.5L251.2 683.0L251.3 685.9L251.4 687.6L251.5 688.5L251.6 686.7L251.7 683.4L251.8 678.1L251.9 670.6L252.0 662.1L252.1 651.5L252.2 641.6L252.3 632.6L252.4 626.8L252.5 624.4L252.6 627.0L252.7 633.3L252.8 643.0L252.9 653.0L252.9 663.9L253.0 673.5L253.1 682.2L253.2 689.1L253.3 694.3L253.4 695.1L253.5 698.3L253.6 707.4L253.7 707.6L253.8 702.8L253.9 712.3L254.0 703.9L254.1 710.0L254.2 700.8L254.3 702.3L254.4 700.7L254.5 702.0L254.6 695.3L254.7 697.3L254.7 692.5L254.8 697.4L254.9 695.6L255.0 699.8L255.1 695.3L255.2 699.9L255.3 701.5L255.4 710.9L255.5 708.9L255.6 715.0L255.7 714.1L255.8 702.7L255.9 716.4L256.0 708.5L256.1 705.5L256.2 706.9L256.3 701.8L256.4 719.6L256.4 705.2L256.5 701.7L256.6 716.3L256.7 711.2L256.8 712.6L256.9 715.1L257.0 707.3L257.1 715.5L257.2 709.8L257.3 708.6L257.4 719.5L257.5 715.4L257.6 712.0L257.7 702.9L257.8 709.8L257.9 707.5L258.0 717.1L258.1 695.3L258.2 705.1L258.2 702.1L258.3 699.0L258.4 702.8L258.5 708.6L258.6 710.4L258.7 699.0L258.8 715.8L258.9 702.8L259.0 699.0L259.1 712.4L259.2 712.5L259.3 706.9L259.4 707.6L259.5 709.5L259.6 695.4L259.7 712.8L259.8 703.5L259.9 696.4L260.0 709.0L260.0 713.8L260.1 697.1L260.2 711.0L260.3 701.6L260.4 715.0L260.5 704.7L260.6 713.1L260.7 706.1L260.8 700.2L260.9 693.3L261.0 687.6L261.1 681.6L261.2 675.9L261.3 670.9L261.4 667.5L261.5 665.7L261.6 667.1L261.7 670.8L261.8 675.9L261.8 681.9L261.9 687.8L262.0 693.4L262.1 695.7L262.2 702.0L262.3 708.2L262.4 711.9L262.5 710.3L262.6 708.6L262.7 720.3L262.8 713.0L262.9 710.3L263.0 704.4L263.1 714.5L263.2 714.8L263.3 715.3L263.4 706.4L263.5 723.1L263.5 709.7L263.6 720.7L263.7 715.1L263.8 708.1L263.9 715.6L264.0 713.9L264.1 719.0L264.2 722.6L264.3 706.4L264.4 715.4L264.5 712.9L264.6 716.4L264.7 714.5L264.8 713.4L264.9 711.1L265.0 718.0L265.1 713.7L265.2 707.2L265.3 707.1L265.3 703.5L265.4 703.5L265.5 701.2L265.6 704.2L265.7 713.6L265.8 712.9L265.9 707.9L266.0 698.1L266.1 717.5L266.2 724.6L266.3 710.9L266.4 702.0L266.5 718.4L266.6 715.9L266.7 715.9L266.8 707.5L266.9 725.1L267.0 710.3L267.1 714.3L267.1 714.6L267.2 715.2L267.3 710.2L267.4 707.9L267.5 720.1L267.6 713.2L267.7 706.4L267.8 716.0L267.9 703.9L268.0 703.5L268.1 706.1L268.2 710.4L268.3 708.2L268.4 706.8L268.5 704.2L268.6 706.5L268.7 707.7L268.8 705.4L268.9 710.3L268.9 712.1L269.0 711.8L269.1 711.2L269.2 714.8L269.3 716.5L269.4 712.8L269.5 709.0L269.6 713.8L269.7 706.4L269.8 703.7L269.9 700.9L270.0 696.6L270.1 694.6L270.2 693.7L270.3 693.1L270.4 694.6L270.5 697.4L270.6 699.2L270.6 702.0L270.7 705.9L270.8 705.2L270.9 713.3L271.0 707.2L271.1 717.5L271.2 714.1L271.3 716.8L271.4 715.3L271.5 716.8L271.6 721.0L271.7 713.5L271.8 715.7L271.9 711.4L272.0 718.3L272.1 707.4L272.2 716.4L272.3 716.8L272.4 714.8L272.4 707.7L272.5 714.0L272.6 716.2L272.7 714.8L272.8 720.9L272.9 717.7L273.0 714.7L273.1 718.6L273.2 725.0L273.3 709.5L273.4 717.2L273.5 725.4L273.6 720.6L273.7 697.5L273.8 712.4L273.9 716.8L274.0 717.4L274.1 714.0L274.2 708.1L274.2 704.7L274.3 705.7L274.4 708.2L274.5 709.0L274.6 711.2L274.7 714.1L274.8 711.3L274.9 718.1L275.0 714.1L275.1 730.7L275.2 727.6L275.3 715.9L275.4 719.8L275.5 726.8L275.6 710.3L275.7 708.3L275.8 719.3L275.9 718.2L276.0 723.9L276.0 728.8L276.1 720.9L276.2 724.2L276.3 720.3L276.4 721.5L276.5 722.6L276.6 720.1L276.7 712.5L276.8 725.9L276.9 719.9L277.0 713.8L277.1 717.7L277.2 719.6L277.3 721.5L277.4 724.9L277.5 723.9L277.6 715.7L277.7 722.1L277.7 712.4L277.8 714.4L277.9 717.1L278.0 714.3L278.1 720.3L278.2 710.0L278.3 721.6L278.4 715.7L278.5 718.5L278.6 718.9L278.7 722.6L278.8 718.1L278.9 723.0L279.0 713.6L279.1 718.5L279.2 715.3L279.3 720.3L279.4 718.4L279.5 717.6L279.5 720.1L279.6 716.4L279.7 720.6L279.8 716.1L279.9 709.1L280.0 712.7L280.1 711.4L280.2 704.6L280.3 702.3L280.4 703.2L280.5 703.6L280.6 705.2L280.7 705.3L280.8 712.4L280.9 711.9L281.0 714.2L281.1 707.7L281.2 716.5L281.3 720.6L281.3 724.1L281.4 725.3L281.5 730.0L281.6 727.4L281.7 723.9L281.8 721.4L281.9 725.9L282.0 718.5L282.1 722.4L282.2 720.9L282.3 711.0L282.4 724.2L282.5 719.8L282.6 716.2L282.7 726.0L282.8 724.6L282.9 721.6L283.0 721.9L283.1 720.7L283.1 720.9L283.2 718.5L283.3 724.2L283.4 726.3L283.5 721.7L283.6 718.6L283.7 726.5L283.8 720.3L283.9 721.6L284.0 722.9L284.1 723.0L284.2 719.2L284.3 719.8L284.4 719.1L284.5 723.5L284.6 720.8L284.7 720.1L284.8 721.0L284.8 726.5L284.9 716.0L285.0 716.4L285.1 721.4L285.2 714.9L285.3 725.3L285.4 720.0L285.5 724.3L285.6 727.6L285.7 716.9L285.8 716.9L285.9 712.6L286.0 707.1L286.1 704.3L286.2 701.0L286.3 696.9L286.4 693.4L286.5 691.0L286.6 690.3L286.6 691.0L286.7 693.6L286.8 696.8L286.9 701.3L287.0 704.6L287.1 707.0L287.2 713.2L287.3 708.4L287.4 710.7L287.5 710.7L287.6 712.2L287.7 719.0L287.8 726.9L287.9 715.7L288.0 718.3L288.1 729.2L288.2 729.4L288.3 726.5L288.4 725.0L288.4 726.7L288.5 728.1L288.6 727.2L288.7 721.9L288.8 720.4L288.9 726.5L289.0 720.6L289.1 728.7L289.2 733.0L289.3 722.8L289.4 725.8L289.5 726.9L289.6 724.6L289.7 719.2L289.8 717.9L289.9 723.5L290.0 723.9L290.1 717.4L290.2 721.8L290.2 725.2L290.3 726.9L290.4 726.0L290.5 725.7L290.6 725.1L290.7 728.7L290.8 717.1L290.9 712.7L291.0 723.7L291.1 727.8L291.2 720.7L291.3 734.9L291.4 729.0L291.5 725.4L291.6 720.0L291.7 718.3L291.8 722.7L291.9 718.9L291.9 726.4L292.0 725.8L292.1 723.7L292.2 718.6L292.3 722.1L292.4 716.3L292.5 725.4L292.6 717.7L292.7 714.2L292.8 718.8L292.9 710.4L293.0 710.1L293.1 705.9L293.2 700.7L293.3 695.5L293.4 689.9L293.5 685.7L293.6 682.1L293.7 680.8L293.7 682.4L293.8 685.2L293.9 690.2L294.0 695.4L294.1 701.1L294.2 705.9L294.3 709.1L294.4 712.5L294.5 722.1L294.6 716.0L294.7 727.8L294.8 719.7L294.9 720.8L295.0 723.6L295.1 722.8L295.2 727.4L295.3 717.4L295.4 723.9L295.5 717.7L295.5 713.7L295.6 719.0L295.7 717.3L295.8 728.0L295.9 729.2L296.0 720.5L296.1 729.4L296.2 718.2L296.3 725.3L296.4 715.0L296.5 722.9L296.6 722.8L296.7 713.7L296.8 719.2L296.9 720.4L297.0 719.1L297.1 727.2L297.2 730.6L297.3 715.8L297.3 727.3L297.4 724.7L297.5 730.3L297.6 721.1L297.7 733.2L297.8 724.7L297.9 721.0L298.0 719.9L298.1 719.8L298.2 726.0L298.3 722.2L298.4 727.9L298.5 720.4L298.6 716.9L298.7 722.7L298.8 716.1L298.9 719.1L299.0 721.5L299.0 718.8L299.1 721.0L299.2 721.9L299.3 722.7L299.4 711.0L299.5 725.4L299.6 723.2L299.7 717.7L299.8 726.3L299.9 723.4L300.0 718.4L300.1 722.7L300.2 719.2L300.3 719.0L300.4 715.5L300.5 712.0L300.6 707.6L300.7 703.4L300.8 699.9L300.8 697.0L300.9 695.5L301.0 695.5L301.1 697.1L301.2 700.3L301.3 703.5L301.4 707.6L301.5 712.7L301.6 715.7L301.7 718.4L301.8 718.3L301.9 723.3L302.0 718.3L302.1 726.9L302.2 721.2L302.3 727.1L302.4 726.7L302.5 722.1L302.6 723.7L302.6 726.4L302.7 723.3L302.8 727.7L302.9 730.4L303.0 721.1L303.1 725.9L303.2 735.6L303.3 725.3L303.4 726.9L303.5 721.1L303.6 724.2L303.7 717.9L303.8 719.4L303.9 731.9L304.0 714.3L304.1 721.7L304.2 722.3L304.3 717.8L304.4 728.6L304.4 726.3L304.5 731.2L304.6 720.4L304.7 722.1L304.8 721.3L304.9 734.8L305.0 736.3L305.1 724.8L305.2 717.1L305.3 723.4L305.4 726.6L305.5 726.5L305.6 733.3L305.7 721.3L305.8 728.0L305.9 728.9L306.0 727.4L306.1 730.2L306.1 733.4L306.2 729.6L306.3 725.9L306.4 729.9L306.5 729.5L306.6 721.5L306.7 722.3L306.8 727.1L306.9 726.1L307.0 714.7L307.1 738.1L307.2 712.8L307.3 723.6L307.4 728.9L307.5 730.0L307.6 731.8L307.7 730.9L307.8 728.5L307.9 721.0L307.9 723.5L308.0 727.3L308.1 720.4L308.2 730.5L308.3 723.4L308.4 728.0L308.5 722.0L308.6 733.0L308.7 730.8L308.8 720.3L308.9 728.7L309.0 724.3L309.1 725.9L309.2 724.3L309.3 736.0L309.4 734.4L309.5 738.3L309.6 728.2L309.7 738.6L309.7 724.8L309.8 734.0L309.9 733.4L310.0 726.4L310.1 720.4L310.2 726.5L310.3 730.5L310.4 721.3L310.5 729.7L310.6 730.9L310.7 733.2L310.8 731.1L310.9 725.0L311.0 733.2L311.1 727.4L311.2 733.7L311.3 726.1L311.4 736.3L311.5 727.7L311.5 724.8L311.6 736.0L311.7 730.2L311.8 731.2L311.9 726.7L312.0 721.0L312.1 726.6L312.2 728.9L312.3 710.5L312.4 724.0L312.5 724.5L312.6 723.9L312.7 721.1L312.8 730.7L312.9 726.6L313.0 727.9L313.1 724.8L313.2 732.1L313.2 731.7L313.3 733.9L313.4 725.1L313.5 729.1L313.6 721.7L313.7 733.2L313.8 719.6L313.9 733.3L314.0 728.3L314.1 723.2L314.2 731.7L314.3 725.5L314.4 722.0L314.5 740.3L314.6 735.0L314.7 729.1L314.8 730.2L314.9 727.3L315.0 725.8L315.0 737.5L315.1 725.1L315.2 726.6L315.3 732.3L315.4 726.0L315.5 724.3L315.6 730.2L315.7 730.4L315.8 725.5L315.9 725.2L316.0 718.1L316.1 729.9L316.2 730.1L316.3 727.8L316.4 718.5L316.5 721.7L316.6 716.5L316.7 731.9L316.8 730.0L316.8 727.5L316.9 722.5L317.0 732.7L317.1 727.3L317.2 727.7L317.3 728.5L317.4 727.8L317.5 723.6L317.6 721.3L317.7 727.0L317.8 719.1L317.9 718.6L318.0 718.6L318.1 720.5L318.2 715.6L318.3 717.9L318.4 717.2L318.5 714.3L318.6 715.2L318.6 716.9L318.7 718.8L318.8 717.3L318.9 721.6L319.0 720.7L319.1 731.6L319.2 736.0L319.3 727.8L319.4 729.2L319.5 732.7L319.6 725.1L319.7 731.9L319.8 725.2L319.9 720.6L320.0 731.0L320.1 729.4L320.2 730.9L320.3 738.6L320.3 730.2L320.4 731.2L320.5 730.0L320.6 730.2L320.7 728.9L320.8 720.6L320.9 723.7L321.0 726.3L321.1 716.2L321.2 714.3L321.3 712.2L321.4 710.2L321.5 708.5L321.6 707.8L321.7 708.5L321.8 710.2L321.9 712.5L322.0 714.3L322.1 713.4L322.1 719.5L322.2 720.4L322.3 731.4L322.4 728.0L322.5 730.7L322.6 733.0L322.7 737.3L322.8 722.4L322.9 722.4L323.0 727.7L323.1 731.8L323.2 730.5L323.3 726.0L323.4 729.8L323.5 735.5L323.6 730.8L323.7 733.9L323.8 730.0L323.9 730.5L323.9 726.7L324.0 727.1L324.1 732.5L324.2 729.4L324.3 731.5L324.4 723.5L324.5 726.5L324.6 728.7L324.7 729.7L324.8 734.2L324.9 733.0L325.0 735.8L325.1 724.0L325.2 723.8L325.3 725.1L325.4 731.9L325.5 738.6L325.6 722.7L325.7 725.9L325.7 726.9L325.8 725.8L325.9 719.1L326.0 720.4L326.1 717.7L326.2 722.7L326.3 718.8L326.4 722.6L326.5 721.6L326.6 721.6L326.7 720.1L326.8 730.0L326.9 728.8L327.0 726.2L327.1 733.0L327.2 729.6L327.3 733.8L327.4 736.0L327.4 725.8L327.5 733.5L327.6 733.0L327.7 729.6L327.8 732.0L327.9 735.0L328.0 719.6L328.1 726.6L328.2 733.6L328.3 729.5L328.4 739.5L328.5 738.5L328.6 727.5L328.7 728.4L328.8 730.6L328.9 732.3L329.0 730.4L329.1 733.4L329.2 728.9L329.2 727.7L329.3 735.0L329.4 728.8L329.5 732.5L329.6 733.3L329.7 734.4L329.8 729.8L329.9 733.7L330.0 731.6L330.1 732.5L330.2 738.3L330.3 738.9L330.4 727.7L330.5 734.5L330.6 729.9L330.7 734.0L330.8 729.8L330.9 733.1L331.0 731.0L331.0 731.1L331.1 728.4L331.2 727.6L331.3 725.1L331.4 738.7L331.5 728.6L331.6 738.6L331.7 734.8L331.8 735.0L331.9 729.8L332.0 727.3L332.1 732.6L332.2 727.7L332.3 732.2L332.4 729.9L332.5 735.0L332.6 731.1L332.7 733.1L332.8 740.7L332.8 728.7L332.9 726.9L333.0 740.3L333.1 729.8L333.2 728.0L333.3 723.8L333.4 732.0L333.5 724.3L333.6 727.4L333.7 722.8L333.8 731.0L333.9 735.3L334.0 729.7L334.1 731.2L334.2 736.9L334.3 735.8L334.4 730.3L334.5 732.2L334.5 730.1L334.6 727.6L334.7 734.9L334.8 738.2L334.9 739.0L335.0 732.6L335.1 730.3L335.2 734.1L335.3 733.0L335.4 736.8L335.5 742.8L335.6 736.3L335.7 727.3L335.8 726.2L335.9 729.4L336.0 723.9L336.1 719.4L336.2 721.4L336.3 722.3L336.3 717.0L336.4 726.5L336.5 725.6L336.6 723.9L336.7 737.4L336.8 735.4L336.9 730.7L337.0 723.1L337.1 729.3L337.2 732.7L337.3 730.9L337.4 735.1L337.5 735.9L337.6 736.8L337.7 726.6L337.8 733.9L337.9 732.2L338.0 739.9L338.1 736.3L338.1 737.4L338.2 732.5L338.3 731.9L338.4 736.4L338.5 733.5L338.6 733.9L338.7 739.5L338.8 736.8L338.9 732.8L339.0 728.1L339.1 736.3L339.2 738.2L339.3 730.5L339.4 734.0L339.5 727.8L339.6 735.9L339.7 728.1L339.8 730.8L339.9 737.4L339.9 731.4L340.0 733.4L340.1 733.4L340.2 728.3L340.3 743.3L340.4 739.7L340.5 734.5L340.6 739.3L340.7 734.9L340.8 738.6L340.9 730.4L341.0 740.3L341.1 732.5L341.2 731.4L341.3 733.8L341.4 728.7L341.5 737.7L341.6 738.0L341.6 735.0L341.7 740.8L341.8 725.0L341.9 736.8L342.0 735.2L342.1 739.3L342.2 741.8L342.3 731.0L342.4 735.7L342.5 737.5L342.6 726.8L342.7 733.0L342.8 730.4L342.9 739.5L343.0 726.5L343.1 735.7L343.2 733.8L343.3 732.7L343.4 738.3L343.4 735.1L343.5 732.2L343.6 737.7L343.7 731.2L343.8 728.6L343.9 740.9L344.0 733.1L344.1 740.7L344.2 734.0L344.3 734.7L344.4 728.2L344.5 732.6L344.6 731.2L344.7 729.0L344.8 733.0L344.9 735.9L345.0 729.1L345.1 744.5L345.2 738.9L345.2 735.7L345.3 725.0L345.4 725.5L345.5 735.7L345.6 735.5L345.7 737.5L345.8 730.9L345.9 736.9L346.0 734.2L346.1 736.5L346.2 735.6L346.3 741.0L346.4 731.7L346.5 737.6L346.6 729.1L346.7 731.6L346.8 727.2L346.9 731.5L347.0 736.4L347.0 738.6L347.1 742.0L347.2 737.3L347.3 733.4L347.4 731.5L347.5 733.7L347.6 733.1L347.7 741.7L347.8 739.9L347.9 736.5L348.0 735.8L348.1 734.1L348.2 733.7L348.3 734.2L348.4 735.3L348.5 730.3L348.6 731.9L348.7 740.2L348.7 744.9L348.8 732.4L348.9 744.8L349.0 733.2L349.1 729.6L349.2 733.5L349.3 737.5L349.4 735.2L349.5 732.3L349.6 737.7L349.7 731.6L349.8 737.4L349.9 739.8L350.0 741.8L350.1 738.8L350.2 730.4L350.3 737.4L350.4 733.2L350.5 728.3L350.5 742.6L350.6 738.8L350.7 737.3L350.8 734.6L350.9 732.8L351.0 742.1L351.1 734.7L351.2 740.7L351.3 735.1L351.4 743.2L351.5 740.3L351.6 732.7L351.7 736.9L351.8 735.8L351.9 739.7L352.0 729.9L352.1 738.7L352.2 740.7L352.3 735.4L352.3 728.7L352.4 738.6L352.5 737.7L352.6 743.0L352.7 738.6L352.8 733.4L352.9 743.6L353.0 727.1L353.1 731.6L353.2 740.7L353.3 737.9L353.4 734.0L353.5 736.3L353.6 733.5L353.7 737.1L353.8 742.1L353.9 735.8L354.0 734.2L354.1 736.2L354.1 735.7L354.2 731.0L354.3 735.1L354.4 738.8L354.5 732.0L354.6 731.1L354.7 732.9L354.8 743.8L354.9 743.3L355.0 733.4L355.1 740.8L355.2 732.6L355.3 738.7L355.4 729.0L355.5 738.5L355.6 738.5L355.7 739.7L355.8 738.5L355.8 739.2L355.9 736.2L356.0 736.4L356.1 737.7L356.2 734.4L356.3 734.5L356.4 732.8L356.5 733.4L356.6 733.6L356.7 739.8L356.8 737.9L356.9 744.5L357.0 737.9L357.1 737.8L357.2 733.1L357.3 738.4L357.4 739.3L357.5 738.0L357.6 739.4L357.6 740.4L357.7 744.8L357.8 739.1L357.9 731.0L358.0 735.3L358.1 742.2L358.2 729.6L358.3 738.8L358.4 738.8L358.5 737.3L358.6 733.0L358.7 740.7L358.8 730.1L358.9 732.1L359.0 744.9L359.1 737.8L359.2 734.1L359.3 728.2L359.4 734.6L359.4 740.6L359.5 744.3L359.6 745.1L359.7 729.5L359.8 743.9L359.9 736.1L360.0 736.2L360.1 733.3L360.2 738.3L360.3 736.2L360.4 739.1L360.5 741.0L360.6 736.0L360.7 736.1L360.8 727.3L360.9 726.6L361.0 726.5L361.1 722.7L361.2 720.3L361.2 719.0L361.3 718.7L361.4 719.0L361.5 720.6L361.6 722.8L361.7 724.8L361.8 728.0L361.9 730.4L362.0 734.8L362.1 732.8L362.2 731.1L362.3 733.7L362.4 732.2L362.5 737.4L362.6 738.4L362.7 742.2L362.8 734.5L362.9 739.8L362.9 735.3L363.0 740.6L363.1 736.0L363.2 741.0L363.3 739.6L363.4 740.4L363.5 742.2L363.6 740.7L363.7 741.0L363.8 734.1L363.9 740.5L364.0 740.5L364.1 739.8L364.2 737.2L364.3 743.6L364.4 737.5L364.5 740.2L364.6 731.9L364.7 740.3L364.7 740.5L364.8 745.2L364.9 736.7L365.0 742.5L365.1 743.9L365.2 746.3L365.3 743.9L365.4 739.0L365.5 742.6L365.6 735.5L365.7 734.7L365.8 742.5L365.9 742.2L366.0 736.3L366.1 730.7L366.2 736.4L366.3 735.1L366.4 748.4L366.5 745.3L366.5 740.5L366.6 742.4L366.7 741.3L366.8 737.9L366.9 741.5L367.0 737.7L367.1 734.8L367.2 739.4L367.3 742.4L367.4 744.5L367.5 741.6L367.6 738.3L367.7 740.5L367.8 734.4L367.9 749.0L368.0 743.8L368.1 735.4L368.2 744.5L368.3 745.4L368.3 741.9L368.4 739.8L368.5 740.8L368.6 741.7L368.7 747.0L368.8 733.5L368.9 734.4L369.0 744.7L369.1 738.0L369.2 740.7L369.3 742.3L369.4 736.8L369.5 743.8L369.6 741.8L369.7 735.9L369.8 737.8L369.9 742.6L370.0 737.6L370.0 730.6L370.1 742.1L370.2 741.3L370.3 737.4L370.4 740.5L370.5 738.1L370.6 745.2L370.7 738.5L370.8 741.9L370.9 743.9L371.0 736.4L371.1 742.9L371.2 733.5L371.3 739.2L371.4 744.0L371.5 742.4L371.6 742.9L371.7 741.3L371.8 738.9L371.8 739.9L371.9 737.4L372.0 744.0L372.1 737.9L372.2 739.8L372.3 736.2L372.4 738.2L372.5 733.2L372.6 742.2L372.7 734.7L372.8 741.6L372.9 736.2L373.0 738.1L373.1 746.4L373.2 733.4L373.3 736.8L373.4 744.2L373.5 744.5L373.6 749.7L373.6 734.7L373.7 742.8L373.8 739.9L373.9 746.5L374.0 739.1L374.1 736.5L374.2 736.2L374.3 739.9L374.4 742.9L374.5 740.6L374.6 743.9L374.7 747.6L374.8 748.4L374.9 739.9L375.0 735.4L375.1 740.2L375.2 739.2L375.3 740.6L375.4 745.7L375.4 735.8L375.5 744.4L375.6 735.2L375.7 743.5L375.8 748.0L375.9 739.9L376.0 744.9L376.1 734.5L376.2 741.6L376.3 743.4L376.4 739.2L376.5 736.4L376.6 744.6L376.7 739.0L376.8 743.7L376.9 740.6L377.0 743.3L377.1 744.4L377.1 741.7L377.2 740.1L377.3 744.4L377.4 742.6L377.5 744.6L377.6 745.3L377.7 750.6L377.8 746.3L377.9 736.9L378.0 739.0L378.1 734.4L378.2 744.8L378.3 739.5L378.4 742.4L378.5 739.4L378.6 743.5L378.7 736.7L378.8 736.6L378.9 751.2L378.9 734.4L379.0 734.7L379.1 747.2L379.2 740.8L379.3 745.9L379.4 742.3L379.5 738.9L379.6 741.3L379.7 743.2L379.8 741.6L379.9 734.9L380.0 746.0L380.1 746.0L380.2 739.5L380.3 740.0L380.4 741.2L380.5 737.6L380.6 742.4L380.7 747.0L380.7 747.6L380.8 740.1L380.9 741.6L381.0 745.4L381.1 742.4L381.2 740.3L381.3 740.0L381.4 746.7L381.5 746.2L381.6 742.2L381.7 741.8L381.8 737.6L381.9 742.5L382.0 744.3L382.1 742.0L382.2 743.7L382.3 738.4L382.4 743.8L382.5 739.5L382.5 738.9L382.6 746.6L382.7 739.2L382.8 741.9L382.9 743.0L383.0 735.5L383.1 743.6L383.2 742.0L383.3 748.1L383.4 739.3L383.5 743.2L383.6 744.6L383.7 739.5L383.8 735.9L383.9 742.3L384.0 734.0L384.1 740.3L384.2 743.7L384.2 738.2L384.3 743.9L384.4 737.1L384.5 741.1L384.6 744.5L384.7 743.6L384.8 743.0L384.9 739.5L385.0 744.9L385.1 739.8L385.2 741.4L385.3 743.1L385.4 738.4L385.5 743.3L385.6 740.0L385.7 743.7L385.8 741.4L385.9 747.0L386.0 744.2L386.0 742.4L386.1 743.2L386.2 748.5L386.3 745.7L386.4 743.0L386.5 745.5L386.6 742.1L386.7 750.2L386.8 744.2L386.9 740.2L387.0 742.6L387.1 739.7L387.2 747.5L387.3 744.5L387.4 745.2L387.5 743.3L387.6 748.1L387.7 743.0L387.8 739.6L387.8 737.7L387.9 736.1L388.0 747.7L388.1 745.5L388.2 747.3L388.3 747.1L388.4 742.5L388.5 737.1L388.6 742.3L388.7 742.0L388.8 741.4L388.9 742.3L389.0 743.3L389.1 745.6L389.2 744.0L389.3 747.2L389.4 745.7L389.5 740.2L389.6 746.4L389.6 748.1L389.7 741.2L389.8 745.9L389.9 742.5L390.0 744.9L390.1 743.1L390.2 746.4L390.3 746.9L390.4 744.8L390.5 738.4L390.6 741.5L390.7 745.5L390.8 742.6L390.9 743.1L391.0 746.8L391.1 743.6L391.2 740.5L391.3 746.3L391.3 746.3L391.4 748.4L391.5 750.4L391.6 747.0L391.7 747.0L391.8 746.8L391.9 747.4L392.0 739.8L392.1 744.0L392.2 744.6L392.3 744.3L392.4 740.0L392.5 741.6L392.6 747.2L392.7 740.2L392.8 746.8L392.9 741.4L393.0 742.0L393.1 750.1L393.1 748.2L393.2 738.8L393.3 742.7L393.4 743.9L393.5 739.9L393.6 740.0L393.7 744.6L393.8 739.0L393.9 742.5L394.0 749.2L394.1 739.7L394.2 748.0L394.3 746.9L394.4 740.6L394.5 748.9L394.6 743.5L394.7 741.2L394.8 745.1L394.9 741.8L394.9 745.8L395.0 741.3L395.1 740.0L395.2 741.0L395.3 743.6L395.4 747.8L395.5 745.4L395.6 748.4L395.7 747.8L395.8 746.7L395.9 742.3L396.0 742.2L396.1 751.9L396.2 741.7L396.3 744.3L396.4 744.7L396.5 745.2L396.6 742.2L396.7 748.3L396.7 741.3L396.8 739.6L396.9 747.2L397.0 744.8L397.1 746.7L397.2 745.8L397.3 750.0L397.4 741.5L397.5 739.4L397.6 748.0L397.7 739.7L397.8 749.6L397.9 750.5L398.0 739.8L398.1 740.7L398.2 747.4L398.3 742.8L398.4 748.1L398.4 742.8L398.5 737.9L398.6 745.5L398.7 744.3L398.8 740.9L398.9 747.3L399.0 744.2L399.1 747.3L399.2 741.4L399.3 742.8L399.4 744.0L399.5 740.5L399.6 745.8L399.7 741.7L399.8 746.7L399.9 745.0L400.0 741.0L400.1 739.4L400.2 742.5L400.2 739.9L400.3 745.8L400.4 747.6L400.5 745.2L400.6 743.2L400.7 742.3L400.8 739.8L400.9 750.2L401.0 745.3L401.1 749.4L401.2 746.9L401.3 741.0L401.4 743.1L401.5 744.2L401.6 744.4L401.7 747.8L401.8 739.7L401.9 744.1L402.0 741.5L402.0 749.9L402.1 741.8L402.2 742.4L402.3 745.3L402.4 741.7L402.5 747.4L402.6 742.4L402.7 741.1L402.8 744.3L402.9 746.1L403.0 741.0L403.1 744.0L403.2 743.5L403.3 740.7L403.4 740.9L403.5 750.0L403.6 744.7L403.7 744.8L403.8 746.5L403.8 735.7L403.9 740.1L404.0 742.8L404.1 743.0L404.2 747.2L404.3 753.7L404.4 742.6L404.5 745.7L404.6 747.6L404.7 742.9L404.8 753.7L404.9 743.2L405.0 746.2L405.1 748.3L405.2 743.2L405.3 746.1L405.4 746.1L405.5 744.6L405.5 750.9L405.6 744.2L405.7 742.5L405.8 742.5L405.9 741.1L406.0 743.1L406.1 743.8L406.2 748.2L406.3 745.7L406.4 751.2L406.5 742.1L406.6 745.9L406.7 745.6L406.8 747.1L406.9 746.3L407.0 747.2L407.1 746.7L407.2 743.7L407.3 743.1L407.3 742.6L407.4 739.2L407.5 744.1L407.6 747.8L407.7 743.1L407.8 742.0L407.9 746.2L408.0 743.8L408.1 743.9L408.2 744.9L408.3 748.4L408.4 741.5L408.5 747.6L408.6 739.9L408.7 744.5L408.8 748.0L408.9 743.7L409.0 745.5L409.1 743.5L409.1 743.1L409.2 743.7L409.3 748.6L409.4 747.6L409.5 744.2L409.6 738.9L409.7 752.8L409.8 744.7L409.9 747.7L410.0 741.5L410.1 743.2L410.2 746.1L410.3 751.7L410.4 739.0L410.5 742.7L410.6 744.3L410.7 745.1L410.8 748.9L410.9 746.6L410.9 742.5L411.0 751.1L411.1 745.2L411.2 748.2L411.3 746.4L411.4 745.6L411.5 742.9L411.6 738.4L411.7 751.6L411.8 749.9L411.9 742.2L412.0 747.3L412.1 744.6L412.2 741.3L412.3 749.6L412.4 745.6L412.5 734.2L412.6 743.4L412.6 739.2L412.7 743.2L412.8 747.0L412.9 744.8L413.0 748.7L413.1 750.9L413.2 749.1L413.3 743.9L413.4 746.4L413.5 743.0L413.6 743.7L413.7 747.9L413.8 740.2L413.9 743.6L414.0 744.7L414.1 741.7L414.2 746.5L414.3 745.1L414.4 740.3L414.4 743.7L414.5 752.7L414.6 746.4L414.7 750.3L414.8 750.7L414.9 743.1L415.0 741.9L415.1 743.8L415.2 753.2L415.3 744.6L415.4 751.8L415.5 747.6L415.6 737.7L415.7 748.6L415.8 750.1L415.9 744.5L416.0 740.9L416.1 748.2L416.2 751.7L416.2 744.4L416.3 747.4L416.4 744.2L416.5 745.1L416.6 743.6L416.7 741.1L416.8 745.9L416.9 741.4L417.0 741.1L417.1 747.4L417.2 748.1L417.3 744.0L417.4 749.5L417.5 746.6L417.6 748.1L417.7 745.1L417.8 747.6L417.9 754.1L418.0 740.4L418.0 752.3L418.1 741.8L418.2 742.7L418.3 737.3L418.4 746.5L418.5 747.2L418.6 740.4L418.7 750.1L418.8 744.9L418.9 750.5L419.0 746.2L419.1 749.5L419.2 741.5L419.3 746.0L419.4 744.0L419.5 747.1L419.6 745.3L419.7 748.9L419.7 749.6L419.8 746.0L419.9 751.9L420.0 745.9L420.1 741.5L420.2 748.6L420.3 743.5L420.4 752.9L420.5 743.0L420.6 742.5L420.7 746.7L420.8 745.9L420.9 748.9L421.0 747.5L421.1 746.1L421.2 746.8L421.3 745.0L421.4 750.8L421.5 739.1L421.5 748.0L421.6 755.1L421.7 744.9L421.8 745.7L421.9 754.3L422.0 749.4L422.1 745.4L422.2 746.3L422.3 744.2L422.4 742.5L422.5 737.2L422.6 745.7L422.7 751.2L422.8 741.7L422.9 736.2L423.0 735.0L423.1 737.8L423.2 735.6L423.3 735.4L423.3 735.1L423.4 734.2L423.5 736.7L423.6 736.5L423.7 740.8L423.8 739.4L423.9 741.5L424.0 745.2L424.1 742.4L424.2 743.5L424.3 744.4L424.4 748.2L424.5 746.9L424.6 748.8L424.7 748.4L424.8 751.2L424.9 743.3L425.0 748.3L425.1 741.9L425.1 743.3L425.2 743.5L425.3 752.0L425.4 747.5L425.5 751.2L425.6 748.7L425.7 738.5L425.8 747.4L425.9 742.8L426.0 741.2L426.1 746.0L426.2 746.9L426.3 748.2L426.4 742.2L426.5 744.1L426.6 744.2L426.7 751.7L426.8 747.7L426.8 749.4L426.9 749.3L427.0 750.3L427.1 745.8L427.2 743.0L427.3 742.3L427.4 750.6L427.5 746.3L427.6 748.5L427.7 748.8L427.8 747.6L427.9 747.8L428.0 744.4L428.1 747.1L428.2 749.3L428.3 746.4L428.4 743.1L428.5 755.4L428.6 754.9L428.6 753.9L428.7 748.7L428.8 749.0L428.9 746.4L429.0 744.9L429.1 745.5L429.2 743.5L429.3 742.9L429.4 748.9L429.5 746.5L429.6 753.3L429.7 738.6L429.8 752.1L429.9 741.7L430.0 745.9L430.1 750.2L430.2 746.1L430.3 744.3L430.4 750.1L430.4 746.8L430.5 748.3L430.6 746.9L430.7 749.4L430.8 749.7L430.9 748.7L431.0 746.9L431.1 746.2L431.2 747.5L431.3 743.0L431.4 751.2L431.5 739.1L431.6 755.6L431.7 742.9L431.8 742.7L431.9 748.0L432.0 749.0L432.1 747.0L432.2 758.2L432.2 748.1L432.3 749.9L432.4 741.7L432.5 746.0L432.6 752.1L432.7 745.3L432.8 747.1L432.9 744.9L433.0 747.7L433.1 743.3L433.2 744.6L433.3 748.1L433.4 747.6L433.5 748.3L433.6 748.5L433.7 745.4L433.8 748.1L433.9 752.1L433.9 750.2L434.0 748.2L434.1 744.8L434.2 747.8L434.3 745.6L434.4 749.7L434.5 749.8L434.6 745.1L434.7 751.0L434.8 748.5L434.9 747.8L435.0 749.2L435.1 743.3L435.2 745.6L435.3 751.6L435.4 746.1L435.5 748.4L435.6 745.7L435.7 746.5L435.7 745.7L435.8 744.5L435.9 751.5L436.0 746.1L436.1 748.5L436.2 749.0L436.3 751.1L436.4 749.9L436.5 741.3L436.6 754.1L436.7 746.0L436.8 749.4L436.9 748.2L437.0 755.7L437.1 745.1L437.2 750.9L437.3 751.1L437.4 752.9L437.5 741.1L437.5 753.5L437.6 745.6L437.7 750.5L437.8 751.7L437.9 749.2L438.0 748.9L438.1 741.8L438.2 748.4L438.3 753.2L438.4 746.2L438.5 750.0L438.6 747.4L438.7 751.9L438.8 743.2L438.9 754.5L439.0 748.9L439.1 747.7L439.2 749.3L439.3 750.2L439.3 754.2L439.4 753.1L439.5 755.0L439.6 749.2L439.7 748.2L439.8 748.6L439.9 750.2L440.0 755.8L440.1 754.5L440.2 744.5L440.3 756.3L440.4 748.4L440.5 746.3L440.6 746.4L440.7 744.0L440.8 743.7L440.9 748.7L441.0 750.3L441.0 745.0L441.1 753.5L441.2 747.1L441.3 750.1L441.4 743.3L441.5 746.9L441.6 748.8L441.7 749.5L441.8 743.7L441.9 748.1L442.0 752.9L442.1 752.1L442.2 744.4L442.3 749.5L442.4 750.6L442.5 746.1L442.6 747.2L442.7 747.6L442.8 738.9L442.8 749.1L442.9 751.1L443.0 751.9L443.1 747.9L443.2 746.7L443.3 751.6L443.4 741.3L443.5 752.4L443.6 747.5L443.7 745.8L443.8 747.5L443.9 749.4L444.0 745.5L444.1 747.0L444.2 755.8L444.3 741.7L444.4 751.0L444.5 749.7L444.6 744.8L444.6 742.5L444.7 748.2L444.8 754.0L444.9 744.4L445.0 749.1L445.1 751.2L445.2 747.0L445.3 742.7L445.4 750.2L445.5 748.4L445.6 750.4L445.7 745.5L445.8 741.9L445.9 751.3L446.0 749.6L446.1 747.4L446.2 753.6L446.3 749.5L446.4 744.9L446.4 752.3L446.5 745.9L446.6 748.6L446.7 743.5L446.8 747.1L446.9 747.0L447.0 750.2L447.1 747.1L447.2 747.2L447.3 743.2L447.4 747.6L447.5 750.4L447.6 746.3L447.7 746.6L447.8 748.9L447.9 751.9L448.0 746.4L448.1 748.0L448.1 751.0L448.2 748.9L448.3 745.2L448.4 746.8L448.5 751.7L448.6 745.8L448.7 743.9L448.8 748.5L448.9 753.7L449.0 748.1L449.1 748.0L449.2 753.2L449.3 748.2L449.4 749.5L449.5 746.7L449.6 750.0L449.7 746.5L449.8 749.4L449.9 742.6L449.9 752.0L450.0 752.3L450.1 744.7L450.2 755.9L450.3 744.9L450.4 742.5L450.5 743.9L450.6 752.0L450.7 749.5L450.8 749.6L450.9 748.2L451.0 751.1L451.1 750.3L451.2 744.4L451.3 751.3L451.4 749.2L451.5 751.4L451.6 755.2L451.7 747.6L451.7 745.9L451.8 747.1L451.9 744.2L452.0 748.9L452.1 749.7L452.2 747.7L452.3 753.4L452.4 753.3L452.5 750.0L452.6 751.9L452.7 750.6L452.8 755.1L452.9 756.5L453.0 745.7L453.1 749.0L453.2 749.5L453.3 747.5L453.4 752.3L453.5 747.1L453.5 749.6L453.6 742.8L453.7 743.1L453.8 745.5L453.9 749.6L454.0 750.1L454.1 745.0L454.2 749.9L454.3 748.8L454.4 743.2L454.5 751.5L454.6 751.8L454.7 750.5L454.8 755.8L454.9 754.1L455.0 746.4L455.1 747.7L455.2 751.1L455.2 748.6L455.3 751.6L455.4 744.4L455.5 747.3L455.6 746.3L455.7 749.5L455.8 750.7L455.9 753.3L456.0 749.7L456.1 746.1L456.2 749.9L456.3 749.2L456.4 752.2L456.5 752.3L456.6 749.3L456.7 752.7L456.8 745.7L456.9 753.9L457.0 745.4L457.0 748.2L457.1 746.4L457.2 749.6L457.3 740.9L457.4 748.4L457.5 746.0L457.6 749.2L457.7 745.2L457.8 747.4L457.9 747.5L458.0 748.8L458.1 754.4L458.2 747.7L458.3 751.0L458.4 743.7L458.5 750.7L458.6 748.4L458.7 746.8L458.8 751.1L458.8 739.4L458.9 749.6L459.0 746.3L459.1 749.3L459.2 749.9L459.3 752.4L459.4 747.8L459.5 749.3L459.6 746.7L459.7 746.1L459.8 744.9L459.9 750.2L460.0 751.5L460.1 755.7L460.2 743.3L460.3 751.2L460.4 747.3L460.5 752.6L460.6 747.9L460.6 745.3L460.7 745.8L460.8 749.1L460.9 751.6L461.0 746.0L461.1 749.7L461.2 747.2L461.3 748.4L461.4 753.3L461.5 749.7L461.6 739.9L461.7 745.5L461.8 748.2L461.9 744.7L462.0 751.0L462.1 748.0L462.2 740.5L462.3 746.0L462.3 748.5L462.4 750.0L462.5 744.5L462.6 745.5L462.7 752.3L462.8 745.8L462.9 745.4L463.0 743.2L463.1 743.8L463.2 739.3L463.3 738.8L463.4 736.7L463.5 736.5L463.6 736.2L463.7 736.4L463.8 737.5L463.9 738.8L464.0 737.5L464.1 742.7L464.1 745.3L464.2 745.4L464.3 746.5L464.4 744.3L464.5 747.4L464.6 744.0L464.7 751.8L464.8 749.1L464.9 747.5L465.0 746.8L465.1 751.8L465.2 750.3L465.3 751.8L465.4 750.5L465.5 746.6L465.6 746.7L465.7 750.2L465.8 753.6L465.9 751.4L465.9 745.9L466.0 749.8L466.1 746.6L466.2 744.0L466.3 745.8L466.4 752.1L466.5 747.4L466.6 747.9L466.7 746.9L466.8 751.0L466.9 754.4L467.0 744.5L467.1 748.7L467.2 750.3L467.3 749.8L467.4 738.0L467.5 751.7L467.6 746.2L467.7 749.8L467.7 748.1L467.8 747.8L467.9 746.0L468.0 750.0L468.1 745.5L468.2 748.2L468.3 746.6L468.4 758.0L468.5 751.0L468.6 747.2L468.7 752.5L468.8 747.4L468.9 751.1L469.0 746.0L469.1 751.0L469.2 749.1L469.3 747.5L469.4 743.4L469.4 752.0L469.5 752.7L469.6 751.6L469.7 748.9L469.8 747.7L469.9 745.1L470.0 749.3L470.1 747.7L470.2 747.4L470.3 750.5L470.4 754.6L470.5 751.3L470.6 742.3L470.7 753.7L470.8 749.9L470.9 744.3L471.0 753.7L471.1 750.1L471.2 750.9L471.2 747.9L471.3 752.8L471.4 751.1L471.5 748.4L471.6 745.6L471.7 751.1L471.8 749.1L471.9 748.4L472.0 748.1L472.1 752.6L472.2 748.2L472.3 744.4L472.4 746.5L472.5 752.4L472.6 747.7L472.7 748.1L472.8 747.9L472.9 751.9L473.0 749.8L473.0 752.4L473.1 759.3L473.2 749.6L473.3 749.8L473.4 747.0L473.5 752.4L473.6 753.4L473.7 749.8L473.8 751.3L473.9 755.1L474.0 743.8L474.1 746.0L474.2 754.4L474.3 755.8L474.4 752.5L474.5 749.2L474.6 752.4L474.7 750.0L474.8 744.3L474.8 739.4L474.9 749.8L475.0 753.7L475.1 751.1L475.2 747.3L475.3 744.7L475.4 749.7L475.5 753.2L475.6 750.4L475.7 748.9L475.8 750.7L475.9 751.3L476.0 752.7L476.1 750.2L476.2 750.8L476.3 746.8L476.4 746.3L476.5 747.7L476.5 745.6L476.6 747.5L476.7 753.1L476.8 755.7L476.9 745.9L477.0 746.2L477.1 747.8L477.2 756.1L477.3 749.6L477.4 748.5L477.5 748.7L477.6 753.8L477.7 743.6L477.8 749.5L477.9 750.3L478.0 747.8L478.1 747.1L478.2 748.0L478.3 751.6L478.3 751.0L478.4 748.3L478.5 755.3L478.6 751.2L478.7 746.9L478.8 751.8L478.9 755.5L479.0 747.7L479.1 747.5L479.2 749.4L479.3 747.0L479.4 748.2L479.5 751.7L479.6 754.9L479.7 753.1L479.8 752.4L479.9 750.8L480.0 747.0L480.1 746.2L480.1 754.8L480.2 759.3L480.3 745.6L480.4 749.7L480.5 751.9L480.6 747.0L480.7 749.7L480.8 747.5L480.9 756.0L481.0 750.3L481.1 750.3L481.2 748.1L481.3 743.8L481.4 756.5L481.5 751.4L481.6 744.1L481.7 747.9L481.8 743.4L481.9 749.2L481.9 749.7L482.0 746.0L482.1 747.9L482.2 746.4L482.3 747.2L482.4 751.8L482.5 748.8L482.6 748.9L482.7 751.1L482.8 750.8L482.9 755.6L483.0 750.9L483.1 750.5L483.2 752.5L483.3 751.5L483.4 744.4L483.5 749.0L483.6 752.0L483.6 755.8L483.7 745.4L483.8 744.1L483.9 753.0L484.0 745.9L484.1 750.6L484.2 746.9L484.3 750.7L484.4 751.0L484.5 751.3L484.6 754.0L484.7 747.2L484.8 753.9L484.9 750.6L485.0 748.2L485.1 751.0L485.2 749.0L485.3 746.9L485.4 747.3L485.4 750.2L485.5 751.5L485.6 747.4L485.7 748.4L485.8 747.9L485.9 750.8L486.0 743.7L486.1 750.4L486.2 748.4L486.3 745.3L486.4 751.5L486.5 754.4L486.6 752.9L486.7 753.1L486.8 748.0L486.9 752.1L487.0 742.3L487.1 749.5L487.2 751.1L487.2 743.5L487.3 752.7L487.4 751.2L487.5 746.9L487.6 754.4L487.7 748.0L487.8 749.2L487.9 749.7L488.0 748.1L488.1 751.9L488.2 749.8L488.3 742.0L488.4 751.3L488.5 752.0L488.6 752.7L488.7 750.0" stroke="#000" stroke-width="0.5" fill="none" stroke-linejoin="round"/>
<path d="M668 771H1094M668 771V427.8" stroke="#000" stroke-width="2" fill="none" stroke-linecap="square"/>
<path d="M668.00 772v6M691.67 772v3M715.33 772v6M739.00 772v3M762.67 772v6M786.33 772v3M810.00 772v6M833.67 772v3M857.33 772v6M881.00 772v3M904.67 772v6M928.33 772v3M952.00 772v6M975.67 772v3M999.33 772v6M1023.00 772v3M1046.67 772v6M1070.33 772v3M1094.00 772v6M667 771.00h-6M667 746.49h-3M667 721.97h-6M667 697.46h-3M667 672.94h-6M667 648.43h-3M667 623.91h-6M667 599.40h-3M667 574.89h-6M667 550.37h-3M667 525.86h-6M667 501.34h-3M667 476.83h-6M667 452.31h-3M667 427.80h-6" stroke="#000" stroke-width="2" fill="none"/>
<g class="tl"><text x="657.2" y="775.8" text-anchor="end">0</text><text x="657.2" y="726.8" text-anchor="end">100</text><text x="657.2" y="677.7" text-anchor="end">200</text><text x="657.2" y="628.7" text-anchor="end">300</text><text x="657.2" y="579.7" text-anchor="end">400</text><text x="657.2" y="530.7" text-anchor="end">500</text><text x="657.2" y="481.6" text-anchor="end">600</text><text x="657.2" y="432.6" text-anchor="end">700</text><text x="668.0" y="794.0" text-anchor="middle">0</text><text x="715.3" y="794.0" text-anchor="middle">10</text><text x="762.7" y="794.0" text-anchor="middle">20</text><text x="810.0" y="794.0" text-anchor="middle">30</text><text x="857.3" y="794.0" text-anchor="middle">40</text><text x="904.7" y="794.0" text-anchor="middle">50</text><text x="952.0" y="794.0" text-anchor="middle">60</text><text x="999.3" y="794.0" text-anchor="middle">70</text><text x="1046.7" y="794.0" text-anchor="middle">80</text><text x="1094.0" y="794.0" text-anchor="middle">90</text></g>
<text class="at" x="881.0" y="822.0" text-anchor="middle">Angle</text>
<text class="at" transform="translate(614.8 591.1) rotate(-90)" text-anchor="middle">PSD</text>
<text class="pl" x="566" y="432.6">(d)</text>
<path d="M691.7 575.7L691.8 598.0L691.9 579.2L692.0 596.2L692.0 573.9L692.1 597.9L692.2 588.9L692.3 587.0L692.4 600.3L692.5 571.8L692.6 594.5L692.7 592.6L692.8 586.4L692.9 575.1L693.0 591.1L693.1 566.0L693.2 586.2L693.3 589.7L693.4 583.7L693.5 589.9L693.6 599.2L693.7 595.0L693.7 588.6L693.8 575.7L693.9 588.3L694.0 586.6L694.1 612.3L694.2 594.1L694.3 592.1L694.4 575.5L694.5 577.3L694.6 591.3L694.7 587.7L694.8 593.5L694.9 599.9L695.0 593.1L695.1 597.0L695.2 590.7L695.3 587.5L695.4 596.0L695.5 583.9L695.5 605.0L695.6 594.6L695.7 593.0L695.8 612.2L695.9 589.5L696.0 588.8L696.1 579.7L696.2 596.3L696.3 590.5L696.4 590.3L696.5 611.6L696.6 593.9L696.7 610.2L696.8 594.4L696.9 590.5L697.0 594.9L697.1 616.6L697.2 584.4L697.3 595.3L697.3 589.0L697.4 604.8L697.5 602.2L697.6 579.6L697.7 600.8L697.8 603.2L697.9 602.8L698.0 590.4L698.1 614.2L698.2 602.9L698.3 608.3L698.4 577.4L698.5 590.6L698.6 599.8L698.7 598.8L698.8 603.1L698.9 605.3L699.0 602.9L699.1 585.4L699.1 604.5L699.2 604.4L699.3 599.3L699.4 588.9L699.5 598.1L699.6 612.4L699.7 602.3L699.8 602.9L699.9 615.3L700.0 610.2L700.1 600.5L700.2 607.7L700.3 588.7L700.4 600.9L700.5 608.5L700.6 605.2L700.7 612.9L700.8 610.8L700.8 598.0L700.9 605.8L701.0 622.7L701.1 617.7L701.2 600.4L701.3 616.2L701.4 608.9L701.5 596.3L701.6 608.4L701.7 609.1L701.8 610.3L701.9 597.3L702.0 613.3L702.1 618.3L702.2 606.7L702.3 592.9L702.4 604.4L702.5 594.0L702.6 597.0L702.6 618.2L702.7 607.7L702.8 609.4L702.9 608.6L703.0 597.9L703.1 596.4L703.2 602.6L703.3 598.6L703.4 614.9L703.5 602.5L703.6 619.4L703.7 613.3L703.8 621.5L703.9 599.7L704.0 614.6L704.1 604.3L704.2 622.8L704.3 609.4L704.4 604.5L704.4 611.1L704.5 610.4L704.6 611.0L704.7 613.1L704.8 616.1L704.9 620.6L705.0 604.3L705.1 613.6L705.2 613.3L705.3 611.3L705.4 625.5L705.5 626.7L705.6 626.8L705.7 599.8L705.8 618.1L705.9 609.8L706.0 632.2L706.1 620.0L706.2 616.0L706.2 622.1L706.3 607.9L706.4 620.8L706.5 618.8L706.6 608.6L706.7 604.7L706.8 616.0L706.9 623.1L707.0 622.0L707.1 609.4L707.2 629.4L707.3 629.2L707.4 629.0L707.5 612.3L707.6 617.8L707.7 629.5L707.8 628.6L707.9 622.6L707.9 627.4L708.0 632.2L708.1 630.7L708.2 625.6L708.3 629.4L708.4 624.8L708.5 627.9L708.6 631.3L708.7 621.8L708.8 621.8L708.9 642.8L709.0 624.2L709.1 630.7L709.2 635.7L709.3 621.1L709.4 625.5L709.5 623.2L709.6 632.9L709.7 613.5L709.7 624.7L709.8 634.3L709.9 613.6L710.0 636.9L710.1 617.5L710.2 633.0L710.3 636.0L710.4 637.3L710.5 640.0L710.6 639.6L710.7 629.1L710.8 633.2L710.9 646.4L711.0 631.4L711.1 645.8L711.2 629.6L711.3 638.0L711.4 636.3L711.5 625.0L711.5 651.9L711.6 617.1L711.7 610.3L711.8 627.0L711.9 631.6L712.0 642.2L712.1 628.0L712.2 638.8L712.3 639.9L712.4 644.4L712.5 626.7L712.6 631.5L712.7 650.5L712.8 640.0L712.9 650.1L713.0 632.2L713.1 647.4L713.2 641.0L713.3 636.1L713.3 642.6L713.4 651.4L713.5 645.3L713.6 652.8L713.7 630.8L713.8 635.1L713.9 657.1L714.0 652.6L714.1 625.6L714.2 638.6L714.3 646.7L714.4 637.1L714.5 642.0L714.6 638.8L714.7 648.5L714.8 632.7L714.9 644.0L715.0 655.7L715.0 647.0L715.1 649.5L715.2 644.1L715.3 645.3L715.4 646.9L715.5 654.7L715.6 646.6L715.7 653.2L715.8 636.1L715.9 658.2L716.0 651.6L716.1 653.7L716.2 657.8L716.3 647.0L716.4 648.1L716.5 649.2L716.6 639.1L716.7 655.6L716.8 647.9L716.8 650.9L716.9 649.7L717.0 662.0L717.1 661.7L717.2 646.1L717.3 661.9L717.4 644.4L717.5 641.5L717.6 657.8L717.7 651.0L717.8 652.4L717.9 642.4L718.0 637.9L718.1 648.3L718.2 648.0L718.3 645.4L718.4 662.4L718.5 655.8L718.6 648.8L718.6 659.4L718.7 643.3L718.8 663.3L718.9 657.9L719.0 655.8L719.1 651.8L719.2 664.2L719.3 660.3L719.4 654.9L719.5 657.2L719.6 653.8L719.7 664.6L719.8 667.1L719.9 680.5L720.0 669.4L720.1 663.5L720.2 671.3L720.3 663.6L720.4 654.5L720.4 664.7L720.5 654.4L720.6 656.0L720.7 661.5L720.8 656.5L720.9 655.4L721.0 672.4L721.1 650.5L721.2 675.7L721.3 660.8L721.4 667.4L721.5 667.2L721.6 661.7L721.7 666.3L721.8 665.0L721.9 664.1L722.0 670.4L722.1 662.3L722.1 672.1L722.2 660.1L722.3 673.0L722.4 662.4L722.5 668.1L722.6 653.7L722.7 671.5L722.8 655.8L722.9 667.4L723.0 676.3L723.1 654.5L723.2 657.6L723.3 652.6L723.4 668.0L723.5 658.4L723.6 654.0L723.7 663.7L723.8 644.3L723.9 666.6L723.9 657.7L724.0 671.2L724.1 670.2L724.2 667.6L724.3 665.6L724.4 663.4L724.5 661.6L724.6 680.7L724.7 664.8L724.8 669.8L724.9 678.8L725.0 671.4L725.1 661.7L725.2 663.1L725.3 677.9L725.4 671.7L725.5 671.2L725.6 658.6L725.7 670.3L725.7 674.1L725.8 669.2L725.9 686.8L726.0 668.8L726.1 662.9L726.2 667.1L726.3 683.0L726.4 653.2L726.5 666.3L726.6 671.6L726.7 671.5L726.8 665.1L726.9 672.1L727.0 672.2L727.1 667.0L727.2 679.1L727.3 666.4L727.4 678.4L727.5 668.8L727.5 664.7L727.6 668.5L727.7 666.5L727.8 675.0L727.9 677.9L728.0 665.3L728.1 673.6L728.2 678.7L728.3 676.6L728.4 678.0L728.5 668.1L728.6 669.2L728.7 663.2L728.8 681.1L728.9 673.1L729.0 674.2L729.1 688.0L729.2 674.2L729.2 669.7L729.3 679.6L729.4 682.7L729.5 658.0L729.6 683.5L729.7 663.9L729.8 672.1L729.9 671.4L730.0 678.1L730.1 681.3L730.2 664.6L730.3 661.8L730.4 680.5L730.5 666.5L730.6 674.8L730.7 669.5L730.8 676.4L730.9 679.8L731.0 685.8L731.0 687.1L731.1 676.2L731.2 677.1L731.3 683.7L731.4 686.8L731.5 681.3L731.6 673.2L731.7 670.0L731.8 669.3L731.9 675.8L732.0 671.3L732.1 684.7L732.2 665.7L732.3 675.9L732.4 682.2L732.5 683.3L732.6 684.4L732.7 679.2L732.8 671.5L732.8 682.3L732.9 671.1L733.0 676.4L733.1 688.9L733.2 685.2L733.3 684.0L733.4 680.8L733.5 665.6L733.6 661.9L733.7 676.2L733.8 676.1L733.9 683.3L734.0 670.7L734.1 684.0L734.2 681.6L734.3 677.9L734.4 672.6L734.5 676.7L734.6 694.1L734.6 676.2L734.7 681.3L734.8 676.5L734.9 669.7L735.0 689.5L735.1 677.5L735.2 672.8L735.3 689.3L735.4 670.1L735.5 674.9L735.6 677.3L735.7 684.5L735.8 676.5L735.9 674.6L736.0 684.8L736.1 683.7L736.2 685.5L736.3 678.1L736.3 677.7L736.4 674.0L736.5 677.7L736.6 682.7L736.7 679.9L736.8 685.9L736.9 673.7L737.0 686.6L737.1 685.9L737.2 679.9L737.3 692.8L737.4 677.5L737.5 671.7L737.6 676.3L737.7 675.9L737.8 677.3L737.9 680.4L738.0 681.0L738.1 688.3L738.1 678.6L738.2 675.2L738.3 668.4L738.4 683.6L738.5 678.6L738.6 678.0L738.7 683.7L738.8 684.2L738.9 684.0L739.0 683.2L739.1 671.0L739.2 692.5L739.3 689.3L739.4 690.9L739.5 679.6L739.6 678.1L739.7 688.2L739.8 676.0L739.9 688.7L739.9 672.1L740.0 681.5L740.1 675.9L740.2 691.2L740.3 676.4L740.4 681.4L740.5 686.1L740.6 692.7L740.7 677.3L740.8 677.9L740.9 684.8L741.0 676.3L741.1 676.2L741.2 675.3L741.3 689.0L741.4 678.0L741.5 681.4L741.6 687.0L741.7 681.6L741.7 686.1L741.8 675.4L741.9 683.5L742.0 680.2L742.1 677.0L742.2 670.6L742.3 678.2L742.4 690.7L742.5 673.1L742.6 681.3L742.7 675.4L742.8 681.9L742.9 685.2L743.0 692.1L743.1 682.0L743.2 677.9L743.3 686.7L743.4 686.9L743.4 687.9L743.5 684.4L743.6 682.8L743.7 678.1L743.8 685.7L743.9 682.3L744.0 690.3L744.1 677.4L744.2 683.7L744.3 692.8L744.4 690.0L744.5 685.0L744.6 676.5L744.7 683.6L744.8 673.5L744.9 681.0L745.0 689.6L745.1 688.9L745.2 673.0L745.2 689.0L745.3 689.4L745.4 690.1L745.5 692.8L745.6 679.4L745.7 678.5L745.8 691.2L745.9 673.3L746.0 678.1L746.1 686.6L746.2 693.9L746.3 687.2L746.4 687.3L746.5 680.1L746.6 687.4L746.7 678.7L746.8 668.9L746.9 689.8L747.0 688.9L747.0 676.9L747.1 673.2L747.2 697.3L747.3 688.8L747.4 695.8L747.5 682.8L747.6 684.4L747.7 690.4L747.8 683.7L747.9 677.5L748.0 705.9L748.1 696.1L748.2 690.8L748.3 685.9L748.4 682.9L748.5 684.3L748.6 674.0L748.7 685.1L748.8 690.6L748.8 691.0L748.9 699.3L749.0 687.0L749.1 682.4L749.2 693.4L749.3 680.3L749.4 694.6L749.5 681.7L749.6 687.3L749.7 674.9L749.8 684.1L749.9 684.6L750.0 688.7L750.1 693.5L750.2 690.3L750.3 692.7L750.4 696.2L750.5 678.3L750.5 679.6L750.6 682.9L750.7 682.7L750.8 695.5L750.9 704.3L751.0 683.0L751.1 683.2L751.2 682.9L751.3 681.0L751.4 682.0L751.5 691.0L751.6 682.3L751.7 682.7L751.8 676.3L751.9 682.2L752.0 685.1L752.1 685.3L752.2 692.0L752.3 688.9L752.3 680.9L752.4 699.2L752.5 692.8L752.6 681.9L752.7 691.3L752.8 697.7L752.9 684.1L753.0 683.0L753.1 684.4L753.2 685.2L753.3 696.2L753.4 669.9L753.5 692.1L753.6 691.6L753.7 682.7L753.8 683.0L753.9 686.5L754.0 685.4L754.1 682.5L754.1 684.3L754.2 692.1L754.3 685.9L754.4 684.4L754.5 684.5L754.6 687.1L754.7 693.4L754.8 683.8L754.9 682.4L755.0 684.5L755.1 697.6L755.2 684.7L755.3 677.1L755.4 683.9L755.5 690.1L755.6 685.2L755.7 687.8L755.8 689.4L755.9 683.8L755.9 685.4L756.0 692.0L756.1 675.7L756.2 680.9L756.3 698.2L756.4 688.3L756.5 687.8L756.6 704.0L756.7 695.5L756.8 680.6L756.9 687.7L757.0 684.7L757.1 686.2L757.2 687.3L757.3 690.8L757.4 695.9L757.5 698.9L757.6 692.9L757.6 682.4L757.7 681.5L757.8 679.4L757.9 688.8L758.0 693.3L758.1 678.5L758.2 681.2L758.3 684.6L758.4 685.0L758.5 690.9L758.6 680.2L758.7 699.5L758.8 690.5L758.9 684.2L759.0 687.8L759.1 677.9L759.2 685.4L759.3 692.5L759.4 693.3L759.4 702.0L759.5 680.3L759.6 687.2L759.7 683.9L759.8 695.7L759.9 694.7L760.0 684.7L760.1 691.5L760.2 688.6L760.3 678.5L760.4 685.5L760.5 685.6L760.6 686.5L760.7 691.2L760.8 683.3L760.9 686.7L761.0 672.7L761.1 683.6L761.2 698.4L761.2 690.0L761.3 693.6L761.4 678.6L761.5 688.7L761.6 696.0L761.7 690.3L761.8 681.4L761.9 683.0L762.0 687.2L762.1 687.2L762.2 696.4L762.3 690.9L762.4 689.6L762.5 694.0L762.6 687.5L762.7 695.8L762.8 682.6L762.9 693.4L763.0 695.2L763.0 696.5L763.1 691.6L763.2 687.2L763.3 687.8L763.4 694.3L763.5 688.7L763.6 696.7L763.7 690.6L763.8 686.8L763.9 689.3L764.0 693.8L764.1 695.5L764.2 688.8L764.3 690.9L764.4 702.2L764.5 697.0L764.6 692.6L764.7 689.9L764.7 691.5L764.8 682.4L764.9 698.0L765.0 682.2L765.1 693.4L765.2 688.8L765.3 693.1L765.4 689.4L765.5 699.9L765.6 681.6L765.7 693.8L765.8 691.2L765.9 704.7L766.0 690.9L766.1 694.4L766.2 685.6L766.3 688.1L766.4 693.3L766.5 699.1L766.5 681.8L766.6 692.4L766.7 683.9L766.8 683.9L766.9 681.0L767.0 698.3L767.1 697.4L767.2 692.7L767.3 694.6L767.4 685.8L767.5 688.2L767.6 686.1L767.7 688.9L767.8 687.3L767.9 686.9L768.0 689.2L768.1 693.3L768.2 682.4L768.3 692.1L768.3 699.9L768.4 701.9L768.5 686.8L768.6 692.2L768.7 692.8L768.8 698.4L768.9 688.7L769.0 684.0L769.1 688.0L769.2 696.7L769.3 691.1L769.4 689.3L769.5 696.2L769.6 697.7L769.7 697.6L769.8 679.1L769.9 681.8L770.0 691.1L770.1 689.5L770.1 683.5L770.2 683.8L770.3 686.0L770.4 696.0L770.5 696.3L770.6 691.0L770.7 685.8L770.8 686.8L770.9 691.4L771.0 695.4L771.1 680.9L771.2 696.2L771.3 690.1L771.4 689.6L771.5 687.8L771.6 682.1L771.7 702.9L771.8 708.1L771.8 688.2L771.9 684.7L772.0 685.5L772.1 686.7L772.2 691.5L772.3 692.5L772.4 679.2L772.5 695.9L772.6 684.6L772.7 692.8L772.8 691.6L772.9 697.9L773.0 693.8L773.1 696.6L773.2 702.6L773.3 699.2L773.4 704.4L773.5 687.9L773.6 699.7L773.6 696.2L773.7 683.4L773.8 689.6L773.9 696.3L774.0 687.8L774.1 691.9L774.2 689.9L774.3 699.1L774.4 688.5L774.5 692.4L774.6 696.4L774.7 699.7L774.8 695.7L774.9 699.3L775.0 693.3L775.1 693.1L775.2 698.9L775.3 686.0L775.4 688.6L775.4 702.1L775.5 684.4L775.6 697.9L775.7 702.5L775.8 693.1L775.9 686.2L776.0 683.8L776.1 696.2L776.2 690.8L776.3 691.3L776.4 683.8L776.5 686.5L776.6 688.9L776.7 689.5L776.8 690.2L776.9 690.3L777.0 693.1L777.1 696.0L777.2 683.5L777.2 691.3L777.3 690.8L777.4 693.9L777.5 690.0L777.6 695.9L777.7 690.1L777.8 693.8L777.9 685.0L778.0 704.1L778.1 684.2L778.2 691.2L778.3 698.9L778.4 689.3L778.5 694.8L778.6 690.6L778.7 694.3L778.8 692.0L778.9 693.2L778.9 695.2L779.0 696.5L779.1 689.1L779.2 688.3L779.3 688.2L779.4 695.2L779.5 692.4L779.6 691.5L779.7 691.6L779.8 693.0L779.9 689.8L780.0 695.9L780.1 689.7L780.2 699.5L780.3 694.7L780.4 696.0L780.5 695.9L780.6 687.6L780.7 701.6L780.7 695.4L780.8 694.6L780.9 690.7L781.0 699.7L781.1 701.1L781.2 698.1L781.3 694.7L781.4 692.2L781.5 684.4L781.6 684.1L781.7 689.4L781.8 692.3L781.9 688.8L782.0 691.0L782.1 694.9L782.2 696.0L782.3 683.2L782.4 690.9L782.5 698.1L782.5 687.1L782.6 699.0L782.7 696.0L782.8 692.8L782.9 694.7L783.0 696.0L783.1 697.5L783.2 698.4L783.3 701.0L783.4 692.7L783.5 687.7L783.6 699.4L783.7 690.9L783.8 689.8L783.9 701.4L784.0 688.7L784.1 689.4L784.2 694.6L784.3 698.3L784.3 690.8L784.4 692.1L784.5 698.5L784.6 708.7L784.7 687.4L784.8 710.6L784.9 695.4L785.0 710.0L785.1 697.8L785.2 698.6L785.3 695.3L785.4 693.2L785.5 692.0L785.6 701.5L785.7 690.8L785.8 692.1L785.9 701.0L786.0 693.5L786.0 700.5L786.1 694.9L786.2 703.1L786.3 694.6L786.4 688.2L786.5 698.9L786.6 694.8L786.7 685.1L786.8 680.5L786.9 702.8L787.0 698.6L787.1 709.5L787.2 705.5L787.3 686.0L787.4 698.7L787.5 699.0L787.6 698.9L787.7 690.2L787.8 704.4L787.8 701.4L787.9 698.5L788.0 701.2L788.1 695.5L788.2 688.1L788.3 700.4L788.4 696.4L788.5 688.7L788.6 696.9L788.7 703.7L788.8 693.5L788.9 693.1L789.0 688.1L789.1 698.1L789.2 691.4L789.3 690.5L789.4 709.6L789.5 699.0L789.6 687.1L789.6 703.3L789.7 690.7L789.8 699.9L789.9 707.2L790.0 713.4L790.1 703.1L790.2 707.0L790.3 688.7L790.4 712.7L790.5 693.7L790.6 701.0L790.7 693.6L790.8 708.2L790.9 698.1L791.0 705.2L791.1 695.5L791.2 691.3L791.3 696.8L791.4 699.8L791.4 695.1L791.5 696.5L791.6 704.1L791.7 713.0L791.8 703.1L791.9 713.6L792.0 705.6L792.1 686.0L792.2 691.6L792.3 704.1L792.4 698.7L792.5 691.3L792.6 701.2L792.7 711.6L792.8 711.0L792.9 693.0L793.0 692.8L793.1 693.6L793.1 698.0L793.2 699.3L793.3 699.3L793.4 703.1L793.5 699.3L793.6 698.3L793.7 707.4L793.8 689.5L793.9 697.8L794.0 695.9L794.1 705.6L794.2 701.4L794.3 703.7L794.4 708.2L794.5 705.4L794.6 688.4L794.7 699.6L794.8 697.6L794.9 700.7L794.9 700.9L795.0 705.9L795.1 699.0L795.2 706.6L795.3 699.6L795.4 709.9L795.5 706.6L795.6 704.5L795.7 699.6L795.8 708.8L795.9 701.5L796.0 700.2L796.1 698.3L796.2 702.0L796.3 701.8L796.4 703.4L796.5 710.0L796.6 700.6L796.7 706.1L796.7 702.4L796.8 694.5L796.9 699.0L797.0 702.0L797.1 704.9L797.2 706.9L797.3 710.9L797.4 703.3L797.5 695.5L797.6 701.6L797.7 708.9L797.8 698.4L797.9 709.3L798.0 708.8L798.1 698.7L798.2 700.7L798.3 695.1L798.4 710.5L798.5 702.5L798.5 703.1L798.6 705.1L798.7 704.7L798.8 715.1L798.9 704.7L799.0 710.3L799.1 704.2L799.2 710.3L799.3 700.5L799.4 703.6L799.5 705.8L799.6 705.2L799.7 709.1L799.8 699.3L799.9 702.9L800.0 705.1L800.1 705.8L800.2 705.9L800.2 704.9L800.3 708.2L800.4 713.5L800.5 717.1L800.6 714.1L800.7 701.1L800.8 710.5L800.9 702.9L801.0 698.4L801.1 705.1L801.2 707.5L801.3 706.8L801.4 701.0L801.5 710.5L801.6 703.0L801.7 694.7L801.8 702.3L801.9 703.1L802.0 704.1L802.0 707.5L802.1 713.8L802.2 702.1L802.3 701.8L802.4 714.8L802.5 706.0L802.6 699.6L802.7 701.8L802.8 702.6L802.9 710.9L803.0 711.7L803.1 706.5L803.2 700.3L803.3 709.9L803.4 697.0L803.5 713.0L803.6 710.1L803.7 700.5L803.8 715.0L803.8 703.4L803.9 704.1L804.0 704.3L804.1 707.4L804.2 708.4L804.3 714.4L804.4 709.1L804.5 710.7L804.6 716.0L804.7 714.9L804.8 704.1L804.9 710.7L805.0 712.7L805.1 708.9L805.2 718.2L805.3 705.2L805.4 703.6L805.5 697.8L805.6 709.7L805.6 703.5L805.7 711.7L805.8 712.7L805.9 712.1L806.0 707.9L806.1 711.5L806.2 708.4L806.3 713.5L806.4 714.7L806.5 705.3L806.6 716.5L806.7 711.6L806.8 702.8L806.9 708.8L807.0 708.3L807.1 712.3L807.2 714.3L807.3 705.3L807.3 711.3L807.4 710.2L807.5 707.1L807.6 715.4L807.7 710.3L807.8 729.2L807.9 703.3L808.0 705.4L808.1 719.1L808.2 709.7L808.3 710.7L808.4 719.0L808.5 713.8L808.6 716.0L808.7 716.1L808.8 714.2L808.9 709.5L809.0 716.3L809.1 715.6L809.1 716.4L809.2 720.7L809.3 712.2L809.4 703.2L809.5 707.1L809.6 719.0L809.7 710.9L809.8 717.0L809.9 707.4L810.0 722.3L810.1 705.7L810.2 720.9L810.3 709.4L810.4 705.4L810.5 711.8L810.6 704.4L810.7 713.5L810.8 703.7L810.9 715.1L810.9 712.4L811.0 709.3L811.1 699.4L811.2 716.0L811.3 716.7L811.4 705.6L811.5 711.6L811.6 716.1L811.7 713.4L811.8 707.7L811.9 716.5L812.0 717.1L812.1 710.0L812.2 709.1L812.3 715.5L812.4 713.3L812.5 706.2L812.6 719.1L812.7 717.8L812.7 705.2L812.8 707.9L812.9 703.5L813.0 710.5L813.1 711.5L813.2 709.7L813.3 720.6L813.4 718.1L813.5 709.5L813.6 709.4L813.7 708.3L813.8 709.5L813.9 711.9L814.0 718.8L814.1 710.3L814.2 711.6L814.3 721.3L814.4 709.0L814.4 711.7L814.5 709.9L814.6 717.9L814.7 716.1L814.8 698.6L814.9 716.0L815.0 715.0L815.1 708.9L815.2 725.0L815.3 712.8L815.4 710.5L815.5 709.3L815.6 710.5L815.7 721.7L815.8 712.7L815.9 711.4L816.0 726.0L816.1 711.7L816.2 716.5L816.2 713.3L816.3 713.8L816.4 714.9L816.5 711.6L816.6 712.4L816.7 709.2L816.8 712.3L816.9 718.7L817.0 706.1L817.1 713.6L817.2 722.6L817.3 711.9L817.4 712.9L817.5 710.3L817.6 707.7L817.7 713.6L817.8 718.9L817.9 709.8L818.0 717.5L818.0 715.9L818.1 712.2L818.2 717.7L818.3 717.9L818.4 708.0L818.5 714.7L818.6 712.9L818.7 716.7L818.8 715.9L818.9 718.3L819.0 714.7L819.1 716.5L819.2 716.3L819.3 718.7L819.4 702.7L819.5 710.5L819.6 719.7L819.7 723.4L819.8 712.0L819.8 716.2L819.9 719.4L820.0 713.8L820.1 720.1L820.2 707.9L820.3 716.6L820.4 722.3L820.5 725.0L820.6 708.1L820.7 719.5L820.8 718.6L820.9 715.6L821.0 721.3L821.1 723.5L821.2 720.8L821.3 715.7L821.4 717.1L821.5 721.5L821.5 719.1L821.6 709.6L821.7 711.9L821.8 719.2L821.9 715.9L822.0 717.7L822.1 715.0L822.2 706.7L822.3 719.9L822.4 714.9L822.5 716.8L822.6 715.8L822.7 717.7L822.8 722.1L822.9 720.8L823.0 728.2L823.1 723.3L823.2 719.8L823.3 713.8L823.3 713.6L823.4 718.0L823.5 721.0L823.6 723.7L823.7 726.0L823.8 717.5L823.9 715.0L824.0 718.4L824.1 723.4L824.2 723.3L824.3 710.3L824.4 716.2L824.5 720.3L824.6 713.5L824.7 717.5L824.8 726.3L824.9 717.0L825.0 717.0L825.1 711.9L825.1 722.2L825.2 714.7L825.3 714.9L825.4 716.8L825.5 718.4L825.6 718.4L825.7 719.3L825.8 717.9L825.9 715.3L826.0 719.2L826.1 722.1L826.2 720.8L826.3 720.5L826.4 720.4L826.5 718.9L826.6 726.5L826.7 717.3L826.8 709.3L826.9 714.7L826.9 722.0L827.0 726.6L827.1 720.4L827.2 720.7L827.3 719.2L827.4 724.0L827.5 723.9L827.6 716.4L827.7 721.0L827.8 714.2L827.9 724.9L828.0 728.0L828.1 717.4L828.2 724.5L828.3 723.6L828.4 716.3L828.5 721.8L828.6 716.1L828.6 723.0L828.7 719.4L828.8 717.8L828.9 715.2L829.0 716.4L829.1 721.9L829.2 721.7L829.3 715.6L829.4 715.0L829.5 715.4L829.6 727.1L829.7 727.8L829.8 719.8L829.9 725.4L830.0 722.5L830.1 720.0L830.2 721.8L830.3 719.7L830.4 712.4L830.4 725.9L830.5 720.0L830.6 723.9L830.7 722.4L830.8 726.1L830.9 718.6L831.0 722.4L831.1 712.6L831.2 715.9L831.3 728.1L831.4 717.8L831.5 722.1L831.6 722.2L831.7 715.2L831.8 710.1L831.9 726.6L832.0 725.8L832.1 725.1L832.2 718.4L832.2 724.1L832.3 716.8L832.4 732.8L832.5 726.0L832.6 717.1L832.7 715.4L832.8 727.1L832.9 728.1L833.0 723.6L833.1 723.6L833.2 723.7L833.3 725.1L833.4 708.9L833.5 716.7L833.6 725.3L833.7 724.8L833.8 721.5L833.9 719.0L834.0 713.4L834.0 715.4L834.1 720.2L834.2 723.9L834.3 716.4L834.4 717.3L834.5 726.3L834.6 729.9L834.7 723.0L834.8 720.3L834.9 722.7L835.0 724.6L835.1 726.6L835.2 714.6L835.3 722.7L835.4 726.9L835.5 727.3L835.6 720.2L835.7 727.5L835.7 715.2L835.8 729.6L835.9 726.8L836.0 730.5L836.1 720.0L836.2 730.1L836.3 729.9L836.4 720.0L836.5 717.7L836.6 725.9L836.7 716.1L836.8 718.4L836.9 732.1L837.0 719.6L837.1 715.3L837.2 722.0L837.3 727.0L837.4 723.9L837.5 726.6L837.5 721.3L837.6 717.2L837.7 721.0L837.8 720.7L837.9 712.7L838.0 721.9L838.1 715.9L838.2 727.7L838.3 725.4L838.4 718.5L838.5 715.9L838.6 717.0L838.7 717.9L838.8 721.0L838.9 718.6L839.0 717.3L839.1 723.0L839.2 731.7L839.3 726.9L839.3 713.0L839.4 722.9L839.5 724.1L839.6 726.6L839.7 721.9L839.8 725.7L839.9 718.3L840.0 720.7L840.1 732.3L840.2 726.5L840.3 723.8L840.4 726.2L840.5 724.3L840.6 721.7L840.7 725.2L840.8 728.8L840.9 722.7L841.0 725.6L841.1 727.1L841.1 726.9L841.2 715.1L841.3 723.2L841.4 727.9L841.5 725.7L841.6 727.3L841.7 726.9L841.8 726.7L841.9 721.1L842.0 724.7L842.1 727.5L842.2 718.8L842.3 723.0L842.4 724.1L842.5 723.4L842.6 724.9L842.7 721.0L842.8 727.8L842.8 728.1L842.9 722.8L843.0 730.4L843.1 729.1L843.2 723.3L843.3 714.8L843.4 724.7L843.5 722.5L843.6 729.9L843.7 726.9L843.8 714.7L843.9 723.8L844.0 723.4L844.1 727.9L844.2 720.3L844.3 722.2L844.4 720.6L844.5 720.4L844.6 726.5L844.6 728.0L844.7 725.1L844.8 724.4L844.9 721.9L845.0 725.4L845.1 732.3L845.2 716.9L845.3 721.3L845.4 730.7L845.5 716.5L845.6 730.7L845.7 733.2L845.8 731.0L845.9 718.6L846.0 724.2L846.1 727.4L846.2 726.1L846.3 720.2L846.4 728.0L846.4 723.2L846.5 725.0L846.6 725.1L846.7 721.4L846.8 725.0L846.9 722.6L847.0 725.2L847.1 731.3L847.2 727.9L847.3 723.3L847.4 713.4L847.5 727.2L847.6 720.3L847.7 728.6L847.8 722.8L847.9 720.1L848.0 724.5L848.1 724.4L848.2 727.0L848.2 723.7L848.3 723.5L848.4 721.2L848.5 725.4L848.6 727.3L848.7 726.5L848.8 725.9L848.9 722.9L849.0 720.5L849.1 729.9L849.2 721.0L849.3 724.5L849.4 729.6L849.5 728.1L849.6 731.0L849.7 731.7L849.8 727.5L849.9 724.7L849.9 727.1L850.0 723.3L850.1 723.6L850.2 723.7L850.3 724.0L850.4 724.4L850.5 734.8L850.6 725.1L850.7 734.7L850.8 721.4L850.9 729.7L851.0 728.7L851.1 730.6L851.2 723.9L851.3 730.8L851.4 727.8L851.5 730.7L851.6 726.3L851.7 731.6L851.7 725.3L851.8 727.6L851.9 730.6L852.0 727.8L852.1 729.9L852.2 732.2L852.3 729.3L852.4 738.2L852.5 728.3L852.6 725.8L852.7 731.4L852.8 726.8L852.9 724.2L853.0 732.3L853.1 720.8L853.2 730.7L853.3 725.0L853.4 727.1L853.5 722.9L853.5 729.6L853.6 727.9L853.7 723.7L853.8 721.6L853.9 725.9L854.0 723.8L854.1 733.8L854.2 732.1L854.3 728.4L854.4 726.5L854.5 725.6L854.6 722.1L854.7 727.7L854.8 725.2L854.9 725.6L855.0 731.2L855.1 736.0L855.2 728.7L855.3 729.2L855.3 722.6L855.4 726.4L855.5 724.7L855.6 729.6L855.7 730.2L855.8 725.9L855.9 722.1L856.0 733.7L856.1 729.2L856.2 734.0L856.3 732.7L856.4 725.5L856.5 726.8L856.6 730.6L856.7 728.5L856.8 722.8L856.9 732.4L857.0 724.7L857.0 728.5L857.1 738.6L857.2 725.1L857.3 720.6L857.4 730.9L857.5 730.2L857.6 732.1L857.7 728.2L857.8 728.3L857.9 723.6L858.0 726.1L858.1 728.5L858.2 729.9L858.3 724.2L858.4 730.1L858.5 729.9L858.6 725.7L858.7 725.0L858.8 731.4L858.8 730.8L858.9 718.8L859.0 735.3L859.1 727.5L859.2 730.5L859.3 721.2L859.4 730.8L859.5 731.2L859.6 729.1L859.7 732.1L859.8 724.3L859.9 725.1L860.0 726.7L860.1 725.9L860.2 731.8L860.3 730.9L860.4 725.8L860.5 731.0L860.6 730.7L860.6 734.6L860.7 731.1L860.8 731.0L860.9 729.3L861.0 728.8L861.1 731.9L861.2 726.6L861.3 729.2L861.4 727.9L861.5 729.4L861.6 732.1L861.7 728.8L861.8 730.6L861.9 731.5L862.0 732.6L862.1 740.9L862.2 723.7L862.3 727.9L862.4 724.0L862.4 730.2L862.5 727.2L862.6 731.7L862.7 736.8L862.8 724.6L862.9 727.1L863.0 723.1L863.1 727.1L863.2 723.3L863.3 739.2L863.4 722.7L863.5 730.8L863.6 727.1L863.7 734.2L863.8 734.4L863.9 722.3L864.0 737.9L864.1 727.3L864.1 728.0L864.2 727.8L864.3 734.0L864.4 728.4L864.5 733.9L864.6 733.5L864.7 732.2L864.8 725.6L864.9 730.7L865.0 730.5L865.1 727.5L865.2 726.5L865.3 733.7L865.4 723.3L865.5 728.8L865.6 730.1L865.7 737.8L865.8 731.9L865.9 729.7L865.9 727.7L866.0 729.3L866.1 731.9L866.2 731.3L866.3 735.6L866.4 734.6L866.5 727.3L866.6 731.9L866.7 728.3L866.8 728.4L866.9 724.1L867.0 733.9L867.1 730.9L867.2 739.1L867.3 733.6L867.4 732.3L867.5 724.0L867.6 730.0L867.7 734.3L867.7 723.9L867.8 721.3L867.9 726.9L868.0 729.6L868.1 723.7L868.2 736.1L868.3 729.4L868.4 736.3L868.5 724.2L868.6 727.2L868.7 726.3L868.8 725.1L868.9 732.0L869.0 735.5L869.1 734.5L869.2 726.9L869.3 727.2L869.4 741.5L869.5 722.1L869.5 725.9L869.6 726.0L869.7 727.9L869.8 729.3L869.9 730.1L870.0 730.8L870.1 731.9L870.2 736.7L870.3 730.8L870.4 728.2L870.5 733.4L870.6 730.8L870.7 730.1L870.8 731.9L870.9 733.9L871.0 731.6L871.1 732.9L871.2 738.3L871.2 726.6L871.3 719.6L871.4 730.7L871.5 728.2L871.6 736.9L871.7 732.8L871.8 732.2L871.9 728.3L872.0 734.3L872.1 729.8L872.2 733.4L872.3 728.5L872.4 734.0L872.5 735.4L872.6 734.3L872.7 735.6L872.8 733.5L872.9 736.0L873.0 733.1L873.0 734.0L873.1 733.5L873.2 735.0L873.3 733.3L873.4 727.6L873.5 729.0L873.6 732.2L873.7 727.3L873.8 730.3L873.9 738.6L874.0 736.4L874.1 738.4L874.2 738.3L874.3 727.0L874.4 734.5L874.5 735.5L874.6 726.8L874.7 737.3L874.8 735.2L874.8 729.9L874.9 731.6L875.0 730.7L875.1 728.4L875.2 738.3L875.3 737.6L875.4 728.9L875.5 731.6L875.6 732.8L875.7 733.1L875.8 731.1L875.9 729.3L876.0 737.8L876.1 731.4L876.2 723.9L876.3 734.7L876.4 730.3L876.5 723.6L876.6 734.7L876.6 733.8L876.7 740.4L876.8 735.0L876.9 736.3L877.0 730.2L877.1 727.4L877.2 732.4L877.3 731.5L877.4 736.8L877.5 724.4L877.6 730.2L877.7 729.7L877.8 722.6L877.9 733.2L878.0 733.2L878.1 734.8L878.2 740.5L878.3 726.9L878.3 734.3L878.4 737.9L878.5 737.7L878.6 731.1L878.7 727.6L878.8 732.5L878.9 737.7L879.0 737.9L879.1 730.6L879.2 727.7L879.3 733.3L879.4 742.9L879.5 730.6L879.6 738.3L879.7 732.0L879.8 731.8L879.9 731.2L880.0 737.8L880.1 737.3L880.1 732.8L880.2 730.6L880.3 734.4L880.4 736.7L880.5 739.6L880.6 743.4L880.7 734.3L880.8 737.8L880.9 745.1L881.0 728.9L881.1 730.0L881.2 729.1L881.3 736.3L881.4 733.0L881.5 740.4L881.6 734.7L881.7 734.6L881.8 731.5L881.9 739.7L881.9 731.4L882.0 729.5L882.1 730.2L882.2 731.5L882.3 729.7L882.4 732.1L882.5 737.1L882.6 740.7L882.7 741.4L882.8 736.2L882.9 739.3L883.0 736.2L883.1 735.4L883.2 739.5L883.3 731.2L883.4 741.8L883.5 739.8L883.6 734.2L883.7 736.1L883.7 741.9L883.8 734.2L883.9 741.1L884.0 733.0L884.1 739.7L884.2 740.9L884.3 738.2L884.4 734.8L884.5 733.7L884.6 739.3L884.7 738.1L884.8 736.0L884.9 734.6L885.0 738.9L885.1 733.8L885.2 735.8L885.3 739.7L885.4 734.3L885.4 736.8L885.5 727.3L885.6 730.6L885.7 732.1L885.8 734.4L885.9 732.8L886.0 732.6L886.1 740.3L886.2 731.7L886.3 740.6L886.4 739.9L886.5 739.0L886.6 735.2L886.7 733.4L886.8 731.6L886.9 740.9L887.0 737.4L887.1 738.9L887.2 734.2L887.2 736.9L887.3 723.2L887.4 730.2L887.5 734.6L887.6 743.4L887.7 735.5L887.8 738.4L887.9 734.7L888.0 737.7L888.1 737.2L888.2 745.0L888.3 738.6L888.4 731.4L888.5 736.4L888.6 734.1L888.7 735.5L888.8 738.8L888.9 730.3L889.0 741.5L889.0 731.5L889.1 736.5L889.2 736.5L889.3 740.7L889.4 730.8L889.5 738.1L889.6 737.1L889.7 735.4L889.8 729.5L889.9 737.9L890.0 744.4L890.1 744.2L890.2 741.5L890.3 737.5L890.4 740.1L890.5 740.8L890.6 732.4L890.7 727.8L890.8 733.1L890.8 734.7L890.9 739.3L891.0 735.2L891.1 733.9L891.2 736.8L891.3 735.9L891.4 739.7L891.5 732.9L891.6 740.7L891.7 729.4L891.8 735.8L891.9 739.6L892.0 733.5L892.1 738.3L892.2 739.3L892.3 733.1L892.4 731.8L892.5 743.2L892.5 737.7L892.6 728.0L892.7 738.8L892.8 739.3L892.9 740.6L893.0 748.0L893.1 735.4L893.2 738.2L893.3 735.7L893.4 730.3L893.5 732.9L893.6 733.4L893.7 744.3L893.8 747.2L893.9 733.4L894.0 735.9L894.1 734.0L894.2 734.8L894.3 733.1L894.3 731.5L894.4 731.5L894.5 738.2L894.6 732.6L894.7 741.4L894.8 737.1L894.9 742.2L895.0 733.4L895.1 736.5L895.2 739.0L895.3 739.7L895.4 736.7L895.5 730.8L895.6 730.6L895.7 745.0L895.8 736.5L895.9 732.6L896.0 733.0L896.1 733.8L896.1 742.4L896.2 738.2L896.3 731.1L896.4 738.0L896.5 740.1L896.6 741.8L896.7 733.3L896.8 729.8L896.9 733.1L897.0 738.3L897.1 730.8L897.2 738.5L897.3 737.7L897.4 731.8L897.5 732.4L897.6 732.8L897.7 733.2L897.8 737.8L897.9 736.0L897.9 736.0L898.0 739.3L898.1 738.6L898.2 733.2L898.3 736.3L898.4 741.0L898.5 739.5L898.6 741.2L898.7 742.7L898.8 735.3L898.9 735.5L899.0 737.6L899.1 743.7L899.2 739.3L899.3 745.0L899.4 737.3L899.5 738.9L899.6 737.2L899.6 742.5L899.7 730.7L899.8 734.4L899.9 731.7L900.0 740.0L900.1 739.1L900.2 731.8L900.3 733.6L900.4 739.3L900.5 739.3L900.6 741.5L900.7 736.5L900.8 742.2L900.9 733.9L901.0 737.3L901.1 736.9L901.2 739.9L901.3 733.2L901.4 733.7L901.4 739.7L901.5 743.0L901.6 731.7L901.7 744.7L901.8 735.7L901.9 746.0L902.0 729.0L902.1 735.2L902.2 742.0L902.3 739.4L902.4 736.1L902.5 748.8L902.6 746.1L902.7 736.7L902.8 739.4L902.9 737.1L903.0 738.2L903.1 739.4L903.2 734.8L903.2 733.8L903.3 741.2L903.4 734.7L903.5 739.7L903.6 741.2L903.7 737.4L903.8 742.2L903.9 737.9L904.0 744.0L904.1 736.4L904.2 737.7L904.3 735.6L904.4 738.5L904.5 743.0L904.6 738.2L904.7 734.8L904.8 737.3L904.9 733.4L905.0 743.4L905.0 740.4L905.1 737.4L905.2 739.4L905.3 734.7L905.4 741.8L905.5 739.8L905.6 743.4L905.7 738.0L905.8 738.9L905.9 744.7L906.0 739.4L906.1 734.4L906.2 737.5L906.3 738.1L906.4 730.1L906.5 743.2L906.6 739.0L906.7 744.9L906.7 739.2L906.8 745.1L906.9 738.6L907.0 733.6L907.1 738.0L907.2 736.0L907.3 743.7L907.4 743.2L907.5 740.2L907.6 740.3L907.7 727.8L907.8 741.2L907.9 741.2L908.0 741.4L908.1 741.5L908.2 738.0L908.3 741.6L908.4 742.3L908.5 739.6L908.5 736.0L908.6 743.6L908.7 739.5L908.8 736.5L908.9 729.5L909.0 741.2L909.1 737.8L909.2 736.0L909.3 736.1L909.4 734.4L909.5 742.0L909.6 746.7L909.7 738.5L909.8 737.8L909.9 743.1L910.0 738.1L910.1 743.4L910.2 741.3L910.3 745.0L910.3 743.2L910.4 738.0L910.5 740.6L910.6 737.9L910.7 738.7L910.8 736.9L910.9 743.1L911.0 741.0L911.1 736.1L911.2 736.6L911.3 743.4L911.4 747.3L911.5 738.5L911.6 738.9L911.7 739.1L911.8 747.0L911.9 740.3L912.0 736.9L912.1 740.4L912.1 742.2L912.2 738.4L912.3 744.6L912.4 732.7L912.5 738.7L912.6 745.2L912.7 729.6L912.8 738.4L912.9 743.9L913.0 739.0L913.1 741.0L913.2 739.7L913.3 740.0L913.4 742.4L913.5 737.9L913.6 741.3L913.7 740.2L913.8 745.3L913.8 738.5L913.9 742.5L914.0 740.1L914.1 737.0L914.2 740.9L914.3 739.2L914.4 739.7L914.5 739.6L914.6 741.7L914.7 735.2L914.8 741.5L914.9 741.7L915.0 742.2L915.1 740.1L915.2 734.9L915.3 737.7L915.4 736.2L915.5 743.8L915.6 750.6L915.6 737.9L915.7 741.7L915.8 737.1L915.9 733.9L916.0 737.1L916.1 742.9L916.2 739.4L916.3 742.4L916.4 734.3L916.5 737.1L916.6 741.1L916.7 740.7L916.8 741.4L916.9 733.9L917.0 746.5L917.1 739.9L917.2 743.5L917.3 737.6L917.4 736.0L917.4 743.0L917.5 745.1L917.6 743.4L917.7 737.6L917.8 746.9L917.9 739.8L918.0 736.4L918.1 741.8L918.2 740.4L918.3 743.5L918.4 741.8L918.5 744.5L918.6 741.2L918.7 744.4L918.8 742.0L918.9 733.4L919.0 740.4L919.1 739.4L919.2 740.5L919.2 741.9L919.3 744.1L919.4 741.0L919.5 743.3L919.6 738.4L919.7 741.3L919.8 746.0L919.9 740.4L920.0 742.5L920.1 744.0L920.2 740.9L920.3 740.7L920.4 742.9L920.5 738.1L920.6 733.6L920.7 737.0L920.8 740.0L920.9 743.4L920.9 743.4L921.0 746.3L921.1 743.3L921.2 743.4L921.3 742.2L921.4 740.4L921.5 741.2L921.6 735.0L921.7 739.7L921.8 732.7L921.9 743.2L922.0 745.0L922.1 741.8L922.2 737.6L922.3 740.2L922.4 743.1L922.5 743.3L922.6 740.5L922.7 736.0L922.7 739.9L922.8 740.0L922.9 741.2L923.0 742.1L923.1 739.5L923.2 740.0L923.3 738.8L923.4 741.2L923.5 739.1L923.6 741.7L923.7 742.4L923.8 733.7L923.9 738.0L924.0 739.2L924.1 738.2L924.2 741.2L924.3 736.3L924.4 734.6L924.5 741.4L924.5 735.3L924.6 734.6L924.7 739.8L924.8 745.7L924.9 739.9L925.0 745.0L925.1 737.4L925.2 743.4L925.3 739.7L925.4 739.2L925.5 742.2L925.6 745.6L925.7 736.5L925.8 743.5L925.9 744.6L926.0 740.5L926.1 741.6L926.2 745.8L926.3 742.7L926.3 740.9L926.4 741.6L926.5 739.3L926.6 743.3L926.7 739.1L926.8 735.5L926.9 736.3L927.0 742.7L927.1 738.8L927.2 739.9L927.3 746.4L927.4 744.1L927.5 741.3L927.6 738.1L927.7 743.1L927.8 742.2L927.9 748.9L928.0 741.6L928.0 744.2L928.1 741.8L928.2 741.8L928.3 744.5L928.4 733.8L928.5 744.5L928.6 733.9L928.7 740.4L928.8 747.9L928.9 741.8L929.0 742.8L929.1 742.9L929.2 745.2L929.3 736.0L929.4 747.6L929.5 746.6L929.6 744.6L929.7 735.8L929.8 740.3L929.8 744.8L929.9 746.5L930.0 735.6L930.1 739.4L930.2 744.2L930.3 740.6L930.4 737.6L930.5 750.5L930.6 744.5L930.7 743.8L930.8 740.7L930.9 745.6L931.0 740.5L931.1 745.0L931.2 740.5L931.3 748.7L931.4 734.2L931.5 745.3L931.6 747.9L931.6 750.0L931.7 741.8L931.8 741.2L931.9 743.1L932.0 749.0L932.1 742.7L932.2 736.3L932.3 750.4L932.4 743.9L932.5 742.8L932.6 736.1L932.7 746.5L932.8 738.1L932.9 737.5L933.0 742.8L933.1 742.2L933.2 737.3L933.3 746.9L933.4 743.2L933.4 740.6L933.5 746.9L933.6 741.3L933.7 743.8L933.8 740.9L933.9 743.3L934.0 743.3L934.1 736.2L934.2 744.6L934.3 744.5L934.4 739.5L934.5 743.1L934.6 743.9L934.7 735.3L934.8 742.0L934.9 744.0L935.0 745.3L935.1 744.9L935.1 743.7L935.2 740.9L935.3 736.7L935.4 741.9L935.5 744.2L935.6 746.3L935.7 742.3L935.8 743.1L935.9 739.1L936.0 742.1L936.1 740.4L936.2 740.6L936.3 740.2L936.4 741.3L936.5 735.5L936.6 745.2L936.7 740.2L936.8 742.1L936.9 744.8L936.9 743.7L937.0 738.9L937.1 746.2L937.2 746.2L937.3 744.4L937.4 743.9L937.5 747.1L937.6 739.7L937.7 743.3L937.8 747.1L937.9 743.3L938.0 738.0L938.1 739.4L938.2 741.8L938.3 741.6L938.4 738.5L938.5 748.3L938.6 736.9L938.7 746.1L938.7 742.1L938.8 744.1L938.9 739.2L939.0 743.1L939.1 742.7L939.2 741.3L939.3 743.8L939.4 743.1L939.5 744.1L939.6 741.2L939.7 741.5L939.8 745.8L939.9 742.4L940.0 733.0L940.1 740.3L940.2 743.7L940.3 744.8L940.4 742.8L940.5 739.8L940.5 750.4L940.6 742.6L940.7 743.7L940.8 738.1L940.9 742.9L941.0 739.0L941.1 748.3L941.2 745.9L941.3 740.0L941.4 744.8L941.5 741.4L941.6 741.9L941.7 745.8L941.8 744.1L941.9 740.4L942.0 742.4L942.1 747.0L942.2 745.5L942.2 745.1L942.3 744.1L942.4 740.5L942.5 748.5L942.6 745.5L942.7 740.8L942.8 744.6L942.9 744.3L943.0 747.0L943.1 747.8L943.2 739.7L943.3 741.4L943.4 743.1L943.5 744.3L943.6 745.0L943.7 741.0L943.8 744.8L943.9 744.3L944.0 750.2L944.0 743.1L944.1 747.0L944.2 742.6L944.3 745.8L944.4 744.1L944.5 739.3L944.6 747.5L944.7 744.8L944.8 748.7L944.9 744.1L945.0 743.8L945.1 747.1L945.2 746.6L945.3 737.6L945.4 745.3L945.5 742.1L945.6 741.7L945.7 741.1L945.8 744.7L945.8 747.4L945.9 739.9L946.0 738.9L946.1 746.1L946.2 739.4L946.3 744.0L946.4 737.8L946.5 738.9L946.6 747.1L946.7 739.8L946.8 743.8L946.9 748.9L947.0 742.2L947.1 745.3L947.2 748.0L947.3 740.6L947.4 741.8L947.5 745.9L947.6 742.9L947.6 748.3L947.7 742.4L947.8 748.8L947.9 746.4L948.0 745.7L948.1 741.4L948.2 739.0L948.3 748.0L948.4 741.0L948.5 742.6L948.6 739.1L948.7 742.3L948.8 747.1L948.9 744.5L949.0 749.8L949.1 741.2L949.2 741.0L949.3 740.5L949.3 743.3L949.4 743.1L949.5 747.8L949.6 743.2L949.7 747.3L949.8 742.1L949.9 743.7L950.0 743.1L950.1 751.1L950.2 743.6L950.3 749.3L950.4 741.1L950.5 744.1L950.6 746.2L950.7 743.8L950.8 743.9L950.9 744.5L951.0 748.6L951.1 745.9L951.1 749.1L951.2 747.2L951.3 749.3L951.4 740.9L951.5 740.2L951.6 741.6L951.7 745.2L951.8 745.8L951.9 743.6L952.0 741.1L952.1 744.5L952.2 747.5L952.3 750.6L952.4 741.8L952.5 741.5L952.6 744.6L952.7 748.0L952.8 738.8L952.9 740.6L952.9 740.1L953.0 740.3L953.1 743.5L953.2 748.0L953.3 746.2L953.4 744.3L953.5 741.0L953.6 746.0L953.7 741.2L953.8 746.5L953.9 742.5L954.0 743.5L954.1 741.4L954.2 750.3L954.3 745.8L954.4 746.9L954.5 747.6L954.6 737.7L954.7 744.1L954.7 741.2L954.8 749.1L954.9 746.7L955.0 745.8L955.1 744.0L955.2 743.2L955.3 739.6L955.4 746.3L955.5 741.5L955.6 743.9L955.7 743.3L955.8 744.1L955.9 746.6L956.0 740.6L956.1 748.3L956.2 743.9L956.3 748.4L956.4 741.6L956.4 746.6L956.5 750.4L956.6 744.7L956.7 750.1L956.8 744.1L956.9 743.5L957.0 745.3L957.1 750.3L957.2 740.1L957.3 752.0L957.4 747.4L957.5 750.9L957.6 747.3L957.7 745.4L957.8 741.9L957.9 745.6L958.0 745.4L958.1 744.1L958.2 738.3L958.2 745.9L958.3 750.0L958.4 744.7L958.5 745.1L958.6 742.2L958.7 745.6L958.8 748.0L958.9 740.2L959.0 747.0L959.1 753.2L959.2 745.5L959.3 744.8L959.4 744.0L959.5 743.2L959.6 745.7L959.7 746.6L959.8 741.4L959.9 753.3L960.0 742.5L960.0 741.7L960.1 745.6L960.2 744.7L960.3 747.6L960.4 739.9L960.5 745.8L960.6 747.3L960.7 745.3L960.8 750.3L960.9 741.3L961.0 740.1L961.1 745.2L961.2 748.7L961.3 744.1L961.4 746.0L961.5 737.8L961.6 744.5L961.7 742.7L961.8 748.5L961.8 744.6L961.9 743.7L962.0 745.1L962.1 740.9L962.2 745.9L962.3 748.7L962.4 748.9L962.5 744.3L962.6 745.0L962.7 742.5L962.8 745.5L962.9 745.9L963.0 744.9L963.1 743.3L963.2 743.3L963.3 747.2L963.4 743.4L963.5 745.3L963.5 747.4L963.6 746.1L963.7 747.7L963.8 744.6L963.9 744.1L964.0 742.5L964.1 744.3L964.2 747.5L964.3 740.8L964.4 743.3L964.5 743.6L964.6 747.5L964.7 746.1L964.8 745.7L964.9 748.7L965.0 750.7L965.1 745.4L965.2 746.3L965.3 753.1L965.3 745.2L965.4 739.6L965.5 744.0L965.6 744.5L965.7 744.5L965.8 742.2L965.9 744.9L966.0 742.7L966.1 744.0L966.2 744.7L966.3 743.6L966.4 748.6L966.5 751.0L966.6 746.5L966.7 745.5L966.8 747.0L966.9 745.8L967.0 744.2L967.1 743.1L967.1 743.7L967.2 748.0L967.3 746.7L967.4 740.8L967.5 750.8L967.6 746.2L967.7 740.4L967.8 743.6L967.9 745.2L968.0 744.6L968.1 750.9L968.2 754.5L968.3 743.8L968.4 748.3L968.5 751.6L968.6 751.0L968.7 746.1L968.8 746.3L968.9 748.3L968.9 742.5L969.0 742.6L969.1 740.8L969.2 742.7L969.3 743.0L969.4 740.6L969.5 749.6L969.6 747.3L969.7 744.0L969.8 748.2L969.9 745.5L970.0 746.0L970.1 744.4L970.2 749.7L970.3 746.6L970.4 744.2L970.5 749.6L970.6 746.0L970.6 749.7L970.7 741.5L970.8 746.8L970.9 740.7L971.0 746.7L971.1 743.5L971.2 747.3L971.3 746.6L971.4 752.6L971.5 740.9L971.6 744.9L971.7 748.7L971.8 752.0L971.9 748.8L972.0 745.0L972.1 747.7L972.2 754.5L972.3 747.6L972.4 746.8L972.4 743.4L972.5 745.1L972.6 745.8L972.7 744.2L972.8 747.3L972.9 743.1L973.0 743.5L973.1 753.7L973.2 749.0L973.3 740.4L973.4 749.2L973.5 750.5L973.6 745.0L973.7 746.4L973.8 748.7L973.9 739.3L974.0 751.1L974.1 747.8L974.2 743.8L974.2 745.7L974.3 746.3L974.4 744.0L974.5 747.8L974.6 743.1L974.7 747.3L974.8 745.3L974.9 742.5L975.0 747.8L975.1 741.4L975.2 744.6L975.3 741.5L975.4 747.8L975.5 747.3L975.6 752.5L975.7 746.7L975.8 746.6L975.9 747.6L976.0 745.8L976.0 741.1L976.1 743.8L976.2 745.7L976.3 748.7L976.4 753.0L976.5 741.1L976.6 757.9L976.7 743.5L976.8 742.2L976.9 750.5L977.0 749.8L977.1 750.4L977.2 751.6L977.3 745.8L977.4 746.8L977.5 746.5L977.6 746.0L977.7 745.5L977.7 745.4L977.8 743.9L977.9 747.4L978.0 744.7L978.1 744.7L978.2 751.9L978.3 744.7L978.4 741.6L978.5 747.8L978.6 745.4L978.7 749.3L978.8 747.5L978.9 746.9L979.0 751.7L979.1 747.4L979.2 743.1L979.3 742.6L979.4 741.0L979.5 750.7L979.5 747.8L979.6 740.2L979.7 752.0L979.8 742.0L979.9 757.4L980.0 750.5L980.1 743.3L980.2 753.1L980.3 748.7L980.4 741.7L980.5 746.4L980.6 747.0L980.7 752.5L980.8 746.6L980.9 749.4L981.0 749.4L981.1 743.5L981.2 736.8L981.3 744.2L981.3 739.0L981.4 751.9L981.5 752.8L981.6 746.6L981.7 743.7L981.8 749.9L981.9 740.5L982.0 742.4L982.1 749.2L982.2 746.1L982.3 743.2L982.4 747.5L982.5 746.1L982.6 748.5L982.7 748.2L982.8 746.5L982.9 752.2L983.0 747.0L983.1 741.5L983.1 749.7L983.2 740.5L983.3 746.7L983.4 752.5L983.5 745.1L983.6 748.6L983.7 744.7L983.8 753.8L983.9 741.9L984.0 747.3L984.1 743.7L984.2 744.7L984.3 748.3L984.4 746.5L984.5 746.7L984.6 750.9L984.7 745.5L984.8 742.5L984.8 748.2L984.9 749.7L985.0 746.1L985.1 753.8L985.2 753.9L985.3 744.5L985.4 750.6L985.5 750.2L985.6 742.8L985.7 742.9L985.8 746.4L985.9 752.2L986.0 748.2L986.1 749.8L986.2 744.8L986.3 747.5L986.4 753.9L986.5 750.2L986.6 742.7L986.6 742.4L986.7 751.6L986.8 743.8L986.9 746.6L987.0 745.9L987.1 750.0L987.2 740.7L987.3 743.3L987.4 748.2L987.5 756.5L987.6 744.0L987.7 748.9L987.8 747.8L987.9 745.0L988.0 747.3L988.1 749.4L988.2 745.9L988.3 743.1L988.4 749.7L988.4 748.6L988.5 752.2L988.6 748.0L988.7 750.1L988.8 747.2L988.9 745.3L989.0 743.4L989.1 748.9L989.2 749.4L989.3 744.4L989.4 748.2L989.5 747.2L989.6 750.7L989.7 746.5L989.8 749.0L989.9 751.1L990.0 752.0L990.1 741.2L990.2 745.1L990.2 743.7L990.3 753.2L990.4 746.5L990.5 744.3L990.6 751.3L990.7 753.4L990.8 747.0L990.9 745.4L991.0 750.3L991.1 744.1L991.2 741.8L991.3 750.4L991.4 749.9L991.5 748.9L991.6 752.5L991.7 750.7L991.8 748.9L991.9 746.8L991.9 744.4L992.0 747.5L992.1 744.5L992.2 742.5L992.3 743.5L992.4 747.7L992.5 748.7L992.6 749.0L992.7 747.0L992.8 742.9L992.9 748.9L993.0 754.5L993.1 744.8L993.2 752.5L993.3 745.2L993.4 748.2L993.5 741.7L993.6 751.7L993.7 748.1L993.7 751.0L993.8 742.3L993.9 748.9L994.0 750.8L994.1 742.9L994.2 749.9L994.3 743.0L994.4 752.1L994.5 742.0L994.6 742.3L994.7 743.6L994.8 748.9L994.9 743.6L995.0 744.3L995.1 752.5L995.2 747.2L995.3 749.4L995.4 748.6L995.5 743.7L995.5 747.6L995.6 744.5L995.7 750.0L995.8 753.9L995.9 749.3L996.0 751.2L996.1 748.5L996.2 748.2L996.3 746.9L996.4 750.9L996.5 745.4L996.6 742.5L996.7 743.2L996.8 750.1L996.9 747.4L997.0 750.9L997.1 746.8L997.2 753.1L997.3 744.7L997.3 749.6L997.4 748.4L997.5 743.3L997.6 745.0L997.7 746.9L997.8 740.5L997.9 749.0L998.0 746.0L998.1 747.1L998.2 746.6L998.3 743.7L998.4 753.0L998.5 749.5L998.6 745.2L998.7 748.3L998.8 744.6L998.9 746.5L999.0 746.8L999.0 751.9L999.1 740.7L999.2 743.8L999.3 744.9L999.4 751.0L999.5 753.9L999.6 751.3L999.7 749.4L999.8 744.8L999.9 746.0L1000.0 743.7L1000.1 748.9L1000.2 751.1L1000.3 749.4L1000.4 750.2L1000.5 749.1L1000.6 747.6L1000.7 749.0L1000.8 747.1L1000.8 750.3L1000.9 744.2L1001.0 745.6L1001.1 747.1L1001.2 747.1L1001.3 750.9L1001.4 746.9L1001.5 743.3L1001.6 741.3L1001.7 751.1L1001.8 748.3L1001.9 749.9L1002.0 748.9L1002.1 739.6L1002.2 744.8L1002.3 751.9L1002.4 748.5L1002.5 750.5L1002.6 750.7L1002.6 750.2L1002.7 742.4L1002.8 747.5L1002.9 748.7L1003.0 752.9L1003.1 744.5L1003.2 742.2L1003.3 745.5L1003.4 745.6L1003.5 748.9L1003.6 748.2L1003.7 750.9L1003.8 749.5L1003.9 742.9L1004.0 745.5L1004.1 743.6L1004.2 746.5L1004.3 752.0L1004.4 749.6L1004.4 744.6L1004.5 745.4L1004.6 745.4L1004.7 752.0L1004.8 739.3L1004.9 752.4L1005.0 746.8L1005.1 751.9L1005.2 752.3L1005.3 743.4L1005.4 747.5L1005.5 743.7L1005.6 747.6L1005.7 748.9L1005.8 741.2L1005.9 746.3L1006.0 748.6L1006.1 752.9L1006.1 750.5L1006.2 751.7L1006.3 744.9L1006.4 747.7L1006.5 745.3L1006.6 742.5L1006.7 747.9L1006.8 748.7L1006.9 746.1L1007.0 740.8L1007.1 747.6L1007.2 744.7L1007.3 745.6L1007.4 741.1L1007.5 748.4L1007.6 741.9L1007.7 742.9L1007.8 747.9L1007.9 747.8L1007.9 747.5L1008.0 752.5L1008.1 748.8L1008.2 749.3L1008.3 748.2L1008.4 744.0L1008.5 746.7L1008.6 747.5L1008.7 748.4L1008.8 750.0L1008.9 741.2L1009.0 753.1L1009.1 751.9L1009.2 753.2L1009.3 749.5L1009.4 745.9L1009.5 754.2L1009.6 749.4L1009.7 750.9L1009.7 749.6L1009.8 752.4L1009.9 747.2L1010.0 752.1L1010.1 750.5L1010.2 750.2L1010.3 749.1L1010.4 747.7L1010.5 744.7L1010.6 751.0L1010.7 749.7L1010.8 744.4L1010.9 749.1L1011.0 748.8L1011.1 750.1L1011.2 743.4L1011.3 748.9L1011.4 750.0L1011.5 749.5L1011.5 745.5L1011.6 746.8L1011.7 750.3L1011.8 746.7L1011.9 748.4L1012.0 745.6L1012.1 745.8L1012.2 746.8L1012.3 743.7L1012.4 746.3L1012.5 747.4L1012.6 746.6L1012.7 743.3L1012.8 748.6L1012.9 745.0L1013.0 749.1L1013.1 739.1L1013.2 748.9L1013.2 746.3L1013.3 746.8L1013.4 749.2L1013.5 748.9L1013.6 752.1L1013.7 741.9L1013.8 744.2L1013.9 744.5L1014.0 744.7L1014.1 740.3L1014.2 752.7L1014.3 749.2L1014.4 745.9L1014.5 745.8L1014.6 748.4L1014.7 748.7L1014.8 750.5L1014.9 750.1L1015.0 744.6L1015.0 747.0L1015.1 753.3L1015.2 746.1L1015.3 746.7L1015.4 748.1L1015.5 751.3L1015.6 748.3L1015.7 748.2L1015.8 744.7L1015.9 750.5L1016.0 756.9L1016.1 748.0L1016.2 743.0L1016.3 748.9L1016.4 748.0L1016.5 747.7L1016.6 753.8L1016.7 749.0L1016.8 751.2L1016.8 747.1L1016.9 746.2L1017.0 748.3L1017.1 749.6L1017.2 749.1L1017.3 747.3L1017.4 748.8L1017.5 745.2L1017.6 748.9L1017.7 744.3L1017.8 747.8L1017.9 745.6L1018.0 749.8L1018.1 747.1L1018.2 752.6L1018.3 748.8L1018.4 751.5L1018.5 748.1L1018.6 743.8L1018.6 748.3L1018.7 750.2L1018.8 747.6L1018.9 752.9L1019.0 741.2L1019.1 750.0L1019.2 747.6L1019.3 755.0L1019.4 749.7L1019.5 750.4L1019.6 747.8L1019.7 747.3L1019.8 754.6L1019.9 750.8L1020.0 751.6L1020.1 747.6L1020.2 743.6L1020.3 748.6L1020.3 750.6L1020.4 747.6L1020.5 749.3L1020.6 746.9L1020.7 747.8L1020.8 750.1L1020.9 747.0L1021.0 745.1L1021.1 748.7L1021.2 742.6L1021.3 748.5L1021.4 745.7L1021.5 748.2L1021.6 743.6L1021.7 745.8L1021.8 749.4L1021.9 747.3L1022.0 743.0L1022.1 751.4L1022.1 745.8L1022.2 749.9L1022.3 750.7L1022.4 756.3L1022.5 744.6L1022.6 749.8L1022.7 753.1L1022.8 749.8L1022.9 745.1L1023.0 746.8L1023.1 749.8L1023.2 748.5L1023.3 748.8L1023.4 750.1L1023.5 745.6L1023.6 747.1L1023.7 748.9L1023.8 751.4L1023.9 747.6L1023.9 750.8L1024.0 747.1L1024.1 750.3L1024.2 745.4L1024.3 752.0L1024.4 751.2L1024.5 748.0L1024.6 750.7L1024.7 747.6L1024.8 748.7L1024.9 745.3L1025.0 751.9L1025.1 744.0L1025.2 758.4L1025.3 744.7L1025.4 745.7L1025.5 755.6L1025.6 748.0L1025.7 743.0L1025.7 751.7L1025.8 748.6L1025.9 750.7L1026.0 746.9L1026.1 743.0L1026.2 747.5L1026.3 743.0L1026.4 746.0L1026.5 750.0L1026.6 746.9L1026.7 749.4L1026.8 746.4L1026.9 751.0L1027.0 751.9L1027.1 744.2L1027.2 744.7L1027.3 748.6L1027.4 744.1L1027.4 752.2L1027.5 748.2L1027.6 747.8L1027.7 743.7L1027.8 748.9L1027.9 749.9L1028.0 749.9L1028.1 753.8L1028.2 747.2L1028.3 746.2L1028.4 745.2L1028.5 750.1L1028.6 748.0L1028.7 745.8L1028.8 744.1L1028.9 746.8L1029.0 748.7L1029.1 743.9L1029.2 745.9L1029.2 752.9L1029.3 748.6L1029.4 750.7L1029.5 742.5L1029.6 750.4L1029.7 748.4L1029.8 749.4L1029.9 749.5L1030.0 747.8L1030.1 746.8L1030.2 750.4L1030.3 750.4L1030.4 752.2L1030.5 746.2L1030.6 749.2L1030.7 749.4L1030.8 746.0L1030.9 747.6L1031.0 745.2L1031.0 746.1L1031.1 752.1L1031.2 743.9L1031.3 747.2L1031.4 750.7L1031.5 749.9L1031.6 744.6L1031.7 755.4L1031.8 746.8L1031.9 750.5L1032.0 748.7L1032.1 756.1L1032.2 748.3L1032.3 748.6L1032.4 739.4L1032.5 748.8L1032.6 749.2L1032.7 749.2L1032.8 751.8L1032.8 746.6L1032.9 753.6L1033.0 747.8L1033.1 750.8L1033.2 750.4L1033.3 752.1L1033.4 752.3L1033.5 742.5L1033.6 745.5L1033.7 744.7L1033.8 751.1L1033.9 749.6L1034.0 750.3L1034.1 751.2L1034.2 746.6L1034.3 748.1L1034.4 752.1L1034.5 750.0L1034.5 752.7L1034.6 752.6L1034.7 748.2L1034.8 746.6L1034.9 749.2L1035.0 748.1L1035.1 748.0L1035.2 741.8L1035.3 752.2L1035.4 748.3L1035.5 748.7L1035.6 748.0L1035.7 745.9L1035.8 750.1L1035.9 745.0L1036.0 751.5L1036.1 748.6L1036.2 741.9L1036.3 749.1L1036.3 747.4L1036.4 746.8L1036.5 748.3L1036.6 741.4L1036.7 747.0L1036.8 750.6L1036.9 746.5L1037.0 747.1L1037.1 751.0L1037.2 747.9L1037.3 749.3L1037.4 750.6L1037.5 746.6L1037.6 748.3L1037.7 746.3L1037.8 745.5L1037.9 753.2L1038.0 753.5L1038.1 752.2L1038.1 749.8L1038.2 751.8L1038.3 747.9L1038.4 749.1L1038.5 749.4L1038.6 747.3L1038.7 750.0L1038.8 748.5L1038.9 743.5L1039.0 752.4L1039.1 746.1L1039.2 748.0L1039.3 751.5L1039.4 749.5L1039.5 751.1L1039.6 744.4L1039.7 748.4L1039.8 750.5L1039.9 747.4L1039.9 749.9L1040.0 747.2L1040.1 753.1L1040.2 746.3L1040.3 757.2L1040.4 753.5L1040.5 754.3L1040.6 754.4L1040.7 750.0L1040.8 747.9L1040.9 750.7L1041.0 751.5L1041.1 746.9L1041.2 757.3L1041.3 744.5L1041.4 751.0L1041.5 751.5L1041.6 747.8L1041.6 752.1L1041.7 750.5L1041.8 753.5L1041.9 749.6L1042.0 752.0L1042.1 751.7L1042.2 751.0L1042.3 750.6L1042.4 746.4L1042.5 749.6L1042.6 754.6L1042.7 750.7L1042.8 752.0L1042.9 750.5L1043.0 753.9L1043.1 750.3L1043.2 746.8L1043.3 747.2L1043.4 743.6L1043.4 748.7L1043.5 751.0L1043.6 749.0L1043.7 758.1L1043.8 753.5L1043.9 748.5L1044.0 747.8L1044.1 754.7L1044.2 753.3L1044.3 746.3L1044.4 752.0L1044.5 746.0L1044.6 752.8L1044.7 748.8L1044.8 746.4L1044.9 752.5L1045.0 750.2L1045.1 745.5L1045.2 743.9L1045.2 747.3L1045.3 753.2L1045.4 745.7L1045.5 753.9L1045.6 750.1L1045.7 751.7L1045.8 744.7L1045.9 756.7L1046.0 747.4L1046.1 741.9L1046.2 748.8L1046.3 751.4L1046.4 742.1L1046.5 746.9L1046.6 745.2L1046.7 748.6" stroke="#000" stroke-width="0.5" fill="none" stroke-linejoin="round"/>
</svg>
</body></html>
